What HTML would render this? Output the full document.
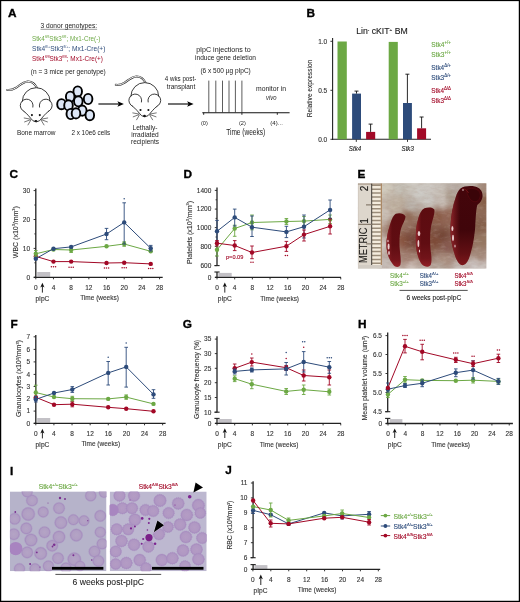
<!DOCTYPE html>
<html><head><meta charset="utf-8"><title>Figure</title>
<style>html,body{margin:0;padding:0;background:#fff;}body{width:520px;height:602px;overflow:hidden;}svg{display:block;will-change:transform;}text{font-family:"Liberation Sans", sans-serif;}</style>
</head><body>
<svg xmlns="http://www.w3.org/2000/svg" width="520" height="602" viewBox="0 0 520 602" font-family='"Liberation Sans", sans-serif'>
<rect x="0.00" y="0.00" width="520.00" height="602.00" fill="#fff" />
<text x="8.00" y="16.70" font-size="11.8" fill="#000" stroke="#000" stroke-width="0.35" font-weight="bold" >A</text>
<text x="40.50" y="28.20" font-size="7.1" fill="#222" stroke="none" textLength="56.6" lengthAdjust="spacingAndGlyphs" >3 donor genotypes:</text>
<line x1="40.50" y1="29.30" x2="97.10" y2="29.30" stroke="#333" stroke-width="0.5" />
<text x="32.1" y="41.2" font-size="7.2" fill="#6ca844" stroke="none" textLength="68.3" lengthAdjust="spacingAndGlyphs">Stk4<tspan font-size="4" dy="-3">fl/fl</tspan><tspan dy="3">Stk3</tspan><tspan font-size="4" dy="-3">fl/fl</tspan><tspan dy="3">; Mx1-Cre(-)</tspan></text>
<text x="32.1" y="51.4" font-size="7.2" fill="#2d4b7a" stroke="none" textLength="73.3" lengthAdjust="spacingAndGlyphs">Stk4<tspan font-size="4" dy="-3">fl/+</tspan><tspan dy="3">Stk3</tspan><tspan font-size="4" dy="-3">fl/+</tspan><tspan dy="3">; Mx1-Cre(+)</tspan></text>
<text x="32.1" y="61.4" font-size="7.2" fill="#a20826" stroke="none" textLength="70.8" lengthAdjust="spacingAndGlyphs">Stk4<tspan font-size="4" dy="-3">fl/fl</tspan><tspan dy="3">Stk3</tspan><tspan font-size="4" dy="-3">fl/fl</tspan><tspan dy="3">; Mx1-Cre(+)</tspan></text>
<text x="30.80" y="74.30" font-size="7.1" fill="#222" stroke="none" textLength="75.0" lengthAdjust="spacingAndGlyphs" >(n = 3 mice per genotype)</text>
<g transform="translate(36.20,101.50) scale(1.0)">
<path d="M0.8,-13.6 C-1.5,-18.2 -5,-20.2 -8.5,-20.0 C-13,-19.6 -16.5,-16.2 -20.5,-13.6 C-23.5,-11.8 -26.5,-11.2 -29.0,-11.6" fill="none" stroke="#2a2a2a" stroke-width="2.0" stroke-linecap="round"/>
<path d="M0.8,-13.6 C-1.5,-18.2 -5,-20.2 -8.5,-20.0 C-13,-19.6 -16.5,-16.2 -20.5,-13.6 C-23.5,-11.8 -26.5,-11.2 -29.0,-11.6" fill="none" stroke="#fff" stroke-width="0.95" stroke-linecap="round"/>
<path d="M-13.9,-0.3 A13.9,13.5 0 0 1 13.9,-0.3 L16,4 C16,8 13,10 11,10.5 C8,13 5,18 2.5,19.8 Q0,21.3 -2.5,19.8 C-5,18 -8,13 -11,10.5 C-13,10 -16,8 -16,4 Z" fill="#fff"/>
<path d="M-13.9,-0.3 A13.9,13.5 0 0 1 13.9,-0.3" fill="none" stroke="#1a1a1a" stroke-width="0.85" stroke-linecap="round"/>
<path d="M-3.3,5.6 A6.4,6.4 0 1 0 -12.2,9.9" fill="none" stroke="#1a1a1a" stroke-width="0.85" stroke-linecap="round"/>
<path d="M3.3,5.6 A6.4,6.4 0 1 1 12.2,9.9" fill="none" stroke="#1a1a1a" stroke-width="0.85" stroke-linecap="round"/>
<path d="M-12.2,9.9 C-9,12 -6,16.5 -3.2,19.3 Q0,21.6 3.2,19.3 C6,16.5 9,12 12.2,9.9" fill="none" stroke="#1a1a1a" stroke-width="0.85" stroke-linecap="round"/>
<circle cx="-4.3" cy="13.6" r="1.05" fill="#111"/><circle cx="3.6" cy="13.6" r="1.05" fill="#111"/>
<ellipse cx="-0.3" cy="19.5" rx="1.4" ry="1.1" fill="#111"/>
<path d="M-6,17.6 L-12,16.5 M-6,18.3 L-11.6,20.4 M-5.5,18.8 L-8.2,23.4 M5.5,17.6 L11.5,16.5 M5.5,18.3 L11.2,20.4 M5,18.8 L7.8,23.4" stroke="#1a1a1a" stroke-width="0.6" fill="none" stroke-linecap="round"/>
</g>
<ellipse cx="77.7" cy="91.5" rx="4.3" ry="5.1" fill="#dce6f6" stroke="#000" stroke-width="1.9"/>
<ellipse cx="70.2" cy="96.7" rx="4.3" ry="5.1" fill="#dce6f6" stroke="#000" stroke-width="1.9"/>
<ellipse cx="88.1" cy="99.0" rx="4.3" ry="5.1" fill="#dce6f6" stroke="#000" stroke-width="1.9"/>
<ellipse cx="78.3" cy="101.3" rx="4.3" ry="5.1" fill="#dce6f6" stroke="#000" stroke-width="1.9"/>
<ellipse cx="61.5" cy="104.2" rx="4.3" ry="5.1" fill="#dce6f6" stroke="#000" stroke-width="1.9"/>
<ellipse cx="68.5" cy="105.4" rx="4.3" ry="5.1" fill="#dce6f6" stroke="#000" stroke-width="1.9"/>
<ellipse cx="82.3" cy="110.6" rx="4.3" ry="5.1" fill="#dce6f6" stroke="#000" stroke-width="1.9"/>
<ellipse cx="70.8" cy="114.0" rx="4.3" ry="5.1" fill="#dce6f6" stroke="#000" stroke-width="1.9"/>
<ellipse cx="76.0" cy="113.4" rx="4.3" ry="5.1" fill="#dce6f6" stroke="#000" stroke-width="1.9"/>
<ellipse cx="89.8" cy="115.2" rx="4.3" ry="5.1" fill="#dce6f6" stroke="#000" stroke-width="1.9"/>
<g transform="translate(144.80,96.40) scale(1.0)">
<path d="M0.8,-13.6 C-1.5,-18.2 -5,-20.2 -8.5,-20.0 C-13,-19.6 -16.5,-16.2 -20.5,-13.6 C-23.5,-11.8 -26.5,-11.2 -29.0,-11.6" fill="none" stroke="#2a2a2a" stroke-width="2.0" stroke-linecap="round"/>
<path d="M0.8,-13.6 C-1.5,-18.2 -5,-20.2 -8.5,-20.0 C-13,-19.6 -16.5,-16.2 -20.5,-13.6 C-23.5,-11.8 -26.5,-11.2 -29.0,-11.6" fill="none" stroke="#fff" stroke-width="0.95" stroke-linecap="round"/>
<path d="M-13.9,-0.3 A13.9,13.5 0 0 1 13.9,-0.3 L16,4 C16,8 13,10 11,10.5 C8,13 5,18 2.5,19.8 Q0,21.3 -2.5,19.8 C-5,18 -8,13 -11,10.5 C-13,10 -16,8 -16,4 Z" fill="#fff"/>
<path d="M-13.9,-0.3 A13.9,13.5 0 0 1 13.9,-0.3" fill="none" stroke="#1a1a1a" stroke-width="0.85" stroke-linecap="round"/>
<path d="M-3.3,5.6 A6.4,6.4 0 1 0 -12.2,9.9" fill="none" stroke="#1a1a1a" stroke-width="0.85" stroke-linecap="round"/>
<path d="M3.3,5.6 A6.4,6.4 0 1 1 12.2,9.9" fill="none" stroke="#1a1a1a" stroke-width="0.85" stroke-linecap="round"/>
<path d="M-12.2,9.9 C-9,12 -6,16.5 -3.2,19.3 Q0,21.6 3.2,19.3 C6,16.5 9,12 12.2,9.9" fill="none" stroke="#1a1a1a" stroke-width="0.85" stroke-linecap="round"/>
<circle cx="-4.3" cy="13.6" r="1.05" fill="#111"/><circle cx="3.6" cy="13.6" r="1.05" fill="#111"/>
<ellipse cx="-0.3" cy="19.5" rx="1.4" ry="1.1" fill="#111"/>
<path d="M-6,17.6 L-12,16.5 M-6,18.3 L-11.6,20.4 M-5.5,18.8 L-8.2,23.4 M5.5,17.6 L11.5,16.5 M5.5,18.3 L11.2,20.4 M5,18.8 L7.8,23.4" stroke="#1a1a1a" stroke-width="0.6" fill="none" stroke-linecap="round"/>
</g>
<line x1="98.40" y1="104.00" x2="119.90" y2="104.00" stroke="#000" stroke-width="1.1" />
<path d="M117.40,101.20 L123.90,104.00 L117.40,106.80 L118.90,104.00 Z" fill="#000"/>
<line x1="168.00" y1="104.00" x2="189.60" y2="104.00" stroke="#000" stroke-width="1.1" />
<path d="M187.10,101.20 L193.60,104.00 L187.10,106.80 L188.60,104.00 Z" fill="#000"/>
<text x="36.20" y="134.80" font-size="7.0" fill="#222" stroke="none" text-anchor="middle" textLength="38.5" lengthAdjust="spacingAndGlyphs" >Bone marrow</text>
<text x="90.80" y="134.80" font-size="7.0" fill="#222" stroke="none" text-anchor="middle" textLength="38.8" lengthAdjust="spacingAndGlyphs" >2 x 10e6 cells</text>
<text x="145.00" y="129.60" font-size="6.8" fill="#222" stroke="none" text-anchor="middle" textLength="25" lengthAdjust="spacingAndGlyphs" >Lethally-</text>
<text x="145.00" y="137.00" font-size="6.8" fill="#222" stroke="none" text-anchor="middle" textLength="27.5" lengthAdjust="spacingAndGlyphs" >irradiated</text>
<text x="145.00" y="144.40" font-size="6.8" fill="#222" stroke="none" text-anchor="middle" textLength="28" lengthAdjust="spacingAndGlyphs" >recipients</text>
<text x="180.50" y="80.80" font-size="6.8" fill="#222" stroke="none" text-anchor="middle" textLength="31.5" lengthAdjust="spacingAndGlyphs" >4 wks post-</text>
<text x="181.00" y="88.60" font-size="6.8" fill="#222" stroke="none" text-anchor="middle" textLength="28.5" lengthAdjust="spacingAndGlyphs" >transplant</text>
<text x="223.40" y="51.80" font-size="6.8" fill="#222" stroke="none" text-anchor="middle" textLength="54.5" lengthAdjust="spacingAndGlyphs" >pIpC injections to</text>
<text x="225.50" y="60.20" font-size="6.8" fill="#222" stroke="none" text-anchor="middle" textLength="61" lengthAdjust="spacingAndGlyphs" >induce gene deletion</text>
<text x="225.60" y="73.00" font-size="6.8" fill="#222" stroke="none" text-anchor="middle" textLength="50.4" lengthAdjust="spacingAndGlyphs" >(6 x 500 µg pIpC)</text>
<line x1="202.30" y1="112.70" x2="289.60" y2="112.70" stroke="#111" stroke-width="1.1" />
<line x1="208.80" y1="80.60" x2="208.80" y2="112.70" stroke="#333" stroke-width="0.8" />
<line x1="215.80" y1="80.60" x2="215.80" y2="112.70" stroke="#333" stroke-width="0.8" />
<line x1="222.50" y1="80.60" x2="222.50" y2="112.70" stroke="#333" stroke-width="0.8" />
<line x1="229.00" y1="80.60" x2="229.00" y2="112.70" stroke="#333" stroke-width="0.8" />
<line x1="235.40" y1="80.60" x2="235.40" y2="112.70" stroke="#333" stroke-width="0.8" />
<line x1="241.90" y1="80.60" x2="241.90" y2="112.70" stroke="#333" stroke-width="0.8" />
<line x1="203.70" y1="112.70" x2="203.70" y2="114.80" stroke="#111" stroke-width="0.9" />
<line x1="241.90" y1="112.70" x2="241.90" y2="114.80" stroke="#111" stroke-width="0.9" />
<line x1="277.30" y1="112.70" x2="277.30" y2="114.80" stroke="#111" stroke-width="0.9" />
<text x="204.40" y="124.60" font-size="5.6" fill="#222" stroke="none" text-anchor="middle" >(0)</text>
<text x="242.40" y="124.60" font-size="5.6" fill="#222" stroke="none" text-anchor="middle" >(2)</text>
<text x="276.60" y="124.60" font-size="5.6" fill="#222" stroke="none" text-anchor="middle" textLength="12.5" lengthAdjust="spacingAndGlyphs" >(4)...</text>
<text x="245.70" y="135.40" font-size="8.2" fill="#222" stroke="none" text-anchor="middle" textLength="39" lengthAdjust="spacingAndGlyphs" >Time (weeks)</text>
<text x="271.00" y="91.00" font-size="6.6" fill="#222" stroke="none" text-anchor="middle" textLength="30" lengthAdjust="spacingAndGlyphs" >monitor in</text>
<text x="271.30" y="99.60" font-size="6.6" fill="#222" stroke="none" text-anchor="middle" font-style="italic" textLength="10.5" lengthAdjust="spacingAndGlyphs" >vivo</text>
<text x="306.40" y="16.60" font-size="11.8" fill="#000" stroke="#000" stroke-width="0.35" font-weight="bold" >B</text>
<text x="356.2" y="34.0" font-size="8.2" fill="#222" stroke="#222" stroke-width="0.12" textLength="51.5" lengthAdjust="spacingAndGlyphs">Lin<tspan font-size="4.4" dy="-3.2">-</tspan><tspan dy="3.2"> cKIT</tspan><tspan font-size="4.4" dy="-3.2">+</tspan><tspan dy="3.2"> BM</tspan></text>
<line x1="332.60" y1="38.00" x2="332.60" y2="139.90" stroke="#222" stroke-width="1.1" />
<line x1="332.00" y1="139.30" x2="431.00" y2="139.30" stroke="#222" stroke-width="1.1" />
<line x1="330.40" y1="41.30" x2="332.60" y2="41.30" stroke="#222" stroke-width="0.9" />
<text x="327.20" y="43.65" font-size="6.5" fill="#333" stroke="#333" stroke-width="0.12" text-anchor="end" >1.0</text>
<line x1="330.40" y1="90.30" x2="332.60" y2="90.30" stroke="#222" stroke-width="0.9" />
<text x="327.20" y="92.65" font-size="6.5" fill="#333" stroke="#333" stroke-width="0.12" text-anchor="end" >0.5</text>
<line x1="330.40" y1="139.30" x2="332.60" y2="139.30" stroke="#222" stroke-width="0.9" />
<text x="327.20" y="141.65" font-size="6.5" fill="#333" stroke="#333" stroke-width="0.12" text-anchor="end" >0.0</text>
<line x1="356.30" y1="139.30" x2="356.30" y2="141.90" stroke="#222" stroke-width="0.9" />
<line x1="407.50" y1="139.30" x2="407.50" y2="141.90" stroke="#222" stroke-width="0.9" />
<rect x="337.50" y="41.50" width="9.30" height="97.80" fill="#6ca844" />
<rect x="352.10" y="93.60" width="8.90" height="45.70" fill="#2d4b7a" />
<rect x="366.10" y="131.90" width="9.10" height="7.40" fill="#a20a28" />
<rect x="388.70" y="41.90" width="9.10" height="97.40" fill="#6ca844" />
<rect x="403.00" y="103.00" width="8.90" height="36.30" fill="#2d4b7a" />
<rect x="417.10" y="128.30" width="9.00" height="11.00" fill="#a20a28" />
<line x1="356.50" y1="91.10" x2="356.50" y2="93.60" stroke="#111" stroke-width="0.9" />
<line x1="354.50" y1="91.10" x2="358.50" y2="91.10" stroke="#111" stroke-width="0.9" />
<line x1="370.60" y1="124.10" x2="370.60" y2="131.90" stroke="#111" stroke-width="0.9" />
<line x1="368.60" y1="124.10" x2="372.60" y2="124.10" stroke="#111" stroke-width="0.9" />
<line x1="407.40" y1="74.20" x2="407.40" y2="103.00" stroke="#111" stroke-width="0.9" />
<line x1="405.40" y1="74.20" x2="409.40" y2="74.20" stroke="#111" stroke-width="0.9" />
<line x1="421.60" y1="117.00" x2="421.60" y2="128.30" stroke="#111" stroke-width="0.9" />
<line x1="419.60" y1="117.00" x2="423.60" y2="117.00" stroke="#111" stroke-width="0.9" />
<text x="355.00" y="151.20" font-size="6.6" fill="#222" stroke="#222" stroke-width="0.12" text-anchor="middle" font-style="italic" textLength="12.4" lengthAdjust="spacingAndGlyphs" >Stk4</text>
<text x="407.70" y="151.00" font-size="6.6" fill="#222" stroke="#222" stroke-width="0.12" text-anchor="middle" font-style="italic" textLength="12.4" lengthAdjust="spacingAndGlyphs" >Stk3</text>
<text x="312.20" y="88.50" font-size="7.0" fill="#333" stroke="#333" stroke-width="0.12" text-anchor="middle" textLength="57.5" lengthAdjust="spacingAndGlyphs" transform="rotate(-90 312.20 88.50)" >Relative expression</text>
<text x="431.3" y="47.0" font-size="6.8" fill="#6ca844" textLength="19.6" lengthAdjust="spacingAndGlyphs" stroke="#6ca844" stroke-width="0.12">Stk4<tspan font-size="4.6" dy="-3.0">+/+</tspan></text>
<text x="431.3" y="57.0" font-size="6.8" fill="#6ca844" textLength="19.6" lengthAdjust="spacingAndGlyphs" stroke="#6ca844" stroke-width="0.12">Stk3<tspan font-size="4.6" dy="-3.0">+/+</tspan></text>
<text x="431.3" y="70.1" font-size="6.8" fill="#2d4b7a" textLength="19.6" lengthAdjust="spacingAndGlyphs" stroke="#2d4b7a" stroke-width="0.12">Stk4<tspan font-size="4.6" dy="-3.0">Δ/+</tspan></text>
<text x="431.3" y="80.1" font-size="6.8" fill="#2d4b7a" textLength="19.6" lengthAdjust="spacingAndGlyphs" stroke="#2d4b7a" stroke-width="0.12">Stk3<tspan font-size="4.6" dy="-3.0">Δ/+</tspan></text>
<text x="431.3" y="93.4" font-size="6.8" fill="#a20826" textLength="19.6" lengthAdjust="spacingAndGlyphs" stroke="#a20826" stroke-width="0.12">Stk4<tspan font-size="4.6" dy="-3.0">Δ/Δ</tspan></text>
<text x="431.3" y="103.4" font-size="6.8" fill="#a20826" textLength="19.6" lengthAdjust="spacingAndGlyphs" stroke="#a20826" stroke-width="0.12">Stk3<tspan font-size="4.6" dy="-3.0">Δ/Δ</tspan></text>
<text x="9.40" y="178.00" font-size="11.8" fill="#000" stroke="#000" stroke-width="0.35" font-weight="bold" >C</text>
<rect x="37.20" y="272.00" width="13.00" height="4.70" fill="#c3c1c6" />
<line x1="35.80" y1="188.40" x2="35.80" y2="277.30" stroke="#222" stroke-width="1.3" />
<line x1="33.80" y1="277.30" x2="162.70" y2="277.30" stroke="#222" stroke-width="1.3" />
<line x1="33.60" y1="190.60" x2="35.80" y2="190.60" stroke="#222" stroke-width="0.9" />
<text x="30.10" y="192.95" font-size="6.5" fill="#333" stroke="#333" stroke-width="0.12" text-anchor="end" >30</text>
<line x1="34.30" y1="205.00" x2="35.80" y2="205.00" stroke="#222" stroke-width="0.8" />
<line x1="33.60" y1="219.50" x2="35.80" y2="219.50" stroke="#222" stroke-width="0.9" />
<text x="30.10" y="221.85" font-size="6.5" fill="#333" stroke="#333" stroke-width="0.12" text-anchor="end" >20</text>
<line x1="34.30" y1="233.90" x2="35.80" y2="233.90" stroke="#222" stroke-width="0.8" />
<line x1="33.60" y1="248.40" x2="35.80" y2="248.40" stroke="#222" stroke-width="0.9" />
<text x="30.10" y="250.75" font-size="6.5" fill="#333" stroke="#333" stroke-width="0.12" text-anchor="end" >10</text>
<line x1="34.30" y1="262.80" x2="35.80" y2="262.80" stroke="#222" stroke-width="0.8" />
<line x1="33.60" y1="277.30" x2="35.80" y2="277.30" stroke="#222" stroke-width="0.9" />
<text x="30.10" y="279.65" font-size="6.5" fill="#333" stroke="#333" stroke-width="0.12" text-anchor="end" >0</text>
<line x1="35.80" y1="277.30" x2="35.80" y2="279.30" stroke="#222" stroke-width="0.9" />
<text x="35.80" y="290.10" font-size="6.5" fill="#333" stroke="#333" stroke-width="0.12" text-anchor="middle" >0</text>
<line x1="53.48" y1="277.30" x2="53.48" y2="279.30" stroke="#222" stroke-width="0.9" />
<text x="53.48" y="290.10" font-size="6.5" fill="#333" stroke="#333" stroke-width="0.12" text-anchor="middle" >4</text>
<line x1="71.16" y1="277.30" x2="71.16" y2="279.30" stroke="#222" stroke-width="0.9" />
<text x="71.16" y="290.10" font-size="6.5" fill="#333" stroke="#333" stroke-width="0.12" text-anchor="middle" >8</text>
<line x1="88.84" y1="277.30" x2="88.84" y2="279.30" stroke="#222" stroke-width="0.9" />
<text x="88.84" y="290.10" font-size="6.5" fill="#333" stroke="#333" stroke-width="0.12" text-anchor="middle" >12</text>
<line x1="106.52" y1="277.30" x2="106.52" y2="279.30" stroke="#222" stroke-width="0.9" />
<text x="106.52" y="290.10" font-size="6.5" fill="#333" stroke="#333" stroke-width="0.12" text-anchor="middle" >16</text>
<line x1="124.20" y1="277.30" x2="124.20" y2="279.30" stroke="#222" stroke-width="0.9" />
<text x="124.20" y="290.10" font-size="6.5" fill="#333" stroke="#333" stroke-width="0.12" text-anchor="middle" >20</text>
<line x1="141.88" y1="277.30" x2="141.88" y2="279.30" stroke="#222" stroke-width="0.9" />
<text x="141.88" y="290.10" font-size="6.5" fill="#333" stroke="#333" stroke-width="0.12" text-anchor="middle" >24</text>
<line x1="159.56" y1="277.30" x2="159.56" y2="279.30" stroke="#222" stroke-width="0.9" />
<text x="159.56" y="290.10" font-size="6.5" fill="#333" stroke="#333" stroke-width="0.12" text-anchor="middle" >28</text>
<text x="17.70" y="232.20" font-size="8.0" fill="#333" stroke="#333" stroke-width="0.12" text-anchor="middle" textLength="52" lengthAdjust="spacingAndGlyphs" transform="rotate(-90 17.70 232.20)" >WBC (x10<tspan font-size="4.3" dy="-2.6">3</tspan><tspan dy="2.6">/mm</tspan><tspan font-size="4.3" dy="-2.6">3</tspan><tspan dy="2.6">)</tspan></text>
<line x1="42.40" y1="285.80" x2="42.40" y2="292.60" stroke="#111" stroke-width="0.9" />
<path d="M40.30,287.40 L42.40,282.80 L44.50,287.40 L42.40,286.20 Z" fill="#111"/>
<text x="42.40" y="301.40" font-size="6.6" fill="#333" stroke="#333" stroke-width="0.12" text-anchor="middle" textLength="14.0" lengthAdjust="spacingAndGlyphs" >pIpC</text>
<text x="99.55" y="300.30" font-size="8.0" fill="#333" stroke="#333" stroke-width="0.12" text-anchor="middle" textLength="38.7" lengthAdjust="spacingAndGlyphs" >Time (weeks)</text>
<path d="M35.80,256.40 L53.48,261.60 L71.16,261.60 L106.52,263.00 L124.20,262.70 L150.72,263.90" fill="none" stroke="#a20826" stroke-width="1.0" stroke-linejoin="round"/>
<line x1="35.80" y1="254.00" x2="35.80" y2="259.00" stroke="#a20826" stroke-width="0.9" />
<line x1="34.00" y1="254.00" x2="37.60" y2="254.00" stroke="#a20826" stroke-width="0.9" />
<line x1="34.00" y1="259.00" x2="37.60" y2="259.00" stroke="#a20826" stroke-width="0.9" />
<circle cx="35.80" cy="256.40" r="2.2" fill="#a20826" />
<circle cx="53.48" cy="261.60" r="2.2" fill="#a20826" />
<circle cx="71.16" cy="261.60" r="2.2" fill="#a20826" />
<circle cx="106.52" cy="263.00" r="2.2" fill="#a20826" />
<circle cx="124.20" cy="262.70" r="2.2" fill="#a20826" />
<circle cx="150.72" cy="263.90" r="2.2" fill="#a20826" />
<path d="M35.80,253.80 L53.48,249.50 L71.16,250.00 L106.52,246.30 L124.20,244.00 L150.72,251.30" fill="none" stroke="#6ca844" stroke-width="1.0" stroke-linejoin="round"/>
<line x1="35.80" y1="250.50" x2="35.80" y2="256.50" stroke="#6ca844" stroke-width="0.9" />
<line x1="34.00" y1="250.50" x2="37.60" y2="250.50" stroke="#6ca844" stroke-width="0.9" />
<line x1="34.00" y1="256.50" x2="37.60" y2="256.50" stroke="#6ca844" stroke-width="0.9" />
<line x1="71.16" y1="247.50" x2="71.16" y2="252.50" stroke="#6ca844" stroke-width="0.9" />
<line x1="69.36" y1="247.50" x2="72.96" y2="247.50" stroke="#6ca844" stroke-width="0.9" />
<line x1="69.36" y1="252.50" x2="72.96" y2="252.50" stroke="#6ca844" stroke-width="0.9" />
<line x1="124.20" y1="241.80" x2="124.20" y2="246.30" stroke="#6ca844" stroke-width="0.9" />
<line x1="122.40" y1="241.80" x2="126.00" y2="241.80" stroke="#6ca844" stroke-width="0.9" />
<line x1="122.40" y1="246.30" x2="126.00" y2="246.30" stroke="#6ca844" stroke-width="0.9" />
<circle cx="35.80" cy="253.80" r="2.2" fill="#6ca844" />
<circle cx="53.48" cy="249.50" r="2.2" fill="#6ca844" />
<circle cx="71.16" cy="250.00" r="2.2" fill="#6ca844" />
<circle cx="106.52" cy="246.30" r="2.2" fill="#6ca844" />
<circle cx="124.20" cy="244.00" r="2.2" fill="#6ca844" />
<circle cx="150.72" cy="251.30" r="2.2" fill="#6ca844" />
<path d="M35.80,258.70 L53.48,248.70 L71.16,246.90 L106.52,234.00 L124.20,222.40 L150.72,248.30" fill="none" stroke="#2d4b7a" stroke-width="1.0" stroke-linejoin="round"/>
<line x1="106.52" y1="228.40" x2="106.52" y2="239.70" stroke="#2d4b7a" stroke-width="0.9" />
<line x1="104.72" y1="228.40" x2="108.32" y2="228.40" stroke="#2d4b7a" stroke-width="0.9" />
<line x1="104.72" y1="239.70" x2="108.32" y2="239.70" stroke="#2d4b7a" stroke-width="0.9" />
<line x1="124.20" y1="202.80" x2="124.20" y2="244.00" stroke="#2d4b7a" stroke-width="0.9" />
<line x1="122.40" y1="202.80" x2="126.00" y2="202.80" stroke="#2d4b7a" stroke-width="0.9" />
<line x1="122.40" y1="244.00" x2="126.00" y2="244.00" stroke="#2d4b7a" stroke-width="0.9" />
<line x1="150.72" y1="245.40" x2="150.72" y2="251.00" stroke="#2d4b7a" stroke-width="0.9" />
<line x1="148.92" y1="245.40" x2="152.52" y2="245.40" stroke="#2d4b7a" stroke-width="0.9" />
<line x1="148.92" y1="251.00" x2="152.52" y2="251.00" stroke="#2d4b7a" stroke-width="0.9" />
<circle cx="35.80" cy="258.70" r="2.2" fill="#2d4b7a" />
<circle cx="53.48" cy="248.70" r="2.2" fill="#2d4b7a" />
<circle cx="71.16" cy="246.90" r="2.2" fill="#2d4b7a" />
<circle cx="106.52" cy="234.00" r="2.2" fill="#2d4b7a" />
<circle cx="124.20" cy="222.40" r="2.2" fill="#2d4b7a" />
<circle cx="150.72" cy="248.30" r="2.2" fill="#2d4b7a" />
<circle cx="124.20" cy="198.70" r="0.75" fill="#2d4b7a" />
<circle cx="51.38" cy="266.80" r="0.75" fill="#a20826" />
<circle cx="53.48" cy="266.80" r="0.75" fill="#a20826" />
<circle cx="55.58" cy="266.80" r="0.75" fill="#a20826" />
<circle cx="69.06" cy="267.20" r="0.75" fill="#a20826" />
<circle cx="71.16" cy="267.20" r="0.75" fill="#a20826" />
<circle cx="73.26" cy="267.20" r="0.75" fill="#a20826" />
<circle cx="104.42" cy="268.00" r="0.75" fill="#a20826" />
<circle cx="106.52" cy="268.00" r="0.75" fill="#a20826" />
<circle cx="108.62" cy="268.00" r="0.75" fill="#a20826" />
<circle cx="122.10" cy="267.80" r="0.75" fill="#a20826" />
<circle cx="124.20" cy="267.80" r="0.75" fill="#a20826" />
<circle cx="126.30" cy="267.80" r="0.75" fill="#a20826" />
<circle cx="148.62" cy="268.60" r="0.75" fill="#a20826" />
<circle cx="150.72" cy="268.60" r="0.75" fill="#a20826" />
<circle cx="152.82" cy="268.60" r="0.75" fill="#a20826" />
<text x="183.60" y="178.00" font-size="11.8" fill="#000" stroke="#000" stroke-width="0.35" font-weight="bold" >D</text>
<rect x="218.30" y="272.90" width="13.40" height="3.80" fill="#c3c1c6" />
<line x1="217.00" y1="187.50" x2="217.00" y2="265.60" stroke="#222" stroke-width="1.3" />
<line x1="214.40" y1="265.60" x2="219.60" y2="265.60" stroke="#222" stroke-width="1.1" />
<line x1="217.00" y1="272.00" x2="217.00" y2="277.40" stroke="#222" stroke-width="1.3" />
<line x1="214.40" y1="272.00" x2="219.60" y2="272.00" stroke="#222" stroke-width="1.1" />
<line x1="215.00" y1="277.40" x2="341.00" y2="277.40" stroke="#222" stroke-width="1.3" />
<line x1="214.80" y1="190.40" x2="217.00" y2="190.40" stroke="#222" stroke-width="0.9" />
<text x="211.30" y="192.75" font-size="6.5" fill="#333" stroke="#333" stroke-width="0.12" text-anchor="end" >1400</text>
<line x1="215.50" y1="199.80" x2="217.00" y2="199.80" stroke="#222" stroke-width="0.8" />
<line x1="214.80" y1="209.10" x2="217.00" y2="209.10" stroke="#222" stroke-width="0.9" />
<text x="211.30" y="211.45" font-size="6.5" fill="#333" stroke="#333" stroke-width="0.12" text-anchor="end" >1200</text>
<line x1="215.50" y1="218.40" x2="217.00" y2="218.40" stroke="#222" stroke-width="0.8" />
<line x1="214.80" y1="227.60" x2="217.00" y2="227.60" stroke="#222" stroke-width="0.9" />
<text x="211.30" y="229.95" font-size="6.5" fill="#333" stroke="#333" stroke-width="0.12" text-anchor="end" >1000</text>
<line x1="215.50" y1="237.00" x2="217.00" y2="237.00" stroke="#222" stroke-width="0.8" />
<line x1="214.80" y1="246.30" x2="217.00" y2="246.30" stroke="#222" stroke-width="0.9" />
<text x="211.30" y="248.65" font-size="6.5" fill="#333" stroke="#333" stroke-width="0.12" text-anchor="end" >800</text>
<line x1="215.50" y1="256.00" x2="217.00" y2="256.00" stroke="#222" stroke-width="0.8" />
<line x1="214.80" y1="265.60" x2="217.00" y2="265.60" stroke="#222" stroke-width="0.9" />
<text x="211.30" y="267.95" font-size="6.5" fill="#333" stroke="#333" stroke-width="0.12" text-anchor="end" >600</text>
<line x1="214.80" y1="277.40" x2="217.00" y2="277.40" stroke="#222" stroke-width="0.9" />
<text x="211.30" y="279.75" font-size="6.5" fill="#333" stroke="#333" stroke-width="0.12" text-anchor="end" >0</text>
<line x1="217.00" y1="277.40" x2="217.00" y2="279.40" stroke="#222" stroke-width="0.9" />
<text x="217.00" y="290.10" font-size="6.5" fill="#333" stroke="#333" stroke-width="0.12" text-anchor="middle" >0</text>
<line x1="234.68" y1="277.40" x2="234.68" y2="279.40" stroke="#222" stroke-width="0.9" />
<text x="234.68" y="290.10" font-size="6.5" fill="#333" stroke="#333" stroke-width="0.12" text-anchor="middle" >4</text>
<line x1="252.36" y1="277.40" x2="252.36" y2="279.40" stroke="#222" stroke-width="0.9" />
<text x="252.36" y="290.10" font-size="6.5" fill="#333" stroke="#333" stroke-width="0.12" text-anchor="middle" >8</text>
<line x1="270.04" y1="277.40" x2="270.04" y2="279.40" stroke="#222" stroke-width="0.9" />
<text x="270.04" y="290.10" font-size="6.5" fill="#333" stroke="#333" stroke-width="0.12" text-anchor="middle" >12</text>
<line x1="287.72" y1="277.40" x2="287.72" y2="279.40" stroke="#222" stroke-width="0.9" />
<text x="287.72" y="290.10" font-size="6.5" fill="#333" stroke="#333" stroke-width="0.12" text-anchor="middle" >16</text>
<line x1="305.40" y1="277.40" x2="305.40" y2="279.40" stroke="#222" stroke-width="0.9" />
<text x="305.40" y="290.10" font-size="6.5" fill="#333" stroke="#333" stroke-width="0.12" text-anchor="middle" >20</text>
<line x1="323.08" y1="277.40" x2="323.08" y2="279.40" stroke="#222" stroke-width="0.9" />
<text x="323.08" y="290.10" font-size="6.5" fill="#333" stroke="#333" stroke-width="0.12" text-anchor="middle" >24</text>
<line x1="340.76" y1="277.40" x2="340.76" y2="279.40" stroke="#222" stroke-width="0.9" />
<text x="340.76" y="290.10" font-size="6.5" fill="#333" stroke="#333" stroke-width="0.12" text-anchor="middle" >28</text>
<text x="192.10" y="232.50" font-size="8.0" fill="#333" stroke="#333" stroke-width="0.12" text-anchor="middle" textLength="63" lengthAdjust="spacingAndGlyphs" transform="rotate(-90 192.10 232.50)" >Platelets (x10<tspan font-size="4.3" dy="-2.6">3</tspan><tspan dy="2.6">/mm</tspan><tspan font-size="4.3" dy="-2.6">3</tspan><tspan dy="2.6">)</tspan></text>
<line x1="224.80" y1="285.50" x2="224.80" y2="292.60" stroke="#111" stroke-width="0.9" />
<path d="M222.70,287.10 L224.80,282.50 L226.90,287.10 L224.80,285.90 Z" fill="#111"/>
<text x="224.80" y="301.40" font-size="6.6" fill="#333" stroke="#333" stroke-width="0.12" text-anchor="middle" textLength="14.0" lengthAdjust="spacingAndGlyphs" >pIpC</text>
<text x="279.70" y="300.50" font-size="8.0" fill="#333" stroke="#333" stroke-width="0.12" text-anchor="middle" textLength="38.7" lengthAdjust="spacingAndGlyphs" >Time (weeks)</text>
<path d="M217.00,249.80 L234.70,228.50 L252.00,222.50 L286.40,221.50 L304.00,221.10 L330.10,219.40" fill="none" stroke="#6ca844" stroke-width="1.0" stroke-linejoin="round"/>
<line x1="217.00" y1="243.00" x2="217.00" y2="256.00" stroke="#6ca844" stroke-width="0.9" />
<line x1="215.20" y1="243.00" x2="218.80" y2="243.00" stroke="#6ca844" stroke-width="0.9" />
<line x1="215.20" y1="256.00" x2="218.80" y2="256.00" stroke="#6ca844" stroke-width="0.9" />
<line x1="234.70" y1="225.20" x2="234.70" y2="236.30" stroke="#6ca844" stroke-width="0.9" />
<line x1="232.90" y1="225.20" x2="236.50" y2="225.20" stroke="#6ca844" stroke-width="0.9" />
<line x1="232.90" y1="236.30" x2="236.50" y2="236.30" stroke="#6ca844" stroke-width="0.9" />
<line x1="252.00" y1="215.00" x2="252.00" y2="229.80" stroke="#6ca844" stroke-width="0.9" />
<line x1="250.20" y1="215.00" x2="253.80" y2="215.00" stroke="#6ca844" stroke-width="0.9" />
<line x1="250.20" y1="229.80" x2="253.80" y2="229.80" stroke="#6ca844" stroke-width="0.9" />
<line x1="286.40" y1="218.50" x2="286.40" y2="224.50" stroke="#6ca844" stroke-width="0.9" />
<line x1="284.60" y1="218.50" x2="288.20" y2="218.50" stroke="#6ca844" stroke-width="0.9" />
<line x1="284.60" y1="224.50" x2="288.20" y2="224.50" stroke="#6ca844" stroke-width="0.9" />
<line x1="304.00" y1="216.50" x2="304.00" y2="226.00" stroke="#6ca844" stroke-width="0.9" />
<line x1="302.20" y1="216.50" x2="305.80" y2="216.50" stroke="#6ca844" stroke-width="0.9" />
<line x1="302.20" y1="226.00" x2="305.80" y2="226.00" stroke="#6ca844" stroke-width="0.9" />
<line x1="330.10" y1="215.00" x2="330.10" y2="223.50" stroke="#6ca844" stroke-width="0.9" />
<line x1="328.30" y1="215.00" x2="331.90" y2="215.00" stroke="#6ca844" stroke-width="0.9" />
<line x1="328.30" y1="223.50" x2="331.90" y2="223.50" stroke="#6ca844" stroke-width="0.9" />
<circle cx="217.00" cy="249.80" r="2.2" fill="#6ca844" />
<circle cx="234.70" cy="228.50" r="2.2" fill="#6ca844" />
<circle cx="252.00" cy="222.50" r="2.2" fill="#6ca844" />
<circle cx="286.40" cy="221.50" r="2.2" fill="#6ca844" />
<circle cx="304.00" cy="221.10" r="2.2" fill="#6ca844" />
<circle cx="330.10" cy="219.40" r="2.2" fill="#6ca844" />
<path d="M217.00,231.30 L234.70,217.40 L252.00,227.20 L286.40,231.90 L304.00,226.70 L330.10,209.90" fill="none" stroke="#2d4b7a" stroke-width="1.0" stroke-linejoin="round"/>
<line x1="217.00" y1="220.40" x2="217.00" y2="242.00" stroke="#2d4b7a" stroke-width="0.9" />
<line x1="215.20" y1="220.40" x2="218.80" y2="220.40" stroke="#2d4b7a" stroke-width="0.9" />
<line x1="215.20" y1="242.00" x2="218.80" y2="242.00" stroke="#2d4b7a" stroke-width="0.9" />
<line x1="234.70" y1="209.10" x2="234.70" y2="226.00" stroke="#2d4b7a" stroke-width="0.9" />
<line x1="232.90" y1="209.10" x2="236.50" y2="209.10" stroke="#2d4b7a" stroke-width="0.9" />
<line x1="232.90" y1="226.00" x2="236.50" y2="226.00" stroke="#2d4b7a" stroke-width="0.9" />
<line x1="252.00" y1="216.00" x2="252.00" y2="236.50" stroke="#2d4b7a" stroke-width="0.9" />
<line x1="250.20" y1="216.00" x2="253.80" y2="216.00" stroke="#2d4b7a" stroke-width="0.9" />
<line x1="250.20" y1="236.50" x2="253.80" y2="236.50" stroke="#2d4b7a" stroke-width="0.9" />
<line x1="286.40" y1="226.30" x2="286.40" y2="237.60" stroke="#2d4b7a" stroke-width="0.9" />
<line x1="284.60" y1="226.30" x2="288.20" y2="226.30" stroke="#2d4b7a" stroke-width="0.9" />
<line x1="284.60" y1="237.60" x2="288.20" y2="237.60" stroke="#2d4b7a" stroke-width="0.9" />
<line x1="304.00" y1="215.00" x2="304.00" y2="238.00" stroke="#2d4b7a" stroke-width="0.9" />
<line x1="302.20" y1="215.00" x2="305.80" y2="215.00" stroke="#2d4b7a" stroke-width="0.9" />
<line x1="302.20" y1="238.00" x2="305.80" y2="238.00" stroke="#2d4b7a" stroke-width="0.9" />
<line x1="330.10" y1="200.00" x2="330.10" y2="218.50" stroke="#2d4b7a" stroke-width="0.9" />
<line x1="328.30" y1="200.00" x2="331.90" y2="200.00" stroke="#2d4b7a" stroke-width="0.9" />
<line x1="328.30" y1="218.50" x2="331.90" y2="218.50" stroke="#2d4b7a" stroke-width="0.9" />
<circle cx="217.00" cy="231.30" r="2.2" fill="#2d4b7a" />
<circle cx="234.70" cy="217.40" r="2.2" fill="#2d4b7a" />
<circle cx="252.00" cy="227.20" r="2.2" fill="#2d4b7a" />
<circle cx="286.40" cy="231.90" r="2.2" fill="#2d4b7a" />
<circle cx="304.00" cy="226.70" r="2.2" fill="#2d4b7a" />
<circle cx="330.10" cy="209.90" r="2.2" fill="#2d4b7a" />
<path d="M217.00,243.20 L234.70,245.50 L252.00,252.50 L286.40,246.20 L304.00,234.60 L330.10,226.30" fill="none" stroke="#a20826" stroke-width="1.0" stroke-linejoin="round"/>
<line x1="217.00" y1="240.50" x2="217.00" y2="246.00" stroke="#a20826" stroke-width="0.9" />
<line x1="215.20" y1="240.50" x2="218.80" y2="240.50" stroke="#a20826" stroke-width="0.9" />
<line x1="215.20" y1="246.00" x2="218.80" y2="246.00" stroke="#a20826" stroke-width="0.9" />
<line x1="234.70" y1="240.60" x2="234.70" y2="250.60" stroke="#a20826" stroke-width="0.9" />
<line x1="232.90" y1="240.60" x2="236.50" y2="240.60" stroke="#a20826" stroke-width="0.9" />
<line x1="232.90" y1="250.60" x2="236.50" y2="250.60" stroke="#a20826" stroke-width="0.9" />
<line x1="252.00" y1="246.00" x2="252.00" y2="258.70" stroke="#a20826" stroke-width="0.9" />
<line x1="250.20" y1="246.00" x2="253.80" y2="246.00" stroke="#a20826" stroke-width="0.9" />
<line x1="250.20" y1="258.70" x2="253.80" y2="258.70" stroke="#a20826" stroke-width="0.9" />
<line x1="286.40" y1="241.40" x2="286.40" y2="251.40" stroke="#a20826" stroke-width="0.9" />
<line x1="284.60" y1="241.40" x2="288.20" y2="241.40" stroke="#a20826" stroke-width="0.9" />
<line x1="284.60" y1="251.40" x2="288.20" y2="251.40" stroke="#a20826" stroke-width="0.9" />
<line x1="304.00" y1="230.00" x2="304.00" y2="241.00" stroke="#a20826" stroke-width="0.9" />
<line x1="302.20" y1="230.00" x2="305.80" y2="230.00" stroke="#a20826" stroke-width="0.9" />
<line x1="302.20" y1="241.00" x2="305.80" y2="241.00" stroke="#a20826" stroke-width="0.9" />
<line x1="330.10" y1="219.00" x2="330.10" y2="234.00" stroke="#a20826" stroke-width="0.9" />
<line x1="328.30" y1="219.00" x2="331.90" y2="219.00" stroke="#a20826" stroke-width="0.9" />
<line x1="328.30" y1="234.00" x2="331.90" y2="234.00" stroke="#a20826" stroke-width="0.9" />
<circle cx="217.00" cy="243.20" r="2.2" fill="#a20826" />
<circle cx="234.70" cy="245.50" r="2.2" fill="#a20826" />
<circle cx="252.00" cy="252.50" r="2.2" fill="#a20826" />
<circle cx="286.40" cy="246.20" r="2.2" fill="#a20826" />
<circle cx="304.00" cy="234.60" r="2.2" fill="#a20826" />
<circle cx="330.10" cy="226.30" r="2.2" fill="#a20826" />
<text x="226.00" y="258.60" font-size="5.6" fill="#a20826" stroke="#a20826" stroke-width="0.12" textLength="17.3" lengthAdjust="spacingAndGlyphs" >p=0.09</text>
<circle cx="250.95" cy="262.20" r="0.75" fill="#a20826" />
<circle cx="253.05" cy="262.20" r="0.75" fill="#a20826" />
<circle cx="285.35" cy="255.60" r="0.75" fill="#a20826" />
<circle cx="287.45" cy="255.60" r="0.75" fill="#a20826" />
<text x="357.60" y="177.60" font-size="11.8" fill="#000" stroke="#000" stroke-width="0.35" font-weight="bold" >E</text>
<defs>
<filter id="blur1" x="-20%" y="-20%" width="140%" height="140%"><feGaussianBlur stdDeviation="1.2"/></filter>
<filter id="blur2" x="-50%" y="-50%" width="200%" height="200%"><feGaussianBlur stdDeviation="3"/></filter>
<filter id="blur05"><feGaussianBlur stdDeviation="0.5"/></filter>
<filter id="blur08" x="-20%" y="-20%" width="140%" height="140%"><feGaussianBlur stdDeviation="0.8"/></filter>
<filter id="tex" x="0" y="0" width="100%" height="100%"><feTurbulence type="fractalNoise" baseFrequency="0.15 0.3" numOctaves="3" seed="11" result="n"/><feColorMatrix in="n" values="0 0 0 0 1  0 0 0 0 0.97  0 0 0 0 0.93  1.0 0 0 0 -0.5" result="w"/><feColorMatrix in="n" values="0 0 0 0 0.3  0 0 0 0 0.15  0 0 0 0 0.1  -1.0 0 0 0 0.5" result="b"/><feMerge><feMergeNode in="w"/><feMergeNode in="b"/></feMerge><feGaussianBlur stdDeviation="0.4"/></filter>
<filter id="tex2" x="0" y="0" width="100%" height="100%"><feTurbulence type="fractalNoise" baseFrequency="0.5" numOctaves="2" seed="3"/><feColorMatrix values="0 0 0 0 0.45  0 0 0 0 0.4  0 0 0 0 0.38  0 0 0 0.25 0"/></filter>
<linearGradient id="bgE" x1="0" y1="0" x2="0" y2="1"><stop offset="0" stop-color="#dbd5ce"/><stop offset="0.45" stop-color="#d6cec7"/><stop offset="1" stop-color="#d3cbc6"/></linearGradient>
<radialGradient id="sp" cx="0.58" cy="0.45" r="0.6"><stop offset="0" stop-color="#62070f"/><stop offset="0.5" stop-color="#740916"/><stop offset="0.8" stop-color="#8c0e1d"/><stop offset="1" stop-color="#a8172b"/></radialGradient>
<clipPath id="clipE"><rect x="357.8" y="183.2" width="128.6" height="85.4"/></clipPath>
</defs>
<defs>
<linearGradient id="spA" x1="0" y1="0" x2="0" y2="1"><stop offset="0" stop-color="#5c0c10"/><stop offset="0.6" stop-color="#600d12"/><stop offset="0.86" stop-color="#72141a"/><stop offset="1" stop-color="#921f25"/></linearGradient>
<linearGradient id="spB" x1="0" y1="0" x2="0" y2="1"><stop offset="0" stop-color="#44060b"/><stop offset="0.55" stop-color="#40050a"/><stop offset="0.85" stop-color="#621014"/><stop offset="1" stop-color="#7e181c"/></linearGradient>
<linearGradient id="spEdge" x1="0" y1="0" x2="1" y2="0"><stop offset="0" stop-color="#96282d" stop-opacity="0.9"/><stop offset="0.3" stop-color="#8a2025" stop-opacity="0"/></linearGradient>
<filter id="blur3" x="-60%" y="-30%" width="220%" height="160%"><feGaussianBlur stdDeviation="3.2"/></filter>
<filter id="blurBg" x="-5%" y="-5%" width="110%" height="110%"><feGaussianBlur stdDeviation="1.4"/></filter>
</defs>
<g clip-path="url(#clipE)">
<rect x="357.80" y="183.20" width="127.80" height="85.60" fill="#ccc5bc" />
<g filter="url(#blurBg)">
<rect x="379" y="181" width="3" height="3" fill="#cdc5b7"/>
<rect x="382" y="181" width="3" height="3" fill="#cdc6b8"/>
<rect x="385" y="181" width="3" height="3" fill="#ccc5b7"/>
<rect x="388" y="181" width="3" height="3" fill="#cac2b5"/>
<rect x="391" y="181" width="3" height="3" fill="#c6beb1"/>
<rect x="394" y="181" width="3" height="3" fill="#c3bcb0"/>
<rect x="397" y="181" width="3" height="3" fill="#c3bbb1"/>
<rect x="400" y="181" width="3" height="3" fill="#c3bcb2"/>
<rect x="403" y="181" width="3" height="3" fill="#c4bdb3"/>
<rect x="406" y="181" width="3" height="3" fill="#c6bfb6"/>
<rect x="409" y="181" width="3" height="3" fill="#c9c3bb"/>
<rect x="412" y="181" width="3" height="3" fill="#cac5bd"/>
<rect x="415" y="181" width="3" height="3" fill="#cbc5bd"/>
<rect x="418" y="181" width="3" height="3" fill="#cac4bd"/>
<rect x="421" y="181" width="3" height="3" fill="#c9c4bc"/>
<rect x="424" y="181" width="3" height="3" fill="#cbc5bf"/>
<rect x="427" y="181" width="3" height="3" fill="#ccc7c1"/>
<rect x="430" y="181" width="3" height="3" fill="#ccc7c1"/>
<rect x="433" y="181" width="3" height="3" fill="#cac4bd"/>
<rect x="436" y="181" width="3" height="3" fill="#c7bfb8"/>
<rect x="439" y="181" width="3" height="3" fill="#c5bcb4"/>
<rect x="442" y="181" width="3" height="3" fill="#c1b8af"/>
<rect x="445" y="181" width="3" height="3" fill="#bcb1a8"/>
<rect x="448" y="181" width="3" height="3" fill="#b8aca4"/>
<rect x="451" y="181" width="3" height="3" fill="#b7aba3"/>
<rect x="454" y="181" width="3" height="3" fill="#b7aba3"/>
<rect x="457" y="181" width="3" height="3" fill="#b7aaa2"/>
<rect x="460" y="181" width="3" height="3" fill="#b8aba3"/>
<rect x="463" y="181" width="3" height="3" fill="#bbb0a7"/>
<rect x="466" y="181" width="3" height="3" fill="#bdb3ab"/>
<rect x="469" y="181" width="3" height="3" fill="#beb3ab"/>
<rect x="472" y="181" width="3" height="3" fill="#bcb1a8"/>
<rect x="475" y="181" width="3" height="3" fill="#b4a59a"/>
<rect x="478" y="181" width="3" height="3" fill="#aa9588"/>
<rect x="481" y="181" width="3" height="3" fill="#a68e7f"/>
<rect x="484" y="181" width="3" height="3" fill="#a48c7c"/>
<rect x="487" y="181" width="3" height="3" fill="#a38a7b"/>
<rect x="379" y="184" width="3" height="3" fill="#cec7b9"/>
<rect x="382" y="184" width="3" height="3" fill="#cfc8ba"/>
<rect x="385" y="184" width="3" height="3" fill="#cec7b9"/>
<rect x="388" y="184" width="3" height="3" fill="#cbc4b6"/>
<rect x="391" y="184" width="3" height="3" fill="#c6beb2"/>
<rect x="394" y="184" width="3" height="3" fill="#c3bcb1"/>
<rect x="397" y="184" width="3" height="3" fill="#c3bdb2"/>
<rect x="400" y="184" width="3" height="3" fill="#c3bdb3"/>
<rect x="403" y="184" width="3" height="3" fill="#c3bdb3"/>
<rect x="406" y="184" width="3" height="3" fill="#c5bfb6"/>
<rect x="409" y="184" width="3" height="3" fill="#c9c4bb"/>
<rect x="412" y="184" width="3" height="3" fill="#cbc6be"/>
<rect x="415" y="184" width="3" height="3" fill="#cbc6be"/>
<rect x="418" y="184" width="3" height="3" fill="#cac5be"/>
<rect x="421" y="184" width="3" height="3" fill="#cac5be"/>
<rect x="424" y="184" width="3" height="3" fill="#cbc6bf"/>
<rect x="427" y="184" width="3" height="3" fill="#cdc8c1"/>
<rect x="430" y="184" width="3" height="3" fill="#cdc7c1"/>
<rect x="433" y="184" width="3" height="3" fill="#cac4bd"/>
<rect x="436" y="184" width="3" height="3" fill="#c7c0b8"/>
<rect x="439" y="184" width="3" height="3" fill="#c7bfb7"/>
<rect x="442" y="184" width="3" height="3" fill="#c3bab2"/>
<rect x="445" y="184" width="3" height="3" fill="#bcb1a8"/>
<rect x="448" y="184" width="3" height="3" fill="#b7aca3"/>
<rect x="451" y="184" width="3" height="3" fill="#b7aba4"/>
<rect x="454" y="184" width="3" height="3" fill="#b7aca4"/>
<rect x="457" y="184" width="3" height="3" fill="#b6aba3"/>
<rect x="460" y="184" width="3" height="3" fill="#b7aba2"/>
<rect x="463" y="184" width="3" height="3" fill="#baafa6"/>
<rect x="466" y="184" width="3" height="3" fill="#bdb3aa"/>
<rect x="469" y="184" width="3" height="3" fill="#beb3ab"/>
<rect x="472" y="184" width="3" height="3" fill="#bbb0a7"/>
<rect x="475" y="184" width="3" height="3" fill="#b19f93"/>
<rect x="478" y="184" width="3" height="3" fill="#a68f80"/>
<rect x="481" y="184" width="3" height="3" fill="#a38b7b"/>
<rect x="484" y="184" width="3" height="3" fill="#a38a7a"/>
<rect x="487" y="184" width="3" height="3" fill="#a28979"/>
<rect x="379" y="187" width="3" height="3" fill="#cec7b9"/>
<rect x="382" y="187" width="3" height="3" fill="#cfc8ba"/>
<rect x="385" y="187" width="3" height="3" fill="#cec7b9"/>
<rect x="388" y="187" width="3" height="3" fill="#cbc4b6"/>
<rect x="391" y="187" width="3" height="3" fill="#c6bdb1"/>
<rect x="394" y="187" width="3" height="3" fill="#c3bcb1"/>
<rect x="397" y="187" width="3" height="3" fill="#c3bdb3"/>
<rect x="400" y="187" width="3" height="3" fill="#c3beb4"/>
<rect x="403" y="187" width="3" height="3" fill="#c3bdb3"/>
<rect x="406" y="187" width="3" height="3" fill="#c4beb4"/>
<rect x="409" y="187" width="3" height="3" fill="#c8c2b9"/>
<rect x="412" y="187" width="3" height="3" fill="#cac5bd"/>
<rect x="415" y="187" width="3" height="3" fill="#cac6be"/>
<rect x="418" y="187" width="3" height="3" fill="#cbc7c1"/>
<rect x="421" y="187" width="3" height="3" fill="#cbc6c0"/>
<rect x="424" y="187" width="3" height="3" fill="#cac5bf"/>
<rect x="427" y="187" width="3" height="3" fill="#cbc6c0"/>
<rect x="430" y="187" width="3" height="3" fill="#cbc5bf"/>
<rect x="433" y="187" width="3" height="3" fill="#c8c1ba"/>
<rect x="436" y="187" width="3" height="3" fill="#c8c1b9"/>
<rect x="439" y="187" width="3" height="3" fill="#c8c0b8"/>
<rect x="442" y="187" width="3" height="3" fill="#c4bbb3"/>
<rect x="445" y="187" width="3" height="3" fill="#bbb0a6"/>
<rect x="448" y="187" width="3" height="3" fill="#b6aaa0"/>
<rect x="451" y="187" width="3" height="3" fill="#b6aba3"/>
<rect x="454" y="187" width="3" height="3" fill="#b7aca5"/>
<rect x="457" y="187" width="3" height="3" fill="#b6aba3"/>
<rect x="460" y="187" width="3" height="3" fill="#b6a9a1"/>
<rect x="463" y="187" width="3" height="3" fill="#b8aba2"/>
<rect x="466" y="187" width="3" height="3" fill="#baafa6"/>
<rect x="469" y="187" width="3" height="3" fill="#bbafa6"/>
<rect x="472" y="187" width="3" height="3" fill="#b6a89e"/>
<rect x="475" y="187" width="3" height="3" fill="#ab9689"/>
<rect x="478" y="187" width="3" height="3" fill="#a48b7c"/>
<rect x="481" y="187" width="3" height="3" fill="#a38a7a"/>
<rect x="484" y="187" width="3" height="3" fill="#a38a7a"/>
<rect x="487" y="187" width="3" height="3" fill="#a28877"/>
<rect x="379" y="190" width="3" height="3" fill="#cdc6b8"/>
<rect x="382" y="190" width="3" height="3" fill="#cec7b9"/>
<rect x="385" y="190" width="3" height="3" fill="#cdc5b8"/>
<rect x="388" y="190" width="3" height="3" fill="#c9c1b3"/>
<rect x="391" y="190" width="3" height="3" fill="#c4bbae"/>
<rect x="394" y="190" width="3" height="3" fill="#c2baaf"/>
<rect x="397" y="190" width="3" height="3" fill="#c3bdb2"/>
<rect x="400" y="190" width="3" height="3" fill="#c3beb3"/>
<rect x="403" y="190" width="3" height="3" fill="#c2bcb2"/>
<rect x="406" y="190" width="3" height="3" fill="#c3bbb1"/>
<rect x="409" y="190" width="3" height="3" fill="#c5beb6"/>
<rect x="412" y="190" width="3" height="3" fill="#c8c3bb"/>
<rect x="415" y="190" width="3" height="3" fill="#cbc8c2"/>
<rect x="418" y="190" width="3" height="3" fill="#cdcac5"/>
<rect x="421" y="190" width="3" height="3" fill="#ccc9c4"/>
<rect x="424" y="190" width="3" height="3" fill="#cac5bf"/>
<rect x="427" y="190" width="3" height="3" fill="#c9c3bc"/>
<rect x="430" y="190" width="3" height="3" fill="#c8c1ba"/>
<rect x="433" y="190" width="3" height="3" fill="#c7bfb7"/>
<rect x="436" y="190" width="3" height="3" fill="#c7c0b8"/>
<rect x="439" y="190" width="3" height="3" fill="#c6bfb7"/>
<rect x="442" y="190" width="3" height="3" fill="#c1b7ae"/>
<rect x="445" y="190" width="3" height="3" fill="#b7aa9f"/>
<rect x="448" y="190" width="3" height="3" fill="#b1a397"/>
<rect x="451" y="190" width="3" height="3" fill="#b2a59a"/>
<rect x="454" y="190" width="3" height="3" fill="#b5a9a0"/>
<rect x="457" y="190" width="3" height="3" fill="#b4a89f"/>
<rect x="460" y="190" width="3" height="3" fill="#b4a69c"/>
<rect x="463" y="190" width="3" height="3" fill="#b4a59b"/>
<rect x="466" y="190" width="3" height="3" fill="#b5a69c"/>
<rect x="469" y="190" width="3" height="3" fill="#b4a499"/>
<rect x="472" y="190" width="3" height="3" fill="#ae9c8f"/>
<rect x="475" y="190" width="3" height="3" fill="#a68f80"/>
<rect x="478" y="190" width="3" height="3" fill="#a38979"/>
<rect x="481" y="190" width="3" height="3" fill="#a28979"/>
<rect x="484" y="190" width="3" height="3" fill="#a18877"/>
<rect x="487" y="190" width="3" height="3" fill="#9f8372"/>
<rect x="379" y="193" width="3" height="3" fill="#cac1b4"/>
<rect x="382" y="193" width="3" height="3" fill="#cac2b4"/>
<rect x="385" y="193" width="3" height="3" fill="#c9c0b2"/>
<rect x="388" y="193" width="3" height="3" fill="#c5baad"/>
<rect x="391" y="193" width="3" height="3" fill="#c1b6a9"/>
<rect x="394" y="193" width="3" height="3" fill="#c0b5a9"/>
<rect x="397" y="193" width="3" height="3" fill="#c0b7ab"/>
<rect x="400" y="193" width="3" height="3" fill="#c1b9ad"/>
<rect x="403" y="193" width="3" height="3" fill="#c0b8ad"/>
<rect x="406" y="193" width="3" height="3" fill="#c0b8ad"/>
<rect x="409" y="193" width="3" height="3" fill="#c2bab1"/>
<rect x="412" y="193" width="3" height="3" fill="#c6c0b9"/>
<rect x="415" y="193" width="3" height="3" fill="#cbc7c1"/>
<rect x="418" y="193" width="3" height="3" fill="#cccac5"/>
<rect x="421" y="193" width="3" height="3" fill="#ccc9c4"/>
<rect x="424" y="193" width="3" height="3" fill="#c9c5be"/>
<rect x="427" y="193" width="3" height="3" fill="#c8c2bb"/>
<rect x="430" y="193" width="3" height="3" fill="#c6c0b9"/>
<rect x="433" y="193" width="3" height="3" fill="#c5bdb5"/>
<rect x="436" y="193" width="3" height="3" fill="#c4bbb3"/>
<rect x="439" y="193" width="3" height="3" fill="#c3b9b0"/>
<rect x="442" y="193" width="3" height="3" fill="#bdb2a8"/>
<rect x="445" y="193" width="3" height="3" fill="#b2a598"/>
<rect x="448" y="193" width="3" height="3" fill="#ab9d8e"/>
<rect x="451" y="193" width="3" height="3" fill="#ab9c8e"/>
<rect x="454" y="193" width="3" height="3" fill="#aea094"/>
<rect x="457" y="193" width="3" height="3" fill="#b0a297"/>
<rect x="460" y="193" width="3" height="3" fill="#b0a196"/>
<rect x="463" y="193" width="3" height="3" fill="#af9e93"/>
<rect x="466" y="193" width="3" height="3" fill="#ae9c90"/>
<rect x="469" y="193" width="3" height="3" fill="#ac988b"/>
<rect x="472" y="193" width="3" height="3" fill="#a79082"/>
<rect x="475" y="193" width="3" height="3" fill="#a18676"/>
<rect x="478" y="193" width="3" height="3" fill="#9d816f"/>
<rect x="481" y="193" width="3" height="3" fill="#9b7d6b"/>
<rect x="484" y="193" width="3" height="3" fill="#987866"/>
<rect x="487" y="193" width="3" height="3" fill="#967562"/>
<rect x="379" y="196" width="3" height="3" fill="#c5bbad"/>
<rect x="382" y="196" width="3" height="3" fill="#c5baad"/>
<rect x="385" y="196" width="3" height="3" fill="#c3b8aa"/>
<rect x="388" y="196" width="3" height="3" fill="#c0b4a6"/>
<rect x="391" y="196" width="3" height="3" fill="#beb1a3"/>
<rect x="394" y="196" width="3" height="3" fill="#bdb0a1"/>
<rect x="397" y="196" width="3" height="3" fill="#bdafa0"/>
<rect x="400" y="196" width="3" height="3" fill="#bdb0a2"/>
<rect x="403" y="196" width="3" height="3" fill="#bdb2a5"/>
<rect x="406" y="196" width="3" height="3" fill="#bdb2a7"/>
<rect x="409" y="196" width="3" height="3" fill="#beb5ab"/>
<rect x="412" y="196" width="3" height="3" fill="#c1bab1"/>
<rect x="415" y="196" width="3" height="3" fill="#c6c1ba"/>
<rect x="418" y="196" width="3" height="3" fill="#c9c5bf"/>
<rect x="421" y="196" width="3" height="3" fill="#c9c4be"/>
<rect x="424" y="196" width="3" height="3" fill="#c8c4be"/>
<rect x="427" y="196" width="3" height="3" fill="#c9c5bf"/>
<rect x="430" y="196" width="3" height="3" fill="#c8c3bd"/>
<rect x="433" y="196" width="3" height="3" fill="#c4bcb5"/>
<rect x="436" y="196" width="3" height="3" fill="#c3b9b0"/>
<rect x="439" y="196" width="3" height="3" fill="#c3b9b0"/>
<rect x="442" y="196" width="3" height="3" fill="#c1b6ad"/>
<rect x="445" y="196" width="3" height="3" fill="#b5a79b"/>
<rect x="448" y="196" width="3" height="3" fill="#ab9d8e"/>
<rect x="451" y="196" width="3" height="3" fill="#ab9c8d"/>
<rect x="454" y="196" width="3" height="3" fill="#ac9d8f"/>
<rect x="457" y="196" width="3" height="3" fill="#ad9d90"/>
<rect x="460" y="196" width="3" height="3" fill="#ac9a8e"/>
<rect x="463" y="196" width="3" height="3" fill="#aa968a"/>
<rect x="466" y="196" width="3" height="3" fill="#a89285"/>
<rect x="469" y="196" width="3" height="3" fill="#a58d7e"/>
<rect x="472" y="196" width="3" height="3" fill="#a08575"/>
<rect x="475" y="196" width="3" height="3" fill="#997b69"/>
<rect x="478" y="196" width="3" height="3" fill="#92705c"/>
<rect x="481" y="196" width="3" height="3" fill="#8c6751"/>
<rect x="484" y="196" width="3" height="3" fill="#8a644d"/>
<rect x="487" y="196" width="3" height="3" fill="#8c6650"/>
<rect x="379" y="199" width="3" height="3" fill="#c2b5a8"/>
<rect x="382" y="199" width="3" height="3" fill="#c1b4a7"/>
<rect x="385" y="199" width="3" height="3" fill="#c0b3a5"/>
<rect x="388" y="199" width="3" height="3" fill="#beb0a2"/>
<rect x="391" y="199" width="3" height="3" fill="#bdafa0"/>
<rect x="394" y="199" width="3" height="3" fill="#bcae9f"/>
<rect x="397" y="199" width="3" height="3" fill="#bcae9e"/>
<rect x="400" y="199" width="3" height="3" fill="#bcae9e"/>
<rect x="403" y="199" width="3" height="3" fill="#bbaea0"/>
<rect x="406" y="199" width="3" height="3" fill="#baafa4"/>
<rect x="409" y="199" width="3" height="3" fill="#bab1a7"/>
<rect x="412" y="199" width="3" height="3" fill="#bbb2aa"/>
<rect x="415" y="199" width="3" height="3" fill="#bfb7ae"/>
<rect x="418" y="199" width="3" height="3" fill="#c3bbb4"/>
<rect x="421" y="199" width="3" height="3" fill="#c5bfb8"/>
<rect x="424" y="199" width="3" height="3" fill="#c9c5bf"/>
<rect x="427" y="199" width="3" height="3" fill="#cbc7c2"/>
<rect x="430" y="199" width="3" height="3" fill="#cac5c0"/>
<rect x="433" y="199" width="3" height="3" fill="#c4bcb5"/>
<rect x="436" y="199" width="3" height="3" fill="#c3b8b0"/>
<rect x="439" y="199" width="3" height="3" fill="#c5bbb3"/>
<rect x="442" y="199" width="3" height="3" fill="#c5bab2"/>
<rect x="445" y="199" width="3" height="3" fill="#bcafa5"/>
<rect x="448" y="199" width="3" height="3" fill="#b0a093"/>
<rect x="451" y="199" width="3" height="3" fill="#ac9c8e"/>
<rect x="454" y="199" width="3" height="3" fill="#ab9a8d"/>
<rect x="457" y="199" width="3" height="3" fill="#aa9789"/>
<rect x="460" y="199" width="3" height="3" fill="#a79184"/>
<rect x="463" y="199" width="3" height="3" fill="#a48c7e"/>
<rect x="466" y="199" width="3" height="3" fill="#a28879"/>
<rect x="469" y="199" width="3" height="3" fill="#9f8373"/>
<rect x="472" y="199" width="3" height="3" fill="#9a7c6b"/>
<rect x="475" y="199" width="3" height="3" fill="#94725f"/>
<rect x="478" y="199" width="3" height="3" fill="#8c6752"/>
<rect x="481" y="199" width="3" height="3" fill="#88614a"/>
<rect x="484" y="199" width="3" height="3" fill="#875f48"/>
<rect x="487" y="199" width="3" height="3" fill="#88614b"/>
<rect x="379" y="202" width="3" height="3" fill="#c1b3a7"/>
<rect x="382" y="202" width="3" height="3" fill="#c0b2a5"/>
<rect x="385" y="202" width="3" height="3" fill="#bfb1a3"/>
<rect x="388" y="202" width="3" height="3" fill="#bdafa1"/>
<rect x="391" y="202" width="3" height="3" fill="#bdaf9f"/>
<rect x="394" y="202" width="3" height="3" fill="#bcae9f"/>
<rect x="397" y="202" width="3" height="3" fill="#bcae9e"/>
<rect x="400" y="202" width="3" height="3" fill="#bbad9e"/>
<rect x="403" y="202" width="3" height="3" fill="#b9ac9f"/>
<rect x="406" y="202" width="3" height="3" fill="#b8aea5"/>
<rect x="409" y="202" width="3" height="3" fill="#b9b1a8"/>
<rect x="412" y="202" width="3" height="3" fill="#b9b0a8"/>
<rect x="415" y="202" width="3" height="3" fill="#bab0a7"/>
<rect x="418" y="202" width="3" height="3" fill="#bdb3aa"/>
<rect x="421" y="202" width="3" height="3" fill="#c1b9b2"/>
<rect x="424" y="202" width="3" height="3" fill="#c7c1bb"/>
<rect x="427" y="202" width="3" height="3" fill="#c9c5c0"/>
<rect x="430" y="202" width="3" height="3" fill="#c7c2bc"/>
<rect x="433" y="202" width="3" height="3" fill="#c1b7af"/>
<rect x="436" y="202" width="3" height="3" fill="#c0b3aa"/>
<rect x="439" y="202" width="3" height="3" fill="#c3b8b0"/>
<rect x="442" y="202" width="3" height="3" fill="#c3b7af"/>
<rect x="445" y="202" width="3" height="3" fill="#bbada3"/>
<rect x="448" y="202" width="3" height="3" fill="#b19f93"/>
<rect x="451" y="202" width="3" height="3" fill="#ab988a"/>
<rect x="454" y="202" width="3" height="3" fill="#a89385"/>
<rect x="457" y="202" width="3" height="3" fill="#a48c7e"/>
<rect x="460" y="202" width="3" height="3" fill="#a08576"/>
<rect x="463" y="202" width="3" height="3" fill="#9d7f70"/>
<rect x="466" y="202" width="3" height="3" fill="#9a7c6c"/>
<rect x="469" y="202" width="3" height="3" fill="#997a69"/>
<rect x="472" y="202" width="3" height="3" fill="#967664"/>
<rect x="475" y="202" width="3" height="3" fill="#916f5b"/>
<rect x="478" y="202" width="3" height="3" fill="#8c6651"/>
<rect x="481" y="202" width="3" height="3" fill="#88614a"/>
<rect x="484" y="202" width="3" height="3" fill="#886049"/>
<rect x="487" y="202" width="3" height="3" fill="#89614b"/>
<rect x="379" y="205" width="3" height="3" fill="#c2b5a9"/>
<rect x="382" y="205" width="3" height="3" fill="#c2b5a9"/>
<rect x="385" y="205" width="3" height="3" fill="#c0b2a5"/>
<rect x="388" y="205" width="3" height="3" fill="#beafa1"/>
<rect x="391" y="205" width="3" height="3" fill="#bdaf9f"/>
<rect x="394" y="205" width="3" height="3" fill="#beb0a0"/>
<rect x="397" y="205" width="3" height="3" fill="#bdae9f"/>
<rect x="400" y="205" width="3" height="3" fill="#baab9c"/>
<rect x="403" y="205" width="3" height="3" fill="#b6a79a"/>
<rect x="406" y="205" width="3" height="3" fill="#b7ada3"/>
<rect x="409" y="205" width="3" height="3" fill="#b9b1a9"/>
<rect x="412" y="205" width="3" height="3" fill="#b8b0a7"/>
<rect x="415" y="205" width="3" height="3" fill="#b7aca2"/>
<rect x="418" y="205" width="3" height="3" fill="#b7aaa1"/>
<rect x="421" y="205" width="3" height="3" fill="#bbaea6"/>
<rect x="424" y="205" width="3" height="3" fill="#bfb5ad"/>
<rect x="427" y="205" width="3" height="3" fill="#c1b7b0"/>
<rect x="430" y="205" width="3" height="3" fill="#bdb1a9"/>
<rect x="433" y="205" width="3" height="3" fill="#b6a49a"/>
<rect x="436" y="205" width="3" height="3" fill="#b4a196"/>
<rect x="439" y="205" width="3" height="3" fill="#b8a69b"/>
<rect x="442" y="205" width="3" height="3" fill="#b7a59a"/>
<rect x="445" y="205" width="3" height="3" fill="#b09b8f"/>
<rect x="448" y="205" width="3" height="3" fill="#a99083"/>
<rect x="451" y="205" width="3" height="3" fill="#a58a7b"/>
<rect x="454" y="205" width="3" height="3" fill="#a18576"/>
<rect x="457" y="205" width="3" height="3" fill="#9d7e6e"/>
<rect x="460" y="205" width="3" height="3" fill="#977665"/>
<rect x="463" y="205" width="3" height="3" fill="#94705f"/>
<rect x="466" y="205" width="3" height="3" fill="#936f5d"/>
<rect x="469" y="205" width="3" height="3" fill="#93705e"/>
<rect x="472" y="205" width="3" height="3" fill="#93705e"/>
<rect x="475" y="205" width="3" height="3" fill="#916d5a"/>
<rect x="478" y="205" width="3" height="3" fill="#8d6853"/>
<rect x="481" y="205" width="3" height="3" fill="#8a644e"/>
<rect x="484" y="205" width="3" height="3" fill="#89634d"/>
<rect x="487" y="205" width="3" height="3" fill="#8a644e"/>
<rect x="379" y="208" width="3" height="3" fill="#c5baaf"/>
<rect x="382" y="208" width="3" height="3" fill="#c6baaf"/>
<rect x="385" y="208" width="3" height="3" fill="#c4b7ab"/>
<rect x="388" y="208" width="3" height="3" fill="#bfb1a3"/>
<rect x="391" y="208" width="3" height="3" fill="#bdaf9f"/>
<rect x="394" y="208" width="3" height="3" fill="#beaf9f"/>
<rect x="397" y="208" width="3" height="3" fill="#bcae9e"/>
<rect x="400" y="208" width="3" height="3" fill="#b6a495"/>
<rect x="403" y="208" width="3" height="3" fill="#ae998b"/>
<rect x="406" y="208" width="3" height="3" fill="#ae9c90"/>
<rect x="409" y="208" width="3" height="3" fill="#b3a79d"/>
<rect x="412" y="208" width="3" height="3" fill="#b3a79d"/>
<rect x="415" y="208" width="3" height="3" fill="#b1a298"/>
<rect x="418" y="208" width="3" height="3" fill="#b1a095"/>
<rect x="421" y="208" width="3" height="3" fill="#b2a096"/>
<rect x="424" y="208" width="3" height="3" fill="#b3a197"/>
<rect x="427" y="208" width="3" height="3" fill="#b19d92"/>
<rect x="430" y="208" width="3" height="3" fill="#aa9184"/>
<rect x="433" y="208" width="3" height="3" fill="#a28273"/>
<rect x="436" y="208" width="3" height="3" fill="#9f7d6e"/>
<rect x="439" y="208" width="3" height="3" fill="#a38374"/>
<rect x="442" y="208" width="3" height="3" fill="#a48577"/>
<rect x="445" y="208" width="3" height="3" fill="#a07e6f"/>
<rect x="448" y="208" width="3" height="3" fill="#9c7868"/>
<rect x="451" y="208" width="3" height="3" fill="#9b7767"/>
<rect x="454" y="208" width="3" height="3" fill="#997766"/>
<rect x="457" y="208" width="3" height="3" fill="#95715f"/>
<rect x="460" y="208" width="3" height="3" fill="#8f6855"/>
<rect x="463" y="208" width="3" height="3" fill="#8c6350"/>
<rect x="466" y="208" width="3" height="3" fill="#8c6451"/>
<rect x="469" y="208" width="3" height="3" fill="#8e6755"/>
<rect x="472" y="208" width="3" height="3" fill="#906b58"/>
<rect x="475" y="208" width="3" height="3" fill="#906c59"/>
<rect x="478" y="208" width="3" height="3" fill="#8f6a57"/>
<rect x="481" y="208" width="3" height="3" fill="#8d6853"/>
<rect x="484" y="208" width="3" height="3" fill="#8c6752"/>
<rect x="487" y="208" width="3" height="3" fill="#8d6853"/>
<rect x="379" y="211" width="3" height="3" fill="#c8bdb3"/>
<rect x="382" y="211" width="3" height="3" fill="#c9bfb5"/>
<rect x="385" y="211" width="3" height="3" fill="#c8bdb2"/>
<rect x="388" y="211" width="3" height="3" fill="#c1b4a8"/>
<rect x="391" y="211" width="3" height="3" fill="#bcad9e"/>
<rect x="394" y="211" width="3" height="3" fill="#bbab9c"/>
<rect x="397" y="211" width="3" height="3" fill="#b7a696"/>
<rect x="400" y="211" width="3" height="3" fill="#ac9585"/>
<rect x="403" y="211" width="3" height="3" fill="#9f806e"/>
<rect x="406" y="211" width="3" height="3" fill="#997765"/>
<rect x="409" y="211" width="3" height="3" fill="#9d7f6e"/>
<rect x="412" y="211" width="3" height="3" fill="#a58c7e"/>
<rect x="415" y="211" width="3" height="3" fill="#a89285"/>
<rect x="418" y="211" width="3" height="3" fill="#a99285"/>
<rect x="421" y="211" width="3" height="3" fill="#a89084"/>
<rect x="424" y="211" width="3" height="3" fill="#a68d80"/>
<rect x="427" y="211" width="3" height="3" fill="#a28476"/>
<rect x="430" y="211" width="3" height="3" fill="#997363"/>
<rect x="433" y="211" width="3" height="3" fill="#916452"/>
<rect x="436" y="211" width="3" height="3" fill="#8e604d"/>
<rect x="439" y="211" width="3" height="3" fill="#926755"/>
<rect x="442" y="211" width="3" height="3" fill="#976e5e"/>
<rect x="445" y="211" width="3" height="3" fill="#946a59"/>
<rect x="448" y="211" width="3" height="3" fill="#936856"/>
<rect x="451" y="211" width="3" height="3" fill="#946a59"/>
<rect x="454" y="211" width="3" height="3" fill="#946d5c"/>
<rect x="457" y="211" width="3" height="3" fill="#8f6856"/>
<rect x="460" y="211" width="3" height="3" fill="#8a604d"/>
<rect x="463" y="211" width="3" height="3" fill="#885d49"/>
<rect x="466" y="211" width="3" height="3" fill="#885e4a"/>
<rect x="469" y="211" width="3" height="3" fill="#8a624f"/>
<rect x="472" y="211" width="3" height="3" fill="#8d6754"/>
<rect x="475" y="211" width="3" height="3" fill="#8e6a57"/>
<rect x="478" y="211" width="3" height="3" fill="#8e6a57"/>
<rect x="481" y="211" width="3" height="3" fill="#8e6a56"/>
<rect x="484" y="211" width="3" height="3" fill="#8e6a56"/>
<rect x="487" y="211" width="3" height="3" fill="#8e6b57"/>
<rect x="379" y="214" width="3" height="3" fill="#c9beb4"/>
<rect x="382" y="214" width="3" height="3" fill="#cac0b6"/>
<rect x="385" y="214" width="3" height="3" fill="#c9beb4"/>
<rect x="388" y="214" width="3" height="3" fill="#c2b4a9"/>
<rect x="391" y="214" width="3" height="3" fill="#b9a799"/>
<rect x="394" y="214" width="3" height="3" fill="#b4a091"/>
<rect x="397" y="214" width="3" height="3" fill="#ae9787"/>
<rect x="400" y="214" width="3" height="3" fill="#a28573"/>
<rect x="403" y="214" width="3" height="3" fill="#96715e"/>
<rect x="406" y="214" width="3" height="3" fill="#926a56"/>
<rect x="409" y="214" width="3" height="3" fill="#936d5a"/>
<rect x="412" y="214" width="3" height="3" fill="#9a7968"/>
<rect x="415" y="214" width="3" height="3" fill="#9f8273"/>
<rect x="418" y="214" width="3" height="3" fill="#a08375"/>
<rect x="421" y="214" width="3" height="3" fill="#9e8072"/>
<rect x="424" y="214" width="3" height="3" fill="#9b7b6d"/>
<rect x="427" y="214" width="3" height="3" fill="#977363"/>
<rect x="430" y="214" width="3" height="3" fill="#916554"/>
<rect x="433" y="214" width="3" height="3" fill="#8c5b47"/>
<rect x="436" y="214" width="3" height="3" fill="#8a5945"/>
<rect x="439" y="214" width="3" height="3" fill="#8d5e4a"/>
<rect x="442" y="214" width="3" height="3" fill="#926655"/>
<rect x="445" y="214" width="3" height="3" fill="#926553"/>
<rect x="448" y="214" width="3" height="3" fill="#916452"/>
<rect x="451" y="214" width="3" height="3" fill="#926654"/>
<rect x="454" y="214" width="3" height="3" fill="#926957"/>
<rect x="457" y="214" width="3" height="3" fill="#8e6552"/>
<rect x="460" y="214" width="3" height="3" fill="#895e4b"/>
<rect x="463" y="214" width="3" height="3" fill="#875c48"/>
<rect x="466" y="214" width="3" height="3" fill="#885d49"/>
<rect x="469" y="214" width="3" height="3" fill="#89604d"/>
<rect x="472" y="214" width="3" height="3" fill="#8c6552"/>
<rect x="475" y="214" width="3" height="3" fill="#8c6754"/>
<rect x="478" y="214" width="3" height="3" fill="#8c6855"/>
<rect x="481" y="214" width="3" height="3" fill="#8c6855"/>
<rect x="484" y="214" width="3" height="3" fill="#8d6956"/>
<rect x="487" y="214" width="3" height="3" fill="#8e6b58"/>
<rect x="379" y="217" width="3" height="3" fill="#c7bbb0"/>
<rect x="382" y="217" width="3" height="3" fill="#c8bdb2"/>
<rect x="385" y="217" width="3" height="3" fill="#c5b9ae"/>
<rect x="388" y="217" width="3" height="3" fill="#bcab9f"/>
<rect x="391" y="217" width="3" height="3" fill="#b19b8d"/>
<rect x="394" y="217" width="3" height="3" fill="#aa9181"/>
<rect x="397" y="217" width="3" height="3" fill="#a58979"/>
<rect x="400" y="217" width="3" height="3" fill="#9e7e6c"/>
<rect x="403" y="217" width="3" height="3" fill="#96715e"/>
<rect x="406" y="217" width="3" height="3" fill="#936c58"/>
<rect x="409" y="217" width="3" height="3" fill="#936d5a"/>
<rect x="412" y="217" width="3" height="3" fill="#977462"/>
<rect x="415" y="217" width="3" height="3" fill="#997868"/>
<rect x="418" y="217" width="3" height="3" fill="#967566"/>
<rect x="421" y="217" width="3" height="3" fill="#926f60"/>
<rect x="424" y="217" width="3" height="3" fill="#906b5c"/>
<rect x="427" y="217" width="3" height="3" fill="#906858"/>
<rect x="430" y="217" width="3" height="3" fill="#8e6250"/>
<rect x="433" y="217" width="3" height="3" fill="#8c5c48"/>
<rect x="436" y="217" width="3" height="3" fill="#8b5a46"/>
<rect x="439" y="217" width="3" height="3" fill="#8d5e4b"/>
<rect x="442" y="217" width="3" height="3" fill="#916553"/>
<rect x="445" y="217" width="3" height="3" fill="#916554"/>
<rect x="448" y="217" width="3" height="3" fill="#916553"/>
<rect x="451" y="217" width="3" height="3" fill="#926654"/>
<rect x="454" y="217" width="3" height="3" fill="#916856"/>
<rect x="457" y="217" width="3" height="3" fill="#8e6553"/>
<rect x="460" y="217" width="3" height="3" fill="#8a604d"/>
<rect x="463" y="217" width="3" height="3" fill="#885e4a"/>
<rect x="466" y="217" width="3" height="3" fill="#885e4b"/>
<rect x="469" y="217" width="3" height="3" fill="#8a614e"/>
<rect x="472" y="217" width="3" height="3" fill="#8b6451"/>
<rect x="475" y="217" width="3" height="3" fill="#8a6551"/>
<rect x="478" y="217" width="3" height="3" fill="#896451"/>
<rect x="481" y="217" width="3" height="3" fill="#896551"/>
<rect x="484" y="217" width="3" height="3" fill="#8a6753"/>
<rect x="487" y="217" width="3" height="3" fill="#8c6956"/>
<rect x="379" y="220" width="3" height="3" fill="#c1b2a7"/>
<rect x="382" y="220" width="3" height="3" fill="#c0b1a6"/>
<rect x="385" y="220" width="3" height="3" fill="#bba99d"/>
<rect x="388" y="220" width="3" height="3" fill="#af9789"/>
<rect x="391" y="220" width="3" height="3" fill="#a48677"/>
<rect x="394" y="220" width="3" height="3" fill="#9f7f6f"/>
<rect x="397" y="220" width="3" height="3" fill="#9e7d6d"/>
<rect x="400" y="220" width="3" height="3" fill="#9c7a69"/>
<rect x="403" y="220" width="3" height="3" fill="#987462"/>
<rect x="406" y="220" width="3" height="3" fill="#95705e"/>
<rect x="409" y="220" width="3" height="3" fill="#95705e"/>
<rect x="412" y="220" width="3" height="3" fill="#957160"/>
<rect x="415" y="220" width="3" height="3" fill="#926e5e"/>
<rect x="418" y="220" width="3" height="3" fill="#8c6656"/>
<rect x="421" y="220" width="3" height="3" fill="#865e4d"/>
<rect x="424" y="220" width="3" height="3" fill="#845b4a"/>
<rect x="427" y="220" width="3" height="3" fill="#875d4c"/>
<rect x="430" y="220" width="3" height="3" fill="#8b604e"/>
<rect x="433" y="220" width="3" height="3" fill="#8c5f4d"/>
<rect x="436" y="220" width="3" height="3" fill="#8c5e4c"/>
<rect x="439" y="220" width="3" height="3" fill="#8e614f"/>
<rect x="442" y="220" width="3" height="3" fill="#906553"/>
<rect x="445" y="220" width="3" height="3" fill="#916655"/>
<rect x="448" y="220" width="3" height="3" fill="#916655"/>
<rect x="451" y="220" width="3" height="3" fill="#926756"/>
<rect x="454" y="220" width="3" height="3" fill="#916857"/>
<rect x="457" y="220" width="3" height="3" fill="#8f6755"/>
<rect x="460" y="220" width="3" height="3" fill="#8c6451"/>
<rect x="463" y="220" width="3" height="3" fill="#8b624f"/>
<rect x="466" y="220" width="3" height="3" fill="#8b624f"/>
<rect x="469" y="220" width="3" height="3" fill="#8b6451"/>
<rect x="472" y="220" width="3" height="3" fill="#896451"/>
<rect x="475" y="220" width="3" height="3" fill="#87624e"/>
<rect x="478" y="220" width="3" height="3" fill="#86614d"/>
<rect x="481" y="220" width="3" height="3" fill="#86614e"/>
<rect x="484" y="220" width="3" height="3" fill="#886450"/>
<rect x="487" y="220" width="3" height="3" fill="#8b6754"/>
<rect x="379" y="223" width="3" height="3" fill="#b8a599"/>
<rect x="382" y="223" width="3" height="3" fill="#b5a093"/>
<rect x="385" y="223" width="3" height="3" fill="#ad9385"/>
<rect x="388" y="223" width="3" height="3" fill="#a18272"/>
<rect x="391" y="223" width="3" height="3" fill="#9a7666"/>
<rect x="394" y="223" width="3" height="3" fill="#987362"/>
<rect x="397" y="223" width="3" height="3" fill="#997464"/>
<rect x="400" y="223" width="3" height="3" fill="#997565"/>
<rect x="403" y="223" width="3" height="3" fill="#977363"/>
<rect x="406" y="223" width="3" height="3" fill="#957160"/>
<rect x="409" y="223" width="3" height="3" fill="#936f5e"/>
<rect x="412" y="223" width="3" height="3" fill="#916c5c"/>
<rect x="415" y="223" width="3" height="3" fill="#8b6555"/>
<rect x="418" y="223" width="3" height="3" fill="#835949"/>
<rect x="421" y="223" width="3" height="3" fill="#7d5040"/>
<rect x="424" y="223" width="3" height="3" fill="#7b4e3d"/>
<rect x="427" y="223" width="3" height="3" fill="#7e5241"/>
<rect x="430" y="223" width="3" height="3" fill="#855949"/>
<rect x="433" y="223" width="3" height="3" fill="#895e4d"/>
<rect x="436" y="223" width="3" height="3" fill="#8a5f4e"/>
<rect x="439" y="223" width="3" height="3" fill="#8b604f"/>
<rect x="442" y="223" width="3" height="3" fill="#8c6251"/>
<rect x="445" y="223" width="3" height="3" fill="#8e6453"/>
<rect x="448" y="223" width="3" height="3" fill="#8f6655"/>
<rect x="451" y="223" width="3" height="3" fill="#906757"/>
<rect x="454" y="223" width="3" height="3" fill="#906958"/>
<rect x="457" y="223" width="3" height="3" fill="#906957"/>
<rect x="460" y="223" width="3" height="3" fill="#8e6756"/>
<rect x="463" y="223" width="3" height="3" fill="#8d6654"/>
<rect x="466" y="223" width="3" height="3" fill="#8c6654"/>
<rect x="469" y="223" width="3" height="3" fill="#8b6653"/>
<rect x="472" y="223" width="3" height="3" fill="#886350"/>
<rect x="475" y="223" width="3" height="3" fill="#85604c"/>
<rect x="478" y="223" width="3" height="3" fill="#845f4b"/>
<rect x="481" y="223" width="3" height="3" fill="#85604c"/>
<rect x="484" y="223" width="3" height="3" fill="#87624e"/>
<rect x="487" y="223" width="3" height="3" fill="#8a6753"/>
<rect x="379" y="226" width="3" height="3" fill="#b29c8f"/>
<rect x="382" y="226" width="3" height="3" fill="#ad9486"/>
<rect x="385" y="226" width="3" height="3" fill="#a58778"/>
<rect x="388" y="226" width="3" height="3" fill="#9c7969"/>
<rect x="391" y="226" width="3" height="3" fill="#977161"/>
<rect x="394" y="226" width="3" height="3" fill="#96705f"/>
<rect x="397" y="226" width="3" height="3" fill="#977160"/>
<rect x="400" y="226" width="3" height="3" fill="#967161"/>
<rect x="403" y="226" width="3" height="3" fill="#946e5e"/>
<rect x="406" y="226" width="3" height="3" fill="#916b5b"/>
<rect x="409" y="226" width="3" height="3" fill="#8f6858"/>
<rect x="412" y="226" width="3" height="3" fill="#8b6454"/>
<rect x="415" y="226" width="3" height="3" fill="#865e4e"/>
<rect x="418" y="226" width="3" height="3" fill="#7f5343"/>
<rect x="421" y="226" width="3" height="3" fill="#794c3b"/>
<rect x="424" y="226" width="3" height="3" fill="#784b3a"/>
<rect x="427" y="226" width="3" height="3" fill="#7b4d3d"/>
<rect x="430" y="226" width="3" height="3" fill="#805544"/>
<rect x="433" y="226" width="3" height="3" fill="#855a49"/>
<rect x="436" y="226" width="3" height="3" fill="#855a4a"/>
<rect x="439" y="226" width="3" height="3" fill="#845949"/>
<rect x="442" y="226" width="3" height="3" fill="#855a4a"/>
<rect x="445" y="226" width="3" height="3" fill="#875e4e"/>
<rect x="448" y="226" width="3" height="3" fill="#8b6252"/>
<rect x="451" y="226" width="3" height="3" fill="#8d6555"/>
<rect x="454" y="226" width="3" height="3" fill="#8f6857"/>
<rect x="457" y="226" width="3" height="3" fill="#8f6958"/>
<rect x="460" y="226" width="3" height="3" fill="#8f6958"/>
<rect x="463" y="226" width="3" height="3" fill="#8f6957"/>
<rect x="466" y="226" width="3" height="3" fill="#8e6956"/>
<rect x="469" y="226" width="3" height="3" fill="#8c6754"/>
<rect x="472" y="226" width="3" height="3" fill="#886450"/>
<rect x="475" y="226" width="3" height="3" fill="#85614d"/>
<rect x="478" y="226" width="3" height="3" fill="#845f4b"/>
<rect x="481" y="226" width="3" height="3" fill="#85604c"/>
<rect x="484" y="226" width="3" height="3" fill="#87634f"/>
<rect x="487" y="226" width="3" height="3" fill="#8b6854"/>
<rect x="379" y="229" width="3" height="3" fill="#b0998d"/>
<rect x="382" y="229" width="3" height="3" fill="#ab9183"/>
<rect x="385" y="229" width="3" height="3" fill="#a38576"/>
<rect x="388" y="229" width="3" height="3" fill="#9c7969"/>
<rect x="391" y="229" width="3" height="3" fill="#977261"/>
<rect x="394" y="229" width="3" height="3" fill="#967160"/>
<rect x="397" y="229" width="3" height="3" fill="#96705f"/>
<rect x="400" y="229" width="3" height="3" fill="#936c5b"/>
<rect x="403" y="229" width="3" height="3" fill="#8e6655"/>
<rect x="406" y="229" width="3" height="3" fill="#8b6151"/>
<rect x="409" y="229" width="3" height="3" fill="#885e4f"/>
<rect x="412" y="229" width="3" height="3" fill="#865c4d"/>
<rect x="415" y="229" width="3" height="3" fill="#83594a"/>
<rect x="418" y="229" width="3" height="3" fill="#7f5343"/>
<rect x="421" y="229" width="3" height="3" fill="#7a4d3c"/>
<rect x="424" y="229" width="3" height="3" fill="#794c3b"/>
<rect x="427" y="229" width="3" height="3" fill="#7b4e3e"/>
<rect x="430" y="229" width="3" height="3" fill="#805443"/>
<rect x="433" y="229" width="3" height="3" fill="#815545"/>
<rect x="436" y="229" width="3" height="3" fill="#7e5343"/>
<rect x="439" y="229" width="3" height="3" fill="#7b4f40"/>
<rect x="442" y="229" width="3" height="3" fill="#7b5040"/>
<rect x="445" y="229" width="3" height="3" fill="#7f5445"/>
<rect x="448" y="229" width="3" height="3" fill="#855b4c"/>
<rect x="451" y="229" width="3" height="3" fill="#8a6152"/>
<rect x="454" y="229" width="3" height="3" fill="#8d6656"/>
<rect x="457" y="229" width="3" height="3" fill="#8f6858"/>
<rect x="460" y="229" width="3" height="3" fill="#8f6958"/>
<rect x="463" y="229" width="3" height="3" fill="#8f6a59"/>
<rect x="466" y="229" width="3" height="3" fill="#8f6a58"/>
<rect x="469" y="229" width="3" height="3" fill="#8d6957"/>
<rect x="472" y="229" width="3" height="3" fill="#8b6754"/>
<rect x="475" y="229" width="3" height="3" fill="#886450"/>
<rect x="478" y="229" width="3" height="3" fill="#87624e"/>
<rect x="481" y="229" width="3" height="3" fill="#886450"/>
<rect x="484" y="229" width="3" height="3" fill="#8b6854"/>
<rect x="487" y="229" width="3" height="3" fill="#8e6c58"/>
<rect x="379" y="232" width="3" height="3" fill="#b49f93"/>
<rect x="382" y="232" width="3" height="3" fill="#af978b"/>
<rect x="385" y="232" width="3" height="3" fill="#a88b7e"/>
<rect x="388" y="232" width="3" height="3" fill="#9f7e6f"/>
<rect x="391" y="232" width="3" height="3" fill="#9a7565"/>
<rect x="394" y="232" width="3" height="3" fill="#977160"/>
<rect x="397" y="232" width="3" height="3" fill="#936b5a"/>
<rect x="400" y="232" width="3" height="3" fill="#8e6351"/>
<rect x="403" y="232" width="3" height="3" fill="#885b4b"/>
<rect x="406" y="232" width="3" height="3" fill="#845746"/>
<rect x="409" y="232" width="3" height="3" fill="#815545"/>
<rect x="412" y="232" width="3" height="3" fill="#805445"/>
<rect x="415" y="232" width="3" height="3" fill="#805446"/>
<rect x="418" y="232" width="3" height="3" fill="#805445"/>
<rect x="421" y="232" width="3" height="3" fill="#7e5242"/>
<rect x="424" y="232" width="3" height="3" fill="#7d5140"/>
<rect x="427" y="232" width="3" height="3" fill="#7f5241"/>
<rect x="430" y="232" width="3" height="3" fill="#805342"/>
<rect x="433" y="232" width="3" height="3" fill="#7e5140"/>
<rect x="436" y="232" width="3" height="3" fill="#7a4d3d"/>
<rect x="439" y="232" width="3" height="3" fill="#754839"/>
<rect x="442" y="232" width="3" height="3" fill="#754839"/>
<rect x="445" y="232" width="3" height="3" fill="#7a4e3f"/>
<rect x="448" y="232" width="3" height="3" fill="#815748"/>
<rect x="451" y="232" width="3" height="3" fill="#875e4f"/>
<rect x="454" y="232" width="3" height="3" fill="#8b6454"/>
<rect x="457" y="232" width="3" height="3" fill="#8d6757"/>
<rect x="460" y="232" width="3" height="3" fill="#8e6857"/>
<rect x="463" y="232" width="3" height="3" fill="#8f6957"/>
<rect x="466" y="232" width="3" height="3" fill="#8f6a58"/>
<rect x="469" y="232" width="3" height="3" fill="#8f6b59"/>
<rect x="472" y="232" width="3" height="3" fill="#8e6b58"/>
<rect x="475" y="232" width="3" height="3" fill="#8e6b58"/>
<rect x="478" y="232" width="3" height="3" fill="#8e6c58"/>
<rect x="481" y="232" width="3" height="3" fill="#8f6e5a"/>
<rect x="484" y="232" width="3" height="3" fill="#91705c"/>
<rect x="487" y="232" width="3" height="3" fill="#92725e"/>
<rect x="379" y="235" width="3" height="3" fill="#bcaba1"/>
<rect x="382" y="235" width="3" height="3" fill="#b9a69c"/>
<rect x="385" y="235" width="3" height="3" fill="#b19a8e"/>
<rect x="388" y="235" width="3" height="3" fill="#a6897b"/>
<rect x="391" y="235" width="3" height="3" fill="#9d7a6b"/>
<rect x="394" y="235" width="3" height="3" fill="#966e5e"/>
<rect x="397" y="235" width="3" height="3" fill="#8f6251"/>
<rect x="400" y="235" width="3" height="3" fill="#8a5a47"/>
<rect x="403" y="235" width="3" height="3" fill="#855443"/>
<rect x="406" y="235" width="3" height="3" fill="#7e4f3f"/>
<rect x="409" y="235" width="3" height="3" fill="#7c4e3f"/>
<rect x="412" y="235" width="3" height="3" fill="#794b3f"/>
<rect x="415" y="235" width="3" height="3" fill="#7a4d40"/>
<rect x="418" y="235" width="3" height="3" fill="#7e5144"/>
<rect x="421" y="235" width="3" height="3" fill="#805546"/>
<rect x="424" y="235" width="3" height="3" fill="#815545"/>
<rect x="427" y="235" width="3" height="3" fill="#815443"/>
<rect x="430" y="235" width="3" height="3" fill="#7f513e"/>
<rect x="433" y="235" width="3" height="3" fill="#7e4e3c"/>
<rect x="436" y="235" width="3" height="3" fill="#7a4b3b"/>
<rect x="439" y="235" width="3" height="3" fill="#744738"/>
<rect x="442" y="235" width="3" height="3" fill="#744738"/>
<rect x="445" y="235" width="3" height="3" fill="#794d3e"/>
<rect x="448" y="235" width="3" height="3" fill="#815648"/>
<rect x="451" y="235" width="3" height="3" fill="#875d4f"/>
<rect x="454" y="235" width="3" height="3" fill="#8b6353"/>
<rect x="457" y="235" width="3" height="3" fill="#8c6555"/>
<rect x="460" y="235" width="3" height="3" fill="#8d6654"/>
<rect x="463" y="235" width="3" height="3" fill="#8d6654"/>
<rect x="466" y="235" width="3" height="3" fill="#8e6755"/>
<rect x="469" y="235" width="3" height="3" fill="#8f6b58"/>
<rect x="472" y="235" width="3" height="3" fill="#916f5c"/>
<rect x="475" y="235" width="3" height="3" fill="#93725e"/>
<rect x="478" y="235" width="3" height="3" fill="#947560"/>
<rect x="481" y="235" width="3" height="3" fill="#957661"/>
<rect x="484" y="235" width="3" height="3" fill="#957761"/>
<rect x="487" y="235" width="3" height="3" fill="#957762"/>
<rect x="379" y="238" width="3" height="3" fill="#c5b9b1"/>
<rect x="382" y="238" width="3" height="3" fill="#c5b8af"/>
<rect x="385" y="238" width="3" height="3" fill="#bdaca3"/>
<rect x="388" y="238" width="3" height="3" fill="#af968a"/>
<rect x="391" y="238" width="3" height="3" fill="#a18071"/>
<rect x="394" y="238" width="3" height="3" fill="#966d5d"/>
<rect x="397" y="238" width="3" height="3" fill="#8d5d4b"/>
<rect x="400" y="238" width="3" height="3" fill="#8a5643"/>
<rect x="403" y="238" width="3" height="3" fill="#865340"/>
<rect x="406" y="238" width="3" height="3" fill="#7b4c3b"/>
<rect x="409" y="238" width="3" height="3" fill="#7a4b3c"/>
<rect x="412" y="238" width="3" height="3" fill="#75463b"/>
<rect x="415" y="238" width="3" height="3" fill="#76473c"/>
<rect x="418" y="238" width="3" height="3" fill="#7b4e42"/>
<rect x="421" y="238" width="3" height="3" fill="#815547"/>
<rect x="424" y="238" width="3" height="3" fill="#825747"/>
<rect x="427" y="238" width="3" height="3" fill="#815342"/>
<rect x="430" y="238" width="3" height="3" fill="#7e4e3b"/>
<rect x="433" y="238" width="3" height="3" fill="#7d4c38"/>
<rect x="436" y="238" width="3" height="3" fill="#7d4c39"/>
<rect x="439" y="238" width="3" height="3" fill="#784b3b"/>
<rect x="442" y="238" width="3" height="3" fill="#784c3d"/>
<rect x="445" y="238" width="3" height="3" fill="#7e5245"/>
<rect x="448" y="238" width="3" height="3" fill="#84594c"/>
<rect x="451" y="238" width="3" height="3" fill="#885e50"/>
<rect x="454" y="238" width="3" height="3" fill="#8b6253"/>
<rect x="457" y="238" width="3" height="3" fill="#8c6353"/>
<rect x="460" y="238" width="3" height="3" fill="#8b6250"/>
<rect x="463" y="238" width="3" height="3" fill="#8a614e"/>
<rect x="466" y="238" width="3" height="3" fill="#8b6350"/>
<rect x="469" y="238" width="3" height="3" fill="#8e6856"/>
<rect x="472" y="238" width="3" height="3" fill="#92705d"/>
<rect x="475" y="238" width="3" height="3" fill="#957561"/>
<rect x="478" y="238" width="3" height="3" fill="#967862"/>
<rect x="481" y="238" width="3" height="3" fill="#967862"/>
<rect x="484" y="238" width="3" height="3" fill="#967862"/>
<rect x="487" y="238" width="3" height="3" fill="#967863"/>
<rect x="379" y="241" width="3" height="3" fill="#cbc1ba"/>
<rect x="382" y="241" width="3" height="3" fill="#cbc2bb"/>
<rect x="385" y="241" width="3" height="3" fill="#c6bab2"/>
<rect x="388" y="241" width="3" height="3" fill="#b59f94"/>
<rect x="391" y="241" width="3" height="3" fill="#a48476"/>
<rect x="394" y="241" width="3" height="3" fill="#997262"/>
<rect x="397" y="241" width="3" height="3" fill="#8f604e"/>
<rect x="400" y="241" width="3" height="3" fill="#8a5743"/>
<rect x="403" y="241" width="3" height="3" fill="#885441"/>
<rect x="406" y="241" width="3" height="3" fill="#7e4e3d"/>
<rect x="409" y="241" width="3" height="3" fill="#7a4b3d"/>
<rect x="412" y="241" width="3" height="3" fill="#75463b"/>
<rect x="415" y="241" width="3" height="3" fill="#76473d"/>
<rect x="418" y="241" width="3" height="3" fill="#7c4f43"/>
<rect x="421" y="241" width="3" height="3" fill="#825648"/>
<rect x="424" y="241" width="3" height="3" fill="#835848"/>
<rect x="427" y="241" width="3" height="3" fill="#825543"/>
<rect x="430" y="241" width="3" height="3" fill="#7f4e3b"/>
<rect x="433" y="241" width="3" height="3" fill="#7d4c38"/>
<rect x="436" y="241" width="3" height="3" fill="#7e4d3a"/>
<rect x="439" y="241" width="3" height="3" fill="#7f5141"/>
<rect x="442" y="241" width="3" height="3" fill="#825648"/>
<rect x="445" y="241" width="3" height="3" fill="#86594e"/>
<rect x="448" y="241" width="3" height="3" fill="#875b50"/>
<rect x="451" y="241" width="3" height="3" fill="#885e52"/>
<rect x="454" y="241" width="3" height="3" fill="#8b6254"/>
<rect x="457" y="241" width="3" height="3" fill="#8b6251"/>
<rect x="460" y="241" width="3" height="3" fill="#895f4c"/>
<rect x="463" y="241" width="3" height="3" fill="#885d49"/>
<rect x="466" y="241" width="3" height="3" fill="#895e4b"/>
<rect x="469" y="241" width="3" height="3" fill="#8d6552"/>
<rect x="472" y="241" width="3" height="3" fill="#93705d"/>
<rect x="475" y="241" width="3" height="3" fill="#967763"/>
<rect x="478" y="241" width="3" height="3" fill="#967863"/>
<rect x="481" y="241" width="3" height="3" fill="#967862"/>
<rect x="484" y="241" width="3" height="3" fill="#967863"/>
<rect x="487" y="241" width="3" height="3" fill="#977964"/>
<rect x="379" y="244" width="3" height="3" fill="#ccc3bc"/>
<rect x="382" y="244" width="3" height="3" fill="#ccc4bd"/>
<rect x="385" y="244" width="3" height="3" fill="#c8bdb5"/>
<rect x="388" y="244" width="3" height="3" fill="#b49d92"/>
<rect x="391" y="244" width="3" height="3" fill="#a48375"/>
<rect x="394" y="244" width="3" height="3" fill="#9e7b6b"/>
<rect x="397" y="244" width="3" height="3" fill="#976e5e"/>
<rect x="400" y="244" width="3" height="3" fill="#8e5f4d"/>
<rect x="403" y="244" width="3" height="3" fill="#895948"/>
<rect x="406" y="244" width="3" height="3" fill="#835545"/>
<rect x="409" y="244" width="3" height="3" fill="#7f5143"/>
<rect x="412" y="244" width="3" height="3" fill="#7b4d41"/>
<rect x="415" y="244" width="3" height="3" fill="#7c4f43"/>
<rect x="418" y="244" width="3" height="3" fill="#805547"/>
<rect x="421" y="244" width="3" height="3" fill="#835949"/>
<rect x="424" y="244" width="3" height="3" fill="#845948"/>
<rect x="427" y="244" width="3" height="3" fill="#845847"/>
<rect x="430" y="244" width="3" height="3" fill="#825442"/>
<rect x="433" y="244" width="3" height="3" fill="#80513e"/>
<rect x="436" y="244" width="3" height="3" fill="#815341"/>
<rect x="439" y="244" width="3" height="3" fill="#845849"/>
<rect x="442" y="244" width="3" height="3" fill="#875b4f"/>
<rect x="445" y="244" width="3" height="3" fill="#875a50"/>
<rect x="448" y="244" width="3" height="3" fill="#875a50"/>
<rect x="451" y="244" width="3" height="3" fill="#895d52"/>
<rect x="454" y="244" width="3" height="3" fill="#8c6355"/>
<rect x="457" y="244" width="3" height="3" fill="#8b6352"/>
<rect x="460" y="244" width="3" height="3" fill="#885e4b"/>
<rect x="463" y="244" width="3" height="3" fill="#875c48"/>
<rect x="466" y="244" width="3" height="3" fill="#885e4a"/>
<rect x="469" y="244" width="3" height="3" fill="#8d6553"/>
<rect x="472" y="244" width="3" height="3" fill="#957361"/>
<rect x="475" y="244" width="3" height="3" fill="#997a68"/>
<rect x="478" y="244" width="3" height="3" fill="#997b67"/>
<rect x="481" y="244" width="3" height="3" fill="#987a65"/>
<rect x="484" y="244" width="3" height="3" fill="#987a66"/>
<rect x="487" y="244" width="3" height="3" fill="#997c68"/>
<rect x="379" y="247" width="3" height="3" fill="#c9bfb8"/>
<rect x="382" y="247" width="3" height="3" fill="#c9bfb8"/>
<rect x="385" y="247" width="3" height="3" fill="#c1b3aa"/>
<rect x="388" y="247" width="3" height="3" fill="#ad9286"/>
<rect x="391" y="247" width="3" height="3" fill="#a18071"/>
<rect x="394" y="247" width="3" height="3" fill="#a07d6e"/>
<rect x="397" y="247" width="3" height="3" fill="#9e7a6b"/>
<rect x="400" y="247" width="3" height="3" fill="#976f5f"/>
<rect x="403" y="247" width="3" height="3" fill="#906656"/>
<rect x="406" y="247" width="3" height="3" fill="#8c6253"/>
<rect x="409" y="247" width="3" height="3" fill="#895e50"/>
<rect x="412" y="247" width="3" height="3" fill="#865c4e"/>
<rect x="415" y="247" width="3" height="3" fill="#855b4d"/>
<rect x="418" y="247" width="3" height="3" fill="#855b4b"/>
<rect x="421" y="247" width="3" height="3" fill="#835847"/>
<rect x="424" y="247" width="3" height="3" fill="#825745"/>
<rect x="427" y="247" width="3" height="3" fill="#835947"/>
<rect x="430" y="247" width="3" height="3" fill="#865b4a"/>
<rect x="433" y="247" width="3" height="3" fill="#875c4b"/>
<rect x="436" y="247" width="3" height="3" fill="#895e4e"/>
<rect x="439" y="247" width="3" height="3" fill="#8b6153"/>
<rect x="442" y="247" width="3" height="3" fill="#8a6054"/>
<rect x="445" y="247" width="3" height="3" fill="#885c52"/>
<rect x="448" y="247" width="3" height="3" fill="#885c52"/>
<rect x="451" y="247" width="3" height="3" fill="#8b6055"/>
<rect x="454" y="247" width="3" height="3" fill="#8e6659"/>
<rect x="457" y="247" width="3" height="3" fill="#8e6757"/>
<rect x="460" y="247" width="3" height="3" fill="#8b624f"/>
<rect x="463" y="247" width="3" height="3" fill="#895f4c"/>
<rect x="466" y="247" width="3" height="3" fill="#8b624f"/>
<rect x="469" y="247" width="3" height="3" fill="#926d5b"/>
<rect x="472" y="247" width="3" height="3" fill="#9a7a6a"/>
<rect x="475" y="247" width="3" height="3" fill="#9e8171"/>
<rect x="478" y="247" width="3" height="3" fill="#9f8271"/>
<rect x="481" y="247" width="3" height="3" fill="#9e8170"/>
<rect x="484" y="247" width="3" height="3" fill="#9d816f"/>
<rect x="487" y="247" width="3" height="3" fill="#9e8270"/>
<rect x="379" y="250" width="3" height="3" fill="#c3b6ae"/>
<rect x="382" y="250" width="3" height="3" fill="#c1b3aa"/>
<rect x="385" y="250" width="3" height="3" fill="#b9a59b"/>
<rect x="388" y="250" width="3" height="3" fill="#aa8e81"/>
<rect x="391" y="250" width="3" height="3" fill="#a28071"/>
<rect x="394" y="250" width="3" height="3" fill="#a07e6f"/>
<rect x="397" y="250" width="3" height="3" fill="#a07d6e"/>
<rect x="400" y="250" width="3" height="3" fill="#9d796a"/>
<rect x="403" y="250" width="3" height="3" fill="#9a7566"/>
<rect x="406" y="250" width="3" height="3" fill="#987364"/>
<rect x="409" y="250" width="3" height="3" fill="#967062"/>
<rect x="412" y="250" width="3" height="3" fill="#926c5e"/>
<rect x="415" y="250" width="3" height="3" fill="#8e6758"/>
<rect x="418" y="250" width="3" height="3" fill="#875e4d"/>
<rect x="421" y="250" width="3" height="3" fill="#815644"/>
<rect x="424" y="250" width="3" height="3" fill="#805543"/>
<rect x="427" y="250" width="3" height="3" fill="#835846"/>
<rect x="430" y="250" width="3" height="3" fill="#88604f"/>
<rect x="433" y="250" width="3" height="3" fill="#8e6758"/>
<rect x="436" y="250" width="3" height="3" fill="#926d5e"/>
<rect x="439" y="250" width="3" height="3" fill="#947062"/>
<rect x="442" y="250" width="3" height="3" fill="#936e61"/>
<rect x="445" y="250" width="3" height="3" fill="#90695d"/>
<rect x="448" y="250" width="3" height="3" fill="#8f675b"/>
<rect x="451" y="250" width="3" height="3" fill="#916a5e"/>
<rect x="454" y="250" width="3" height="3" fill="#946f62"/>
<rect x="457" y="250" width="3" height="3" fill="#947061"/>
<rect x="460" y="250" width="3" height="3" fill="#926d5d"/>
<rect x="463" y="250" width="3" height="3" fill="#916c5a"/>
<rect x="466" y="250" width="3" height="3" fill="#94705f"/>
<rect x="469" y="250" width="3" height="3" fill="#9b7c6c"/>
<rect x="472" y="250" width="3" height="3" fill="#a18576"/>
<rect x="475" y="250" width="3" height="3" fill="#a38879"/>
<rect x="478" y="250" width="3" height="3" fill="#a38879"/>
<rect x="481" y="250" width="3" height="3" fill="#a38879"/>
<rect x="484" y="250" width="3" height="3" fill="#a3897a"/>
<rect x="487" y="250" width="3" height="3" fill="#a48a7b"/>
<rect x="379" y="253" width="3" height="3" fill="#beafa7"/>
<rect x="382" y="253" width="3" height="3" fill="#bcaca4"/>
<rect x="385" y="253" width="3" height="3" fill="#b8a59c"/>
<rect x="388" y="253" width="3" height="3" fill="#af978c"/>
<rect x="391" y="253" width="3" height="3" fill="#a7897c"/>
<rect x="394" y="253" width="3" height="3" fill="#a38375"/>
<rect x="397" y="253" width="3" height="3" fill="#a38274"/>
<rect x="400" y="253" width="3" height="3" fill="#a18072"/>
<rect x="403" y="253" width="3" height="3" fill="#a07e70"/>
<rect x="406" y="253" width="3" height="3" fill="#a07d6f"/>
<rect x="409" y="253" width="3" height="3" fill="#9f7d6f"/>
<rect x="412" y="253" width="3" height="3" fill="#9d7b6d"/>
<rect x="415" y="253" width="3" height="3" fill="#977365"/>
<rect x="418" y="253" width="3" height="3" fill="#8c6555"/>
<rect x="421" y="253" width="3" height="3" fill="#845a48"/>
<rect x="424" y="253" width="3" height="3" fill="#825745"/>
<rect x="427" y="253" width="3" height="3" fill="#855c4b"/>
<rect x="430" y="253" width="3" height="3" fill="#8e6858"/>
<rect x="433" y="253" width="3" height="3" fill="#967365"/>
<rect x="436" y="253" width="3" height="3" fill="#9c7c6e"/>
<rect x="439" y="253" width="3" height="3" fill="#a08173"/>
<rect x="442" y="253" width="3" height="3" fill="#a18375"/>
<rect x="445" y="253" width="3" height="3" fill="#9f8072"/>
<rect x="448" y="253" width="3" height="3" fill="#9c7b6e"/>
<rect x="451" y="253" width="3" height="3" fill="#9b7a6d"/>
<rect x="454" y="253" width="3" height="3" fill="#9c7c70"/>
<rect x="457" y="253" width="3" height="3" fill="#9e7f71"/>
<rect x="460" y="253" width="3" height="3" fill="#9e7f71"/>
<rect x="463" y="253" width="3" height="3" fill="#9e8072"/>
<rect x="466" y="253" width="3" height="3" fill="#a28577"/>
<rect x="469" y="253" width="3" height="3" fill="#a68c7f"/>
<rect x="472" y="253" width="3" height="3" fill="#a78d7f"/>
<rect x="475" y="253" width="3" height="3" fill="#a4897a"/>
<rect x="478" y="253" width="3" height="3" fill="#a38879"/>
<rect x="481" y="253" width="3" height="3" fill="#a58a7b"/>
<rect x="484" y="253" width="3" height="3" fill="#a78e80"/>
<rect x="487" y="253" width="3" height="3" fill="#a99184"/>
<rect x="379" y="256" width="3" height="3" fill="#beb0a8"/>
<rect x="382" y="256" width="3" height="3" fill="#bfb1aa"/>
<rect x="385" y="256" width="3" height="3" fill="#beb0a9"/>
<rect x="388" y="256" width="3" height="3" fill="#baaaa2"/>
<rect x="391" y="256" width="3" height="3" fill="#b39d93"/>
<rect x="394" y="256" width="3" height="3" fill="#ad9387"/>
<rect x="397" y="256" width="3" height="3" fill="#a98c7f"/>
<rect x="400" y="256" width="3" height="3" fill="#a58679"/>
<rect x="403" y="256" width="3" height="3" fill="#a28172"/>
<rect x="406" y="256" width="3" height="3" fill="#a17e6f"/>
<rect x="409" y="256" width="3" height="3" fill="#a28072"/>
<rect x="412" y="256" width="3" height="3" fill="#a58678"/>
<rect x="415" y="256" width="3" height="3" fill="#a28376"/>
<rect x="418" y="256" width="3" height="3" fill="#997769"/>
<rect x="421" y="256" width="3" height="3" fill="#906c5c"/>
<rect x="424" y="256" width="3" height="3" fill="#8d6858"/>
<rect x="427" y="256" width="3" height="3" fill="#916d5e"/>
<rect x="430" y="256" width="3" height="3" fill="#987769"/>
<rect x="433" y="256" width="3" height="3" fill="#9f8174"/>
<rect x="436" y="256" width="3" height="3" fill="#a4897b"/>
<rect x="439" y="256" width="3" height="3" fill="#a78b7d"/>
<rect x="442" y="256" width="3" height="3" fill="#a88c7d"/>
<rect x="445" y="256" width="3" height="3" fill="#a78b7c"/>
<rect x="448" y="256" width="3" height="3" fill="#a5887b"/>
<rect x="451" y="256" width="3" height="3" fill="#a4887b"/>
<rect x="454" y="256" width="3" height="3" fill="#a68c80"/>
<rect x="457" y="256" width="3" height="3" fill="#a99085"/>
<rect x="460" y="256" width="3" height="3" fill="#ab9388"/>
<rect x="463" y="256" width="3" height="3" fill="#ac948a"/>
<rect x="466" y="256" width="3" height="3" fill="#ae988e"/>
<rect x="469" y="256" width="3" height="3" fill="#b19c92"/>
<rect x="472" y="256" width="3" height="3" fill="#ae988d"/>
<rect x="475" y="256" width="3" height="3" fill="#a78d7f"/>
<rect x="478" y="256" width="3" height="3" fill="#a4897a"/>
<rect x="481" y="256" width="3" height="3" fill="#a78d7f"/>
<rect x="484" y="256" width="3" height="3" fill="#ac9589"/>
<rect x="487" y="256" width="3" height="3" fill="#b09a8f"/>
<rect x="379" y="259" width="3" height="3" fill="#c0b3ac"/>
<rect x="382" y="259" width="3" height="3" fill="#c2b6b1"/>
<rect x="385" y="259" width="3" height="3" fill="#c2b8b2"/>
<rect x="388" y="259" width="3" height="3" fill="#c1b6b0"/>
<rect x="391" y="259" width="3" height="3" fill="#beafa8"/>
<rect x="394" y="259" width="3" height="3" fill="#b8a49b"/>
<rect x="397" y="259" width="3" height="3" fill="#b1988e"/>
<rect x="400" y="259" width="3" height="3" fill="#aa8d81"/>
<rect x="403" y="259" width="3" height="3" fill="#a58577"/>
<rect x="406" y="259" width="3" height="3" fill="#a28072"/>
<rect x="409" y="259" width="3" height="3" fill="#a8887b"/>
<rect x="412" y="259" width="3" height="3" fill="#b1978b"/>
<rect x="415" y="259" width="3" height="3" fill="#af968a"/>
<rect x="418" y="259" width="3" height="3" fill="#a98f83"/>
<rect x="421" y="259" width="3" height="3" fill="#a68b7f"/>
<rect x="424" y="259" width="3" height="3" fill="#a58a7e"/>
<rect x="427" y="259" width="3" height="3" fill="#a4897d"/>
<rect x="430" y="259" width="3" height="3" fill="#a48a7e"/>
<rect x="433" y="259" width="3" height="3" fill="#a78f82"/>
<rect x="436" y="259" width="3" height="3" fill="#aa9386"/>
<rect x="439" y="259" width="3" height="3" fill="#aa9183"/>
<rect x="442" y="259" width="3" height="3" fill="#a88d7e"/>
<rect x="445" y="259" width="3" height="3" fill="#a88d7e"/>
<rect x="448" y="259" width="3" height="3" fill="#a88e81"/>
<rect x="451" y="259" width="3" height="3" fill="#ab9286"/>
<rect x="454" y="259" width="3" height="3" fill="#b09b92"/>
<rect x="457" y="259" width="3" height="3" fill="#b5a39b"/>
<rect x="460" y="259" width="3" height="3" fill="#b7a69e"/>
<rect x="463" y="259" width="3" height="3" fill="#b7a59d"/>
<rect x="466" y="259" width="3" height="3" fill="#b9a8a1"/>
<rect x="469" y="259" width="3" height="3" fill="#beb0a9"/>
<rect x="472" y="259" width="3" height="3" fill="#c0b3ad"/>
<rect x="475" y="259" width="3" height="3" fill="#baa9a1"/>
<rect x="478" y="259" width="3" height="3" fill="#b19c91"/>
<rect x="481" y="259" width="3" height="3" fill="#b29e94"/>
<rect x="484" y="259" width="3" height="3" fill="#b7a59c"/>
<rect x="487" y="259" width="3" height="3" fill="#b9a89f"/>
<rect x="379" y="262" width="3" height="3" fill="#c1b5af"/>
<rect x="382" y="262" width="3" height="3" fill="#c2b8b2"/>
<rect x="385" y="262" width="3" height="3" fill="#c3b9b4"/>
<rect x="388" y="262" width="3" height="3" fill="#c3b9b3"/>
<rect x="391" y="262" width="3" height="3" fill="#c3b8b2"/>
<rect x="394" y="262" width="3" height="3" fill="#c0b2ab"/>
<rect x="397" y="262" width="3" height="3" fill="#b9a59c"/>
<rect x="400" y="262" width="3" height="3" fill="#b1998e"/>
<rect x="403" y="262" width="3" height="3" fill="#b09589"/>
<rect x="406" y="262" width="3" height="3" fill="#b79f94"/>
<rect x="409" y="262" width="3" height="3" fill="#c4b3ab"/>
<rect x="412" y="262" width="3" height="3" fill="#c4b3aa"/>
<rect x="415" y="262" width="3" height="3" fill="#bba89e"/>
<rect x="418" y="262" width="3" height="3" fill="#b5a197"/>
<rect x="421" y="262" width="3" height="3" fill="#b6a59c"/>
<rect x="424" y="262" width="3" height="3" fill="#b7a89e"/>
<rect x="427" y="262" width="3" height="3" fill="#b4a298"/>
<rect x="430" y="262" width="3" height="3" fill="#ae9a8f"/>
<rect x="433" y="262" width="3" height="3" fill="#ad998d"/>
<rect x="436" y="262" width="3" height="3" fill="#b09d92"/>
<rect x="439" y="262" width="3" height="3" fill="#b1a095"/>
<rect x="442" y="262" width="3" height="3" fill="#ae988b"/>
<rect x="445" y="262" width="3" height="3" fill="#ab9385"/>
<rect x="448" y="262" width="3" height="3" fill="#ac9487"/>
<rect x="451" y="262" width="3" height="3" fill="#b19c92"/>
<rect x="454" y="262" width="3" height="3" fill="#b9aaa2"/>
<rect x="457" y="262" width="3" height="3" fill="#bfb2ac"/>
<rect x="460" y="262" width="3" height="3" fill="#bfb3ad"/>
<rect x="463" y="262" width="3" height="3" fill="#beb1aa"/>
<rect x="466" y="262" width="3" height="3" fill="#c0b2ac"/>
<rect x="469" y="262" width="3" height="3" fill="#c6bcb7"/>
<rect x="472" y="262" width="3" height="3" fill="#cbc3c0"/>
<rect x="475" y="262" width="3" height="3" fill="#cbc2bf"/>
<rect x="478" y="262" width="3" height="3" fill="#c3b8b2"/>
<rect x="481" y="262" width="3" height="3" fill="#c2b6b0"/>
<rect x="484" y="262" width="3" height="3" fill="#c3b7b1"/>
<rect x="487" y="262" width="3" height="3" fill="#c1b4ae"/>
<rect x="379" y="265" width="3" height="3" fill="#c1b4ae"/>
<rect x="382" y="265" width="3" height="3" fill="#c2b7b2"/>
<rect x="385" y="265" width="3" height="3" fill="#c3b9b3"/>
<rect x="388" y="265" width="3" height="3" fill="#c6bbb6"/>
<rect x="391" y="265" width="3" height="3" fill="#c7bdb7"/>
<rect x="394" y="265" width="3" height="3" fill="#c5bab3"/>
<rect x="397" y="265" width="3" height="3" fill="#bfafa7"/>
<rect x="400" y="265" width="3" height="3" fill="#b8a49a"/>
<rect x="403" y="265" width="3" height="3" fill="#bba69c"/>
<rect x="406" y="265" width="3" height="3" fill="#c6b5ad"/>
<rect x="409" y="265" width="3" height="3" fill="#ccbeb7"/>
<rect x="412" y="265" width="3" height="3" fill="#cabcb4"/>
<rect x="415" y="265" width="3" height="3" fill="#c1b0a7"/>
<rect x="418" y="265" width="3" height="3" fill="#bbaba2"/>
<rect x="421" y="265" width="3" height="3" fill="#bcafa7"/>
<rect x="424" y="265" width="3" height="3" fill="#bdb1a9"/>
<rect x="427" y="265" width="3" height="3" fill="#bbada4"/>
<rect x="430" y="265" width="3" height="3" fill="#b4a399"/>
<rect x="433" y="265" width="3" height="3" fill="#b19e93"/>
<rect x="436" y="265" width="3" height="3" fill="#b2a297"/>
<rect x="439" y="265" width="3" height="3" fill="#b4a49a"/>
<rect x="442" y="265" width="3" height="3" fill="#b2a297"/>
<rect x="445" y="265" width="3" height="3" fill="#af9b90"/>
<rect x="448" y="265" width="3" height="3" fill="#af9a8f"/>
<rect x="451" y="265" width="3" height="3" fill="#b6a49b"/>
<rect x="454" y="265" width="3" height="3" fill="#bfb2ac"/>
<rect x="457" y="265" width="3" height="3" fill="#c2b8b3"/>
<rect x="460" y="265" width="3" height="3" fill="#c2b8b3"/>
<rect x="463" y="265" width="3" height="3" fill="#c1b5b0"/>
<rect x="466" y="265" width="3" height="3" fill="#c2b6b0"/>
<rect x="469" y="265" width="3" height="3" fill="#c8beba"/>
<rect x="472" y="265" width="3" height="3" fill="#ccc4c1"/>
<rect x="475" y="265" width="3" height="3" fill="#ccc4c1"/>
<rect x="478" y="265" width="3" height="3" fill="#c7beb9"/>
<rect x="481" y="265" width="3" height="3" fill="#c7bdb9"/>
<rect x="484" y="265" width="3" height="3" fill="#c7bdb9"/>
<rect x="487" y="265" width="3" height="3" fill="#c5bab6"/>
<rect x="379" y="268" width="3" height="3" fill="#c0b3ad"/>
<rect x="382" y="268" width="3" height="3" fill="#c2b6b0"/>
<rect x="385" y="268" width="3" height="3" fill="#c4b9b3"/>
<rect x="388" y="268" width="3" height="3" fill="#c7bcb6"/>
<rect x="391" y="268" width="3" height="3" fill="#c8bdb7"/>
<rect x="394" y="268" width="3" height="3" fill="#c6bbb4"/>
<rect x="397" y="268" width="3" height="3" fill="#c1b2ab"/>
<rect x="400" y="268" width="3" height="3" fill="#bcaaa1"/>
<rect x="403" y="268" width="3" height="3" fill="#beaba2"/>
<rect x="406" y="268" width="3" height="3" fill="#c5b5ac"/>
<rect x="409" y="268" width="3" height="3" fill="#c9bab3"/>
<rect x="412" y="268" width="3" height="3" fill="#c7b8b0"/>
<rect x="415" y="268" width="3" height="3" fill="#c0b0a7"/>
<rect x="418" y="268" width="3" height="3" fill="#bcada4"/>
<rect x="421" y="268" width="3" height="3" fill="#bdb0a8"/>
<rect x="424" y="268" width="3" height="3" fill="#beb1a9"/>
<rect x="427" y="268" width="3" height="3" fill="#bcaea6"/>
<rect x="430" y="268" width="3" height="3" fill="#b6a69c"/>
<rect x="433" y="268" width="3" height="3" fill="#b2a095"/>
<rect x="436" y="268" width="3" height="3" fill="#b2a196"/>
<rect x="439" y="268" width="3" height="3" fill="#b3a398"/>
<rect x="442" y="268" width="3" height="3" fill="#b2a197"/>
<rect x="445" y="268" width="3" height="3" fill="#b09e93"/>
<rect x="448" y="268" width="3" height="3" fill="#b29e94"/>
<rect x="451" y="268" width="3" height="3" fill="#b8a8a0"/>
<rect x="454" y="268" width="3" height="3" fill="#c0b4ae"/>
<rect x="457" y="268" width="3" height="3" fill="#c2b8b3"/>
<rect x="460" y="268" width="3" height="3" fill="#c3b8b3"/>
<rect x="463" y="268" width="3" height="3" fill="#c1b6b1"/>
<rect x="466" y="268" width="3" height="3" fill="#c1b6b0"/>
<rect x="469" y="268" width="3" height="3" fill="#c6bbb7"/>
<rect x="472" y="268" width="3" height="3" fill="#c9c0bc"/>
<rect x="475" y="268" width="3" height="3" fill="#c9c0bc"/>
<rect x="478" y="268" width="3" height="3" fill="#c7bdb9"/>
<rect x="481" y="268" width="3" height="3" fill="#c8bdb9"/>
<rect x="484" y="268" width="3" height="3" fill="#c8bdb9"/>
<rect x="487" y="268" width="3" height="3" fill="#c6bbb7"/>
</g>
<rect x="357.8" y="183.2" width="128.6" height="85.6" filter="url(#tex)" opacity="0.35"/>
<path d="M395.9,213.8 C399,212.6 404,213.2 405.4,216.2 C405.8,219.5 402.5,224 401.1,228.6 C399.5,234 399.3,240 399.6,247 C400,254 401.5,260 400.4,265 C399,267.6 395.5,267.4 393.6,265.2 C390,261 387.2,255 386.6,248 C386,241 387.5,232 389.5,226.5 C391,221 392.8,215.5 395.9,213.8 Z" fill="url(#spA)"/>
<path d="M424.4,208.3 C428,207 432.8,207 434.3,209.5 C435.2,213 432.6,219 431,226.5 C429.8,234 430,243 430.6,250 C431.3,256 432.2,261 430.7,265 C428.8,267.6 424.5,267.4 421.6,264 C418.6,260 416.3,252 415.9,243.4 C415.6,234 416,226.5 418,219.5 C419.5,214 421.5,209.6 424.4,208.3 Z" fill="url(#spA)"/>
<path d="M460.5,188.5 C464,186 470,185.6 475,186.5 C480,187.5 483,191.5 482.5,196.5 C482.2,200.5 479.5,203.5 477.3,205 C476,210 475.8,217 475.2,227 C474.4,238 472.2,249 469.5,257 C467.5,262.5 465.5,265 462.5,265.2 C459.5,265.2 456.5,261 454.5,254 C451.5,245 450.2,236 450.5,227 C450.8,216 452.8,206 455.5,198 C457,193 458.5,190 460.5,188.5 Z" fill="url(#spB)"/>
<path d="M395.9,213.8 C399,212.6 404,213.2 405.4,216.2 C405.8,219.5 402.5,224 401.1,228.6 C399.5,234 399.3,240 399.6,247 C400,254 401.5,260 400.4,265 C399,267.6 395.5,267.4 393.6,265.2 C390,261 387.2,255 386.6,248 C386,241 387.5,232 389.5,226.5 C391,221 392.8,215.5 395.9,213.8 Z" fill="url(#spEdge)"/>
<path d="M424.4,208.3 C428,207 432.8,207 434.3,209.5 C435.2,213 432.6,219 431,226.5 C429.8,234 430,243 430.6,250 C431.3,256 432.2,261 430.7,265 C428.8,267.6 424.5,267.4 421.6,264 C418.6,260 416.3,252 415.9,243.4 C415.6,234 416,226.5 418,219.5 C419.5,214 421.5,209.6 424.4,208.3 Z" fill="url(#spEdge)"/>
<path d="M460.5,188.5 C464,186 470,185.6 475,186.5 C480,187.5 483,191.5 482.5,196.5 C482.2,200.5 479.5,203.5 477.3,205 C476,210 475.8,217 475.2,227 C474.4,238 472.2,249 469.5,257 C467.5,262.5 465.5,265 462.5,265.2 C459.5,265.2 456.5,261 454.5,254 C451.5,245 450.2,236 450.5,227 C450.8,216 452.8,206 455.5,198 C457,193 458.5,190 460.5,188.5 Z" fill="url(#spEdge)"/>
<path d="M467,189.5 C470.5,187.6 476,188 479.3,191.5 C481.3,194.5 480.3,199.5 477,201.3 C474,202.6 470.5,200.5 469,197.3 C467.6,194.5 465.8,191.5 467,189.5 Z" fill="#3a0408" stroke="#5a0a10" stroke-width="0.7"/>
<path d="M462,189 C465,188.5 467,190 468.5,193" fill="none" stroke="#7a1418" stroke-width="0.8"/>
<g filter="url(#blur05)" fill="#f0d8d8" opacity="0.95">
<ellipse cx="388.6" cy="246.5" rx="1.0" ry="3.0"/><ellipse cx="389.0" cy="253" rx="0.8" ry="2"/><ellipse cx="388" cy="241" rx="0.6" ry="1.2"/>
<ellipse cx="419.0" cy="233.5" rx="1.3" ry="2.6"/><ellipse cx="418.4" cy="243.5" rx="0.9" ry="3.5"/><ellipse cx="419.5" cy="251" rx="0.6" ry="1.5"/>
<ellipse cx="452.4" cy="228.5" rx="1.0" ry="2.6"/><ellipse cx="453.0" cy="238" rx="1.0" ry="3.2"/><ellipse cx="455" cy="246" rx="0.6" ry="1.6"/><ellipse cx="463" cy="190" rx="0.8" ry="0.8"/>
</g>
<rect x="357.80" y="183.60" width="23.80" height="81.40" fill="#ddd6cc" />
<rect x="372.00" y="183.60" width="9.00" height="81.40" fill="#f3ebdd" />
<line x1="372.00" y1="185.30" x2="380.80" y2="185.30" stroke="#9a8c7a" stroke-width="1.5" />
<line x1="372.00" y1="189.20" x2="380.80" y2="189.20" stroke="#9a8c7a" stroke-width="1.5" />
<line x1="372.00" y1="193.10" x2="380.80" y2="193.10" stroke="#9a8c7a" stroke-width="1.5" />
<line x1="372.00" y1="197.00" x2="380.80" y2="197.00" stroke="#9a8c7a" stroke-width="1.5" />
<line x1="372.00" y1="200.90" x2="380.80" y2="200.90" stroke="#9a8c7a" stroke-width="1.5" />
<line x1="372.00" y1="204.80" x2="380.80" y2="204.80" stroke="#9a8c7a" stroke-width="1.5" />
<line x1="372.00" y1="208.70" x2="380.80" y2="208.70" stroke="#9a8c7a" stroke-width="1.5" />
<line x1="372.00" y1="212.60" x2="380.80" y2="212.60" stroke="#9a8c7a" stroke-width="1.5" />
<line x1="372.00" y1="216.50" x2="380.80" y2="216.50" stroke="#9a8c7a" stroke-width="1.5" />
<line x1="372.00" y1="220.40" x2="380.80" y2="220.40" stroke="#9a8c7a" stroke-width="1.5" />
<line x1="372.00" y1="224.30" x2="380.80" y2="224.30" stroke="#9a8c7a" stroke-width="1.5" />
<line x1="372.00" y1="228.20" x2="380.80" y2="228.20" stroke="#9a8c7a" stroke-width="1.5" />
<line x1="372.00" y1="232.10" x2="380.80" y2="232.10" stroke="#9a8c7a" stroke-width="1.5" />
<line x1="372.00" y1="236.00" x2="380.80" y2="236.00" stroke="#9a8c7a" stroke-width="1.5" />
<line x1="372.00" y1="239.90" x2="380.80" y2="239.90" stroke="#9a8c7a" stroke-width="1.5" />
<line x1="372.00" y1="243.80" x2="380.80" y2="243.80" stroke="#9a8c7a" stroke-width="1.5" />
<line x1="372.00" y1="247.70" x2="380.80" y2="247.70" stroke="#9a8c7a" stroke-width="1.5" />
<line x1="372.00" y1="251.60" x2="380.80" y2="251.60" stroke="#9a8c7a" stroke-width="1.5" />
<line x1="372.00" y1="255.50" x2="380.80" y2="255.50" stroke="#9a8c7a" stroke-width="1.5" />
<line x1="372.00" y1="259.40" x2="380.80" y2="259.40" stroke="#9a8c7a" stroke-width="1.5" />
<line x1="372.00" y1="263.30" x2="380.80" y2="263.30" stroke="#9a8c7a" stroke-width="1.5" />
<line x1="358.10" y1="183.60" x2="358.10" y2="265.00" stroke="#c4bcb0" stroke-width="0.6" />
<line x1="357.80" y1="184.00" x2="381.60" y2="184.00" stroke="#8a7460" stroke-width="0.8" />
<line x1="381.30" y1="183.60" x2="381.30" y2="265.00" stroke="#a47c56" stroke-width="1.1" />
<line x1="371.70" y1="183.60" x2="371.70" y2="265.00" stroke="#2e2a26" stroke-width="0.9" />
<line x1="366.00" y1="204.80" x2="371.80" y2="204.80" stroke="#8a7e70" stroke-width="1.3" />
<line x1="358.30" y1="224.30" x2="371.80" y2="224.30" stroke="#8a7e70" stroke-width="1.3" />
<line x1="366.00" y1="243.80" x2="371.80" y2="243.80" stroke="#8a7e70" stroke-width="1.3" />
<text x="367.40" y="245.30" font-size="10" fill="#1a1816" stroke="#1a1816" stroke-width="0.12" text-anchor="middle" textLength="35.5" lengthAdjust="spacingAndGlyphs" transform="rotate(-90 367.40 245.30)" >METRIC</text>
<text x="367.60" y="220.90" font-size="10" fill="#1a1816" stroke="#1a1816" stroke-width="0.12" text-anchor="middle" transform="rotate(-90 367.60 220.90)" >1</text>
<text x="367.60" y="188.40" font-size="10" fill="#1a1816" stroke="#1a1816" stroke-width="0.12" text-anchor="middle" transform="rotate(-90 367.60 188.40)" >2</text>
<rect x="357.80" y="265.00" width="24.00" height="4.00" fill="#d2ccc4" />
</g>
<text x="390.1" y="278.2" font-size="6.6" fill="#6ca844" textLength="18.6" lengthAdjust="spacingAndGlyphs" stroke="#6ca844" stroke-width="0.12">Stk4<tspan font-size="4.4" dy="-2.9">+/+</tspan></text>
<text x="390.1" y="285.8" font-size="6.6" fill="#6ca844" textLength="18.6" lengthAdjust="spacingAndGlyphs" stroke="#6ca844" stroke-width="0.12">Stk3<tspan font-size="4.4" dy="-2.9">+/+</tspan></text>
<text x="419.7" y="278.2" font-size="6.6" fill="#2d4b7a" textLength="18.6" lengthAdjust="spacingAndGlyphs" stroke="#2d4b7a" stroke-width="0.12">Stk4<tspan font-size="4.4" dy="-2.9">Δ/+</tspan></text>
<text x="419.7" y="285.8" font-size="6.6" fill="#2d4b7a" textLength="18.6" lengthAdjust="spacingAndGlyphs" stroke="#2d4b7a" stroke-width="0.12">Stk3<tspan font-size="4.4" dy="-2.9">Δ/+</tspan></text>
<text x="454.4" y="278.2" font-size="6.6" fill="#a20826" textLength="18.6" lengthAdjust="spacingAndGlyphs" stroke="#a20826" stroke-width="0.12">Stk4<tspan font-size="4.4" dy="-2.9">Δ/Δ</tspan></text>
<text x="454.4" y="285.8" font-size="6.6" fill="#a20826" textLength="18.6" lengthAdjust="spacingAndGlyphs" stroke="#a20826" stroke-width="0.12">Stk3<tspan font-size="4.4" dy="-2.9">Δ/Δ</tspan></text>
<line x1="399.50" y1="290.40" x2="467.70" y2="290.40" stroke="#222" stroke-width="0.8" />
<text x="433.80" y="300.40" font-size="7.6" fill="#222" stroke="#222" stroke-width="0.12" text-anchor="middle" textLength="54.8" lengthAdjust="spacingAndGlyphs" >6 weeks post-pIpC</text>
<text x="10.40" y="328.20" font-size="11.8" fill="#000" stroke="#000" stroke-width="0.35" font-weight="bold" >F</text>
<rect x="37.20" y="418.00" width="13.00" height="4.60" fill="#c3c1c6" />
<line x1="35.80" y1="335.10" x2="35.80" y2="423.30" stroke="#222" stroke-width="1.3" />
<line x1="33.80" y1="423.30" x2="165.60" y2="423.30" stroke="#222" stroke-width="1.3" />
<line x1="33.60" y1="336.80" x2="35.80" y2="336.80" stroke="#222" stroke-width="0.9" />
<text x="30.10" y="339.15" font-size="6.5" fill="#333" stroke="#333" stroke-width="0.12" text-anchor="end" >7</text>
<line x1="33.60" y1="349.40" x2="35.80" y2="349.40" stroke="#222" stroke-width="0.9" />
<text x="30.10" y="351.75" font-size="6.5" fill="#333" stroke="#333" stroke-width="0.12" text-anchor="end" >6</text>
<line x1="33.60" y1="361.90" x2="35.80" y2="361.90" stroke="#222" stroke-width="0.9" />
<text x="30.10" y="364.25" font-size="6.5" fill="#333" stroke="#333" stroke-width="0.12" text-anchor="end" >5</text>
<line x1="33.60" y1="374.40" x2="35.80" y2="374.40" stroke="#222" stroke-width="0.9" />
<text x="30.10" y="376.75" font-size="6.5" fill="#333" stroke="#333" stroke-width="0.12" text-anchor="end" >4</text>
<line x1="33.60" y1="386.50" x2="35.80" y2="386.50" stroke="#222" stroke-width="0.9" />
<text x="30.10" y="388.85" font-size="6.5" fill="#333" stroke="#333" stroke-width="0.12" text-anchor="end" >3</text>
<line x1="33.60" y1="398.70" x2="35.80" y2="398.70" stroke="#222" stroke-width="0.9" />
<text x="30.10" y="401.05" font-size="6.5" fill="#333" stroke="#333" stroke-width="0.12" text-anchor="end" >2</text>
<line x1="33.60" y1="411.10" x2="35.80" y2="411.10" stroke="#222" stroke-width="0.9" />
<text x="30.10" y="413.45" font-size="6.5" fill="#333" stroke="#333" stroke-width="0.12" text-anchor="end" >1</text>
<line x1="33.60" y1="423.30" x2="35.80" y2="423.30" stroke="#222" stroke-width="0.9" />
<text x="30.10" y="425.65" font-size="6.5" fill="#333" stroke="#333" stroke-width="0.12" text-anchor="end" >0</text>
<line x1="35.80" y1="423.30" x2="35.80" y2="425.30" stroke="#222" stroke-width="0.9" />
<text x="35.80" y="435.90" font-size="6.5" fill="#333" stroke="#333" stroke-width="0.12" text-anchor="middle" >0</text>
<line x1="53.92" y1="423.30" x2="53.92" y2="425.30" stroke="#222" stroke-width="0.9" />
<text x="53.92" y="435.90" font-size="6.5" fill="#333" stroke="#333" stroke-width="0.12" text-anchor="middle" >4</text>
<line x1="72.04" y1="423.30" x2="72.04" y2="425.30" stroke="#222" stroke-width="0.9" />
<text x="72.04" y="435.90" font-size="6.5" fill="#333" stroke="#333" stroke-width="0.12" text-anchor="middle" >8</text>
<line x1="90.16" y1="423.30" x2="90.16" y2="425.30" stroke="#222" stroke-width="0.9" />
<text x="90.16" y="435.90" font-size="6.5" fill="#333" stroke="#333" stroke-width="0.12" text-anchor="middle" >12</text>
<line x1="108.28" y1="423.30" x2="108.28" y2="425.30" stroke="#222" stroke-width="0.9" />
<text x="108.28" y="435.90" font-size="6.5" fill="#333" stroke="#333" stroke-width="0.12" text-anchor="middle" >16</text>
<line x1="126.40" y1="423.30" x2="126.40" y2="425.30" stroke="#222" stroke-width="0.9" />
<text x="126.40" y="435.90" font-size="6.5" fill="#333" stroke="#333" stroke-width="0.12" text-anchor="middle" >20</text>
<line x1="144.52" y1="423.30" x2="144.52" y2="425.30" stroke="#222" stroke-width="0.9" />
<text x="144.52" y="435.90" font-size="6.5" fill="#333" stroke="#333" stroke-width="0.12" text-anchor="middle" >24</text>
<line x1="162.64" y1="423.30" x2="162.64" y2="425.30" stroke="#222" stroke-width="0.9" />
<text x="162.64" y="435.90" font-size="6.5" fill="#333" stroke="#333" stroke-width="0.12" text-anchor="middle" >28</text>
<text x="21.10" y="378.60" font-size="8.0" fill="#333" stroke="#333" stroke-width="0.12" text-anchor="middle" textLength="77" lengthAdjust="spacingAndGlyphs" transform="rotate(-90 21.10 378.60)" >Granulocytes (x10<tspan font-size="4.3" dy="-2.6">3</tspan><tspan dy="2.6">/mm</tspan><tspan font-size="4.3" dy="-2.6">3</tspan><tspan dy="2.6">)</tspan></text>
<line x1="42.40" y1="431.80" x2="42.40" y2="438.40" stroke="#111" stroke-width="0.9" />
<path d="M40.30,433.40 L42.40,428.80 L44.50,433.40 L42.40,432.20 Z" fill="#111"/>
<text x="42.40" y="447.40" font-size="6.6" fill="#333" stroke="#333" stroke-width="0.12" text-anchor="middle" textLength="14.0" lengthAdjust="spacingAndGlyphs" >pIpC</text>
<text x="100.75" y="446.30" font-size="8.0" fill="#333" stroke="#333" stroke-width="0.12" text-anchor="middle" textLength="38.7" lengthAdjust="spacingAndGlyphs" >Time (weeks)</text>
<path d="M35.80,397.30 L54.00,404.70 L72.30,404.20 L108.20,407.30 L126.20,408.70 L153.50,411.30" fill="none" stroke="#a20826" stroke-width="1.0" stroke-linejoin="round"/>
<line x1="72.30" y1="401.60" x2="72.30" y2="406.80" stroke="#a20826" stroke-width="0.9" />
<line x1="70.50" y1="401.60" x2="74.10" y2="401.60" stroke="#a20826" stroke-width="0.9" />
<line x1="70.50" y1="406.80" x2="74.10" y2="406.80" stroke="#a20826" stroke-width="0.9" />
<circle cx="35.80" cy="397.30" r="2.2" fill="#a20826" />
<circle cx="54.00" cy="404.70" r="2.2" fill="#a20826" />
<circle cx="72.30" cy="404.20" r="2.2" fill="#a20826" />
<circle cx="108.20" cy="407.30" r="2.2" fill="#a20826" />
<circle cx="126.20" cy="408.70" r="2.2" fill="#a20826" />
<circle cx="153.50" cy="411.30" r="2.2" fill="#a20826" />
<path d="M35.80,392.50 L54.00,397.00 L72.30,398.70 L108.20,398.90 L126.20,397.10 L153.50,403.90" fill="none" stroke="#6ca844" stroke-width="1.0" stroke-linejoin="round"/>
<line x1="35.80" y1="385.20" x2="35.80" y2="399.00" stroke="#6ca844" stroke-width="0.9" />
<line x1="34.00" y1="385.20" x2="37.60" y2="385.20" stroke="#6ca844" stroke-width="0.9" />
<line x1="34.00" y1="399.00" x2="37.60" y2="399.00" stroke="#6ca844" stroke-width="0.9" />
<line x1="72.30" y1="396.30" x2="72.30" y2="401.00" stroke="#6ca844" stroke-width="0.9" />
<line x1="70.50" y1="396.30" x2="74.10" y2="396.30" stroke="#6ca844" stroke-width="0.9" />
<line x1="70.50" y1="401.00" x2="74.10" y2="401.00" stroke="#6ca844" stroke-width="0.9" />
<line x1="126.20" y1="394.90" x2="126.20" y2="399.30" stroke="#6ca844" stroke-width="0.9" />
<line x1="124.40" y1="394.90" x2="128.00" y2="394.90" stroke="#6ca844" stroke-width="0.9" />
<line x1="124.40" y1="399.30" x2="128.00" y2="399.30" stroke="#6ca844" stroke-width="0.9" />
<circle cx="35.80" cy="392.50" r="2.2" fill="#6ca844" />
<circle cx="54.00" cy="397.00" r="2.2" fill="#6ca844" />
<circle cx="72.30" cy="398.70" r="2.2" fill="#6ca844" />
<circle cx="108.20" cy="398.90" r="2.2" fill="#6ca844" />
<circle cx="126.20" cy="397.10" r="2.2" fill="#6ca844" />
<circle cx="153.50" cy="403.90" r="2.2" fill="#6ca844" />
<path d="M35.80,399.40 L54.00,393.00 L72.30,389.50 L108.20,372.90 L126.20,366.90 L153.50,394.40" fill="none" stroke="#2d4b7a" stroke-width="1.0" stroke-linejoin="round"/>
<line x1="35.80" y1="396.50" x2="35.80" y2="402.00" stroke="#2d4b7a" stroke-width="0.9" />
<line x1="34.00" y1="396.50" x2="37.60" y2="396.50" stroke="#2d4b7a" stroke-width="0.9" />
<line x1="34.00" y1="402.00" x2="37.60" y2="402.00" stroke="#2d4b7a" stroke-width="0.9" />
<line x1="72.30" y1="386.60" x2="72.30" y2="392.40" stroke="#2d4b7a" stroke-width="0.9" />
<line x1="70.50" y1="386.60" x2="74.10" y2="386.60" stroke="#2d4b7a" stroke-width="0.9" />
<line x1="70.50" y1="392.40" x2="74.10" y2="392.40" stroke="#2d4b7a" stroke-width="0.9" />
<line x1="108.20" y1="361.50" x2="108.20" y2="385.00" stroke="#2d4b7a" stroke-width="0.9" />
<line x1="106.40" y1="361.50" x2="110.00" y2="361.50" stroke="#2d4b7a" stroke-width="0.9" />
<line x1="106.40" y1="385.00" x2="110.00" y2="385.00" stroke="#2d4b7a" stroke-width="0.9" />
<line x1="126.20" y1="347.30" x2="126.20" y2="387.10" stroke="#2d4b7a" stroke-width="0.9" />
<line x1="124.40" y1="347.30" x2="128.00" y2="347.30" stroke="#2d4b7a" stroke-width="0.9" />
<line x1="124.40" y1="387.10" x2="128.00" y2="387.10" stroke="#2d4b7a" stroke-width="0.9" />
<line x1="153.50" y1="389.70" x2="153.50" y2="398.30" stroke="#2d4b7a" stroke-width="0.9" />
<line x1="151.70" y1="389.70" x2="155.30" y2="389.70" stroke="#2d4b7a" stroke-width="0.9" />
<line x1="151.70" y1="398.30" x2="155.30" y2="398.30" stroke="#2d4b7a" stroke-width="0.9" />
<circle cx="35.80" cy="399.40" r="2.2" fill="#2d4b7a" />
<circle cx="54.00" cy="393.00" r="2.2" fill="#2d4b7a" />
<circle cx="72.30" cy="389.50" r="2.2" fill="#2d4b7a" />
<circle cx="108.20" cy="372.90" r="2.2" fill="#2d4b7a" />
<circle cx="126.20" cy="366.90" r="2.2" fill="#2d4b7a" />
<circle cx="153.50" cy="394.40" r="2.2" fill="#2d4b7a" />
<circle cx="108.20" cy="357.30" r="0.75" fill="#2d4b7a" />
<circle cx="126.20" cy="343.00" r="0.75" fill="#2d4b7a" />
<text x="182.80" y="328.20" font-size="11.8" fill="#000" stroke="#000" stroke-width="0.35" font-weight="bold" >G</text>
<rect x="218.30" y="419.00" width="13.40" height="4.00" fill="#c3c1c6" />
<line x1="217.00" y1="336.30" x2="217.00" y2="412.20" stroke="#222" stroke-width="1.3" />
<line x1="214.40" y1="412.20" x2="219.60" y2="412.20" stroke="#222" stroke-width="1.1" />
<line x1="217.00" y1="418.40" x2="217.00" y2="423.40" stroke="#222" stroke-width="1.3" />
<line x1="214.40" y1="418.40" x2="219.60" y2="418.40" stroke="#222" stroke-width="1.1" />
<line x1="215.00" y1="423.40" x2="341.00" y2="423.40" stroke="#222" stroke-width="1.3" />
<line x1="214.80" y1="339.10" x2="217.00" y2="339.10" stroke="#222" stroke-width="0.9" />
<text x="211.30" y="341.45" font-size="6.5" fill="#333" stroke="#333" stroke-width="0.12" text-anchor="end" >35</text>
<line x1="214.80" y1="353.60" x2="217.00" y2="353.60" stroke="#222" stroke-width="0.9" />
<text x="211.30" y="355.95" font-size="6.5" fill="#333" stroke="#333" stroke-width="0.12" text-anchor="end" >30</text>
<line x1="214.80" y1="368.30" x2="217.00" y2="368.30" stroke="#222" stroke-width="0.9" />
<text x="211.30" y="370.65" font-size="6.5" fill="#333" stroke="#333" stroke-width="0.12" text-anchor="end" >25</text>
<line x1="214.80" y1="382.70" x2="217.00" y2="382.70" stroke="#222" stroke-width="0.9" />
<text x="211.30" y="385.05" font-size="6.5" fill="#333" stroke="#333" stroke-width="0.12" text-anchor="end" >20</text>
<line x1="214.80" y1="397.50" x2="217.00" y2="397.50" stroke="#222" stroke-width="0.9" />
<text x="211.30" y="399.85" font-size="6.5" fill="#333" stroke="#333" stroke-width="0.12" text-anchor="end" >15</text>
<line x1="214.80" y1="412.20" x2="217.00" y2="412.20" stroke="#222" stroke-width="0.9" />
<text x="211.30" y="414.55" font-size="6.5" fill="#333" stroke="#333" stroke-width="0.12" text-anchor="end" >10</text>
<line x1="214.80" y1="423.40" x2="217.00" y2="423.40" stroke="#222" stroke-width="0.9" />
<text x="211.30" y="425.75" font-size="6.5" fill="#333" stroke="#333" stroke-width="0.12" text-anchor="end" >0</text>
<line x1="217.00" y1="423.40" x2="217.00" y2="425.40" stroke="#222" stroke-width="0.9" />
<text x="217.00" y="435.90" font-size="6.5" fill="#333" stroke="#333" stroke-width="0.12" text-anchor="middle" >0</text>
<line x1="234.68" y1="423.40" x2="234.68" y2="425.40" stroke="#222" stroke-width="0.9" />
<text x="234.68" y="435.90" font-size="6.5" fill="#333" stroke="#333" stroke-width="0.12" text-anchor="middle" >4</text>
<line x1="252.36" y1="423.40" x2="252.36" y2="425.40" stroke="#222" stroke-width="0.9" />
<text x="252.36" y="435.90" font-size="6.5" fill="#333" stroke="#333" stroke-width="0.12" text-anchor="middle" >8</text>
<line x1="270.04" y1="423.40" x2="270.04" y2="425.40" stroke="#222" stroke-width="0.9" />
<text x="270.04" y="435.90" font-size="6.5" fill="#333" stroke="#333" stroke-width="0.12" text-anchor="middle" >12</text>
<line x1="287.72" y1="423.40" x2="287.72" y2="425.40" stroke="#222" stroke-width="0.9" />
<text x="287.72" y="435.90" font-size="6.5" fill="#333" stroke="#333" stroke-width="0.12" text-anchor="middle" >16</text>
<line x1="305.40" y1="423.40" x2="305.40" y2="425.40" stroke="#222" stroke-width="0.9" />
<text x="305.40" y="435.90" font-size="6.5" fill="#333" stroke="#333" stroke-width="0.12" text-anchor="middle" >20</text>
<line x1="323.08" y1="423.40" x2="323.08" y2="425.40" stroke="#222" stroke-width="0.9" />
<text x="323.08" y="435.90" font-size="6.5" fill="#333" stroke="#333" stroke-width="0.12" text-anchor="middle" >24</text>
<line x1="340.76" y1="423.40" x2="340.76" y2="425.40" stroke="#222" stroke-width="0.9" />
<text x="340.76" y="435.90" font-size="6.5" fill="#333" stroke="#333" stroke-width="0.12" text-anchor="middle" >28</text>
<text x="198.80" y="379.50" font-size="8.0" fill="#333" stroke="#333" stroke-width="0.12" text-anchor="middle" textLength="79" lengthAdjust="spacingAndGlyphs" transform="rotate(-90 198.80 379.50)" >Granulocyte frequency (%)</text>
<line x1="224.80" y1="431.30" x2="224.80" y2="438.00" stroke="#111" stroke-width="0.9" />
<path d="M222.70,432.90 L224.80,428.30 L226.90,432.90 L224.80,431.70 Z" fill="#111"/>
<text x="224.80" y="447.40" font-size="6.6" fill="#333" stroke="#333" stroke-width="0.12" text-anchor="middle" textLength="14.0" lengthAdjust="spacingAndGlyphs" >pIpC</text>
<text x="279.00" y="446.50" font-size="8.0" fill="#333" stroke="#333" stroke-width="0.12" text-anchor="middle" textLength="38.7" lengthAdjust="spacingAndGlyphs" >Time (weeks)</text>
<path d="M234.70,378.70 L251.80,384.20 L286.20,391.40 L303.70,389.70 L329.30,391.80" fill="none" stroke="#6ca844" stroke-width="1.0" stroke-linejoin="round"/>
<line x1="234.70" y1="375.80" x2="234.70" y2="381.60" stroke="#6ca844" stroke-width="0.9" />
<line x1="232.90" y1="375.80" x2="236.50" y2="375.80" stroke="#6ca844" stroke-width="0.9" />
<line x1="232.90" y1="381.60" x2="236.50" y2="381.60" stroke="#6ca844" stroke-width="0.9" />
<line x1="251.80" y1="380.00" x2="251.80" y2="388.70" stroke="#6ca844" stroke-width="0.9" />
<line x1="250.00" y1="380.00" x2="253.60" y2="380.00" stroke="#6ca844" stroke-width="0.9" />
<line x1="250.00" y1="388.70" x2="253.60" y2="388.70" stroke="#6ca844" stroke-width="0.9" />
<line x1="286.20" y1="388.50" x2="286.20" y2="394.50" stroke="#6ca844" stroke-width="0.9" />
<line x1="284.40" y1="388.50" x2="288.00" y2="388.50" stroke="#6ca844" stroke-width="0.9" />
<line x1="284.40" y1="394.50" x2="288.00" y2="394.50" stroke="#6ca844" stroke-width="0.9" />
<line x1="303.70" y1="385.00" x2="303.70" y2="394.50" stroke="#6ca844" stroke-width="0.9" />
<line x1="301.90" y1="385.00" x2="305.50" y2="385.00" stroke="#6ca844" stroke-width="0.9" />
<line x1="301.90" y1="394.50" x2="305.50" y2="394.50" stroke="#6ca844" stroke-width="0.9" />
<line x1="329.30" y1="389.00" x2="329.30" y2="395.00" stroke="#6ca844" stroke-width="0.9" />
<line x1="327.50" y1="389.00" x2="331.10" y2="389.00" stroke="#6ca844" stroke-width="0.9" />
<line x1="327.50" y1="395.00" x2="331.10" y2="395.00" stroke="#6ca844" stroke-width="0.9" />
<circle cx="234.70" cy="378.70" r="2.2" fill="#6ca844" />
<circle cx="251.80" cy="384.20" r="2.2" fill="#6ca844" />
<circle cx="286.20" cy="391.40" r="2.2" fill="#6ca844" />
<circle cx="303.70" cy="389.70" r="2.2" fill="#6ca844" />
<circle cx="329.30" cy="391.80" r="2.2" fill="#6ca844" />
<path d="M234.70,368.30 L251.80,362.10 L286.20,367.70 L303.70,375.50 L329.30,377.20" fill="none" stroke="#a20826" stroke-width="1.0" stroke-linejoin="round"/>
<line x1="234.70" y1="364.00" x2="234.70" y2="372.50" stroke="#a20826" stroke-width="0.9" />
<line x1="232.90" y1="364.00" x2="236.50" y2="364.00" stroke="#a20826" stroke-width="0.9" />
<line x1="232.90" y1="372.50" x2="236.50" y2="372.50" stroke="#a20826" stroke-width="0.9" />
<line x1="251.80" y1="358.00" x2="251.80" y2="366.00" stroke="#a20826" stroke-width="0.9" />
<line x1="250.00" y1="358.00" x2="253.60" y2="358.00" stroke="#a20826" stroke-width="0.9" />
<line x1="250.00" y1="366.00" x2="253.60" y2="366.00" stroke="#a20826" stroke-width="0.9" />
<line x1="286.20" y1="365.50" x2="286.20" y2="370.50" stroke="#a20826" stroke-width="0.9" />
<line x1="284.40" y1="365.50" x2="288.00" y2="365.50" stroke="#a20826" stroke-width="0.9" />
<line x1="284.40" y1="370.50" x2="288.00" y2="370.50" stroke="#a20826" stroke-width="0.9" />
<line x1="303.70" y1="370.00" x2="303.70" y2="381.00" stroke="#a20826" stroke-width="0.9" />
<line x1="301.90" y1="370.00" x2="305.50" y2="370.00" stroke="#a20826" stroke-width="0.9" />
<line x1="301.90" y1="381.00" x2="305.50" y2="381.00" stroke="#a20826" stroke-width="0.9" />
<line x1="329.30" y1="370.00" x2="329.30" y2="385.00" stroke="#a20826" stroke-width="0.9" />
<line x1="327.50" y1="370.00" x2="331.10" y2="370.00" stroke="#a20826" stroke-width="0.9" />
<line x1="327.50" y1="385.00" x2="331.10" y2="385.00" stroke="#a20826" stroke-width="0.9" />
<circle cx="234.70" cy="368.30" r="2.2" fill="#a20826" />
<circle cx="251.80" cy="362.10" r="2.2" fill="#a20826" />
<circle cx="286.20" cy="367.70" r="2.2" fill="#a20826" />
<circle cx="303.70" cy="375.50" r="2.2" fill="#a20826" />
<circle cx="329.30" cy="377.20" r="2.2" fill="#a20826" />
<path d="M234.70,371.40 L251.80,369.90 L286.20,368.90 L303.70,362.00 L329.30,367.20" fill="none" stroke="#2d4b7a" stroke-width="1.0" stroke-linejoin="round"/>
<line x1="234.70" y1="369.00" x2="234.70" y2="374.00" stroke="#2d4b7a" stroke-width="0.9" />
<line x1="232.90" y1="369.00" x2="236.50" y2="369.00" stroke="#2d4b7a" stroke-width="0.9" />
<line x1="232.90" y1="374.00" x2="236.50" y2="374.00" stroke="#2d4b7a" stroke-width="0.9" />
<line x1="251.80" y1="368.00" x2="251.80" y2="372.00" stroke="#2d4b7a" stroke-width="0.9" />
<line x1="250.00" y1="368.00" x2="253.60" y2="368.00" stroke="#2d4b7a" stroke-width="0.9" />
<line x1="250.00" y1="372.00" x2="253.60" y2="372.00" stroke="#2d4b7a" stroke-width="0.9" />
<line x1="286.20" y1="362.50" x2="286.20" y2="375.00" stroke="#2d4b7a" stroke-width="0.9" />
<line x1="284.40" y1="362.50" x2="288.00" y2="362.50" stroke="#2d4b7a" stroke-width="0.9" />
<line x1="284.40" y1="375.00" x2="288.00" y2="375.00" stroke="#2d4b7a" stroke-width="0.9" />
<line x1="303.70" y1="351.60" x2="303.70" y2="372.00" stroke="#2d4b7a" stroke-width="0.9" />
<line x1="301.90" y1="351.60" x2="305.50" y2="351.60" stroke="#2d4b7a" stroke-width="0.9" />
<line x1="301.90" y1="372.00" x2="305.50" y2="372.00" stroke="#2d4b7a" stroke-width="0.9" />
<line x1="329.30" y1="361.50" x2="329.30" y2="373.30" stroke="#2d4b7a" stroke-width="0.9" />
<line x1="327.50" y1="361.50" x2="331.10" y2="361.50" stroke="#2d4b7a" stroke-width="0.9" />
<line x1="327.50" y1="373.30" x2="331.10" y2="373.30" stroke="#2d4b7a" stroke-width="0.9" />
<circle cx="234.70" cy="371.40" r="2.2" fill="#2d4b7a" />
<circle cx="251.80" cy="369.90" r="2.2" fill="#2d4b7a" />
<circle cx="286.20" cy="368.90" r="2.2" fill="#2d4b7a" />
<circle cx="303.70" cy="362.00" r="2.2" fill="#2d4b7a" />
<circle cx="329.30" cy="367.20" r="2.2" fill="#2d4b7a" />
<circle cx="251.80" cy="353.90" r="0.75" fill="#a20826" />
<circle cx="286.20" cy="352.50" r="0.75" fill="#2d4b7a" />
<circle cx="286.20" cy="358.50" r="0.75" fill="#a20826" />
<circle cx="302.65" cy="341.80" r="0.75" fill="#2d4b7a" />
<circle cx="304.75" cy="341.80" r="0.75" fill="#2d4b7a" />
<circle cx="303.70" cy="347.30" r="0.75" fill="#a20826" />
<circle cx="327.20" cy="357.70" r="0.75" fill="#2d4b7a" />
<circle cx="329.30" cy="357.70" r="0.75" fill="#2d4b7a" />
<circle cx="331.40" cy="357.70" r="0.75" fill="#2d4b7a" />
<text x="358.00" y="328.20" font-size="11.8" fill="#000" stroke="#000" stroke-width="0.35" font-weight="bold" >H</text>
<rect x="389.60" y="419.10" width="12.80" height="3.80" fill="#c3c1c6" />
<line x1="387.70" y1="332.50" x2="387.70" y2="411.70" stroke="#222" stroke-width="1.3" />
<line x1="385.10" y1="411.70" x2="390.30" y2="411.70" stroke="#222" stroke-width="1.1" />
<line x1="387.70" y1="418.40" x2="387.70" y2="423.50" stroke="#222" stroke-width="1.3" />
<line x1="385.10" y1="418.40" x2="390.30" y2="418.40" stroke="#222" stroke-width="1.1" />
<line x1="385.70" y1="423.50" x2="512.90" y2="423.50" stroke="#222" stroke-width="1.3" />
<line x1="385.50" y1="335.60" x2="387.70" y2="335.60" stroke="#222" stroke-width="0.9" />
<text x="382.00" y="337.95" font-size="6.5" fill="#333" stroke="#333" stroke-width="0.12" text-anchor="end" >6.5</text>
<line x1="385.50" y1="354.50" x2="387.70" y2="354.50" stroke="#222" stroke-width="0.9" />
<text x="382.00" y="356.85" font-size="6.5" fill="#333" stroke="#333" stroke-width="0.12" text-anchor="end" >6.0</text>
<line x1="385.50" y1="373.50" x2="387.70" y2="373.50" stroke="#222" stroke-width="0.9" />
<text x="382.00" y="375.85" font-size="6.5" fill="#333" stroke="#333" stroke-width="0.12" text-anchor="end" >5.5</text>
<line x1="385.50" y1="392.50" x2="387.70" y2="392.50" stroke="#222" stroke-width="0.9" />
<text x="382.00" y="394.85" font-size="6.5" fill="#333" stroke="#333" stroke-width="0.12" text-anchor="end" >5.0</text>
<line x1="385.50" y1="411.70" x2="387.70" y2="411.70" stroke="#222" stroke-width="0.9" />
<text x="382.00" y="414.05" font-size="6.5" fill="#333" stroke="#333" stroke-width="0.12" text-anchor="end" >4.5</text>
<line x1="385.50" y1="423.50" x2="387.70" y2="423.50" stroke="#222" stroke-width="0.9" />
<text x="382.00" y="425.85" font-size="6.5" fill="#333" stroke="#333" stroke-width="0.12" text-anchor="end" >0</text>
<line x1="388.00" y1="423.50" x2="388.00" y2="425.50" stroke="#222" stroke-width="0.9" />
<text x="388.00" y="436.10" font-size="6.5" fill="#333" stroke="#333" stroke-width="0.12" text-anchor="middle" >0</text>
<line x1="405.32" y1="423.50" x2="405.32" y2="425.50" stroke="#222" stroke-width="0.9" />
<text x="405.32" y="436.10" font-size="6.5" fill="#333" stroke="#333" stroke-width="0.12" text-anchor="middle" >4</text>
<line x1="422.64" y1="423.50" x2="422.64" y2="425.50" stroke="#222" stroke-width="0.9" />
<text x="422.64" y="436.10" font-size="6.5" fill="#333" stroke="#333" stroke-width="0.12" text-anchor="middle" >8</text>
<line x1="439.96" y1="423.50" x2="439.96" y2="425.50" stroke="#222" stroke-width="0.9" />
<text x="439.96" y="436.10" font-size="6.5" fill="#333" stroke="#333" stroke-width="0.12" text-anchor="middle" >12</text>
<line x1="457.28" y1="423.50" x2="457.28" y2="425.50" stroke="#222" stroke-width="0.9" />
<text x="457.28" y="436.10" font-size="6.5" fill="#333" stroke="#333" stroke-width="0.12" text-anchor="middle" >16</text>
<line x1="474.60" y1="423.50" x2="474.60" y2="425.50" stroke="#222" stroke-width="0.9" />
<text x="474.60" y="436.10" font-size="6.5" fill="#333" stroke="#333" stroke-width="0.12" text-anchor="middle" >20</text>
<line x1="491.92" y1="423.50" x2="491.92" y2="425.50" stroke="#222" stroke-width="0.9" />
<text x="491.92" y="436.10" font-size="6.5" fill="#333" stroke="#333" stroke-width="0.12" text-anchor="middle" >24</text>
<line x1="509.24" y1="423.50" x2="509.24" y2="425.50" stroke="#222" stroke-width="0.9" />
<text x="509.24" y="436.10" font-size="6.5" fill="#333" stroke="#333" stroke-width="0.12" text-anchor="middle" >28</text>
<text x="367.40" y="378.20" font-size="8.0" fill="#333" stroke="#333" stroke-width="0.12" text-anchor="middle" textLength="84.5" lengthAdjust="spacingAndGlyphs" transform="rotate(-90 367.40 378.20)" >Mean platelet volume (um<tspan font-size="4.3" dy="-2.6">3</tspan><tspan dy="2.6">)</tspan></text>
<line x1="394.70" y1="431.40" x2="394.70" y2="438.00" stroke="#111" stroke-width="0.9" />
<path d="M392.60,433.00 L394.70,428.40 L396.80,433.00 L394.70,431.80 Z" fill="#111"/>
<text x="394.80" y="447.00" font-size="6.6" fill="#333" stroke="#333" stroke-width="0.12" text-anchor="middle" textLength="14.0" lengthAdjust="spacingAndGlyphs" >pIpC</text>
<text x="450.70" y="446.50" font-size="8.0" fill="#333" stroke="#333" stroke-width="0.12" text-anchor="middle" textLength="38.7" lengthAdjust="spacingAndGlyphs" >Time (weeks)</text>
<path d="M387.90,394.40 L405.00,379.70 L422.20,380.40 L455.80,380.70 L473.10,380.20 L498.40,381.40" fill="none" stroke="#6ca844" stroke-width="1.0" stroke-linejoin="round"/>
<line x1="387.90" y1="391.00" x2="387.90" y2="397.50" stroke="#6ca844" stroke-width="0.9" />
<line x1="386.10" y1="391.00" x2="389.70" y2="391.00" stroke="#6ca844" stroke-width="0.9" />
<line x1="386.10" y1="397.50" x2="389.70" y2="397.50" stroke="#6ca844" stroke-width="0.9" />
<line x1="405.00" y1="376.50" x2="405.00" y2="383.00" stroke="#6ca844" stroke-width="0.9" />
<line x1="403.20" y1="376.50" x2="406.80" y2="376.50" stroke="#6ca844" stroke-width="0.9" />
<line x1="403.20" y1="383.00" x2="406.80" y2="383.00" stroke="#6ca844" stroke-width="0.9" />
<line x1="473.10" y1="377.50" x2="473.10" y2="383.00" stroke="#6ca844" stroke-width="0.9" />
<line x1="471.30" y1="377.50" x2="474.90" y2="377.50" stroke="#6ca844" stroke-width="0.9" />
<line x1="471.30" y1="383.00" x2="474.90" y2="383.00" stroke="#6ca844" stroke-width="0.9" />
<line x1="498.40" y1="379.00" x2="498.40" y2="384.00" stroke="#6ca844" stroke-width="0.9" />
<line x1="496.60" y1="379.00" x2="500.20" y2="379.00" stroke="#6ca844" stroke-width="0.9" />
<line x1="496.60" y1="384.00" x2="500.20" y2="384.00" stroke="#6ca844" stroke-width="0.9" />
<circle cx="387.90" cy="394.40" r="2.2" fill="#6ca844" />
<circle cx="405.00" cy="379.70" r="2.2" fill="#6ca844" />
<circle cx="422.20" cy="380.40" r="2.2" fill="#6ca844" />
<circle cx="455.80" cy="380.70" r="2.2" fill="#6ca844" />
<circle cx="473.10" cy="380.20" r="2.2" fill="#6ca844" />
<circle cx="498.40" cy="381.40" r="2.2" fill="#6ca844" />
<path d="M387.90,389.20 L405.00,385.60 L422.20,383.30 L455.80,372.70 L473.10,370.10 L498.40,381.40" fill="none" stroke="#2d4b7a" stroke-width="1.0" stroke-linejoin="round"/>
<line x1="387.90" y1="383.00" x2="387.90" y2="392.00" stroke="#2d4b7a" stroke-width="0.9" />
<line x1="386.10" y1="383.00" x2="389.70" y2="383.00" stroke="#2d4b7a" stroke-width="0.9" />
<line x1="386.10" y1="392.00" x2="389.70" y2="392.00" stroke="#2d4b7a" stroke-width="0.9" />
<line x1="405.00" y1="383.50" x2="405.00" y2="387.50" stroke="#2d4b7a" stroke-width="0.9" />
<line x1="403.20" y1="383.50" x2="406.80" y2="383.50" stroke="#2d4b7a" stroke-width="0.9" />
<line x1="403.20" y1="387.50" x2="406.80" y2="387.50" stroke="#2d4b7a" stroke-width="0.9" />
<line x1="422.20" y1="380.00" x2="422.20" y2="386.70" stroke="#2d4b7a" stroke-width="0.9" />
<line x1="420.40" y1="380.00" x2="424.00" y2="380.00" stroke="#2d4b7a" stroke-width="0.9" />
<line x1="420.40" y1="386.70" x2="424.00" y2="386.70" stroke="#2d4b7a" stroke-width="0.9" />
<line x1="455.80" y1="368.90" x2="455.80" y2="376.70" stroke="#2d4b7a" stroke-width="0.9" />
<line x1="454.00" y1="368.90" x2="457.60" y2="368.90" stroke="#2d4b7a" stroke-width="0.9" />
<line x1="454.00" y1="376.70" x2="457.60" y2="376.70" stroke="#2d4b7a" stroke-width="0.9" />
<line x1="473.10" y1="360.80" x2="473.10" y2="379.00" stroke="#2d4b7a" stroke-width="0.9" />
<line x1="471.30" y1="360.80" x2="474.90" y2="360.80" stroke="#2d4b7a" stroke-width="0.9" />
<line x1="471.30" y1="379.00" x2="474.90" y2="379.00" stroke="#2d4b7a" stroke-width="0.9" />
<line x1="498.40" y1="378.40" x2="498.40" y2="384.40" stroke="#2d4b7a" stroke-width="0.9" />
<line x1="496.60" y1="378.40" x2="500.20" y2="378.40" stroke="#2d4b7a" stroke-width="0.9" />
<line x1="496.60" y1="384.40" x2="500.20" y2="384.40" stroke="#2d4b7a" stroke-width="0.9" />
<circle cx="387.90" cy="389.20" r="2.2" fill="#2d4b7a" />
<circle cx="405.00" cy="385.60" r="2.2" fill="#2d4b7a" />
<circle cx="422.20" cy="383.30" r="2.2" fill="#2d4b7a" />
<circle cx="455.80" cy="372.70" r="2.2" fill="#2d4b7a" />
<circle cx="473.10" cy="370.10" r="2.2" fill="#2d4b7a" />
<circle cx="498.40" cy="381.40" r="2.2" fill="#2d4b7a" />
<path d="M387.90,387.90 L405.00,346.30 L422.20,351.80 L455.80,359.80 L473.10,363.70 L498.40,358.20" fill="none" stroke="#a20826" stroke-width="1.0" stroke-linejoin="round"/>
<line x1="405.00" y1="339.40" x2="405.00" y2="352.90" stroke="#a20826" stroke-width="0.9" />
<line x1="403.20" y1="339.40" x2="406.80" y2="339.40" stroke="#a20826" stroke-width="0.9" />
<line x1="403.20" y1="352.90" x2="406.80" y2="352.90" stroke="#a20826" stroke-width="0.9" />
<line x1="422.20" y1="344.30" x2="422.20" y2="359.80" stroke="#a20826" stroke-width="0.9" />
<line x1="420.40" y1="344.30" x2="424.00" y2="344.30" stroke="#a20826" stroke-width="0.9" />
<line x1="420.40" y1="359.80" x2="424.00" y2="359.80" stroke="#a20826" stroke-width="0.9" />
<line x1="455.80" y1="357.30" x2="455.80" y2="362.50" stroke="#a20826" stroke-width="0.9" />
<line x1="454.00" y1="357.30" x2="457.60" y2="357.30" stroke="#a20826" stroke-width="0.9" />
<line x1="454.00" y1="362.50" x2="457.60" y2="362.50" stroke="#a20826" stroke-width="0.9" />
<line x1="473.10" y1="361.00" x2="473.10" y2="366.50" stroke="#a20826" stroke-width="0.9" />
<line x1="471.30" y1="361.00" x2="474.90" y2="361.00" stroke="#a20826" stroke-width="0.9" />
<line x1="471.30" y1="366.50" x2="474.90" y2="366.50" stroke="#a20826" stroke-width="0.9" />
<line x1="498.40" y1="354.20" x2="498.40" y2="362.50" stroke="#a20826" stroke-width="0.9" />
<line x1="496.60" y1="354.20" x2="500.20" y2="354.20" stroke="#a20826" stroke-width="0.9" />
<line x1="496.60" y1="362.50" x2="500.20" y2="362.50" stroke="#a20826" stroke-width="0.9" />
<circle cx="387.90" cy="387.90" r="2.2" fill="#a20826" />
<circle cx="405.00" cy="346.30" r="2.2" fill="#a20826" />
<circle cx="422.20" cy="351.80" r="2.2" fill="#a20826" />
<circle cx="455.80" cy="359.80" r="2.2" fill="#a20826" />
<circle cx="473.10" cy="363.70" r="2.2" fill="#a20826" />
<circle cx="498.40" cy="358.20" r="2.2" fill="#a20826" />
<circle cx="402.90" cy="335.60" r="0.75" fill="#a20826" />
<circle cx="405.00" cy="335.60" r="0.75" fill="#a20826" />
<circle cx="407.10" cy="335.60" r="0.75" fill="#a20826" />
<circle cx="420.10" cy="340.30" r="0.75" fill="#a20826" />
<circle cx="422.20" cy="340.30" r="0.75" fill="#a20826" />
<circle cx="424.30" cy="340.30" r="0.75" fill="#a20826" />
<circle cx="453.70" cy="353.00" r="0.75" fill="#a20826" />
<circle cx="455.80" cy="353.00" r="0.75" fill="#a20826" />
<circle cx="457.90" cy="353.00" r="0.75" fill="#a20826" />
<circle cx="472.05" cy="356.30" r="0.75" fill="#a20826" />
<circle cx="474.15" cy="356.30" r="0.75" fill="#a20826" />
<circle cx="497.35" cy="349.90" r="0.75" fill="#a20826" />
<circle cx="499.45" cy="349.90" r="0.75" fill="#a20826" />
<text x="10.00" y="474.60" font-size="11.8" fill="#000" stroke="#000" stroke-width="0.35" font-weight="bold" >I</text>
<text x="38.7" y="488.8" font-size="6.4" fill="#6ca844" textLength="39" lengthAdjust="spacingAndGlyphs" stroke="#6ca844" stroke-width="0.12">Stk4<tspan font-size="3.8" dy="-2.7">+/+</tspan><tspan dy="2.7">Stk3</tspan><tspan font-size="3.8" dy="-2.7">+/+</tspan></text>
<text x="138.8" y="488.9" font-size="6.4" fill="#a20826" textLength="39.2" lengthAdjust="spacingAndGlyphs" stroke="#a20826" stroke-width="0.12">Stk4<tspan font-size="3.8" dy="-2.7">Δ/Δ</tspan><tspan dy="2.7">Stk3</tspan><tspan font-size="3.8" dy="-2.7">Δ/Δ</tspan></text>
<defs>
<radialGradient id="rbc" cx="0.5" cy="0.5" r="0.5"><stop offset="0" stop-color="#b4a4c5"/><stop offset="0.7" stop-color="#b09ec3"/><stop offset="0.9" stop-color="#a790bf"/><stop offset="1" stop-color="#ab98c2"/></radialGradient>
<radialGradient id="rbc2" cx="0.5" cy="0.5" r="0.5"><stop offset="0" stop-color="#b49cc4"/><stop offset="0.7" stop-color="#b098c3"/><stop offset="1" stop-color="#a68cbe"/></radialGradient>
<filter id="blurS" x="-5%" y="-5%" width="110%" height="110%"><feGaussianBlur stdDeviation="0.35"/></filter>
<clipPath id="clipI1"><rect x="9.9" y="491.4" width="96.6" height="79.8"/></clipPath>
<clipPath id="clipI2"><rect x="109.7" y="491.5" width="97.0" height="79.7"/></clipPath>
</defs>
<g clip-path="url(#clipI1)">
<rect x="9.90" y="491.40" width="96.60" height="79.80" fill="#b6b3ca" />
<g filter="url(#blurS)">
<circle cx="32.00" cy="500.50" r="5.8" fill="url(#rbc)" stroke="#a68cbe" stroke-width="0.6" stroke-opacity="0.6"/>
<circle cx="28.20" cy="514.00" r="6.7" fill="url(#rbc)" stroke="#a68cbe" stroke-width="0.6" stroke-opacity="0.6"/>
<circle cx="43.20" cy="512.00" r="5.4" fill="url(#rbc)" stroke="#a68cbe" stroke-width="0.6" stroke-opacity="0.6"/>
<circle cx="59.00" cy="508.20" r="5.8" fill="url(#rbc)" stroke="#a68cbe" stroke-width="0.6" stroke-opacity="0.6"/>
<circle cx="14.70" cy="518.80" r="5.8" fill="url(#rbc)" stroke="#a68cbe" stroke-width="0.6" stroke-opacity="0.6"/>
<circle cx="60.90" cy="522.60" r="6.3" fill="url(#rbc)" stroke="#a68cbe" stroke-width="0.6" stroke-opacity="0.6"/>
<circle cx="73.40" cy="519.70" r="5.4" fill="url(#rbc)" stroke="#a68cbe" stroke-width="0.6" stroke-opacity="0.6"/>
<circle cx="84.00" cy="520.70" r="5.4" fill="url(#rbc)" stroke="#a68cbe" stroke-width="0.6" stroke-opacity="0.6"/>
<circle cx="100.30" cy="515.90" r="5.8" fill="url(#rbc)" stroke="#a68cbe" stroke-width="0.6" stroke-opacity="0.6"/>
<circle cx="26.30" cy="528.40" r="5.8" fill="url(#rbc)" stroke="#a68cbe" stroke-width="0.6" stroke-opacity="0.6"/>
<circle cx="44.50" cy="532.20" r="5.8" fill="url(#rbc)" stroke="#a68cbe" stroke-width="0.6" stroke-opacity="0.6"/>
<circle cx="59.00" cy="537.00" r="6.2" fill="url(#rbc)" stroke="#a68cbe" stroke-width="0.6" stroke-opacity="0.6"/>
<circle cx="76.30" cy="535.10" r="6.3" fill="url(#rbc)" stroke="#a68cbe" stroke-width="0.6" stroke-opacity="0.6"/>
<circle cx="13.80" cy="534.20" r="5.8" fill="url(#rbc)" stroke="#a68cbe" stroke-width="0.6" stroke-opacity="0.6"/>
<circle cx="31.00" cy="540.00" r="6.3" fill="url(#rbc)" stroke="#a68cbe" stroke-width="0.6" stroke-opacity="0.6"/>
<circle cx="27.20" cy="552.40" r="5.8" fill="url(#rbc)" stroke="#a68cbe" stroke-width="0.6" stroke-opacity="0.6"/>
<circle cx="40.70" cy="553.40" r="6.3" fill="url(#rbc)" stroke="#a68cbe" stroke-width="0.6" stroke-opacity="0.6"/>
<circle cx="52.20" cy="545.70" r="5.8" fill="url(#rbc)" stroke="#a68cbe" stroke-width="0.6" stroke-opacity="0.6"/>
<circle cx="58.00" cy="558.20" r="5.8" fill="url(#rbc)" stroke="#a68cbe" stroke-width="0.6" stroke-opacity="0.6"/>
<circle cx="74.30" cy="559.20" r="6.7" fill="url(#rbc)" stroke="#a68cbe" stroke-width="0.6" stroke-opacity="0.6"/>
<circle cx="94.50" cy="551.50" r="5.8" fill="url(#rbc)" stroke="#a68cbe" stroke-width="0.6" stroke-opacity="0.6"/>
<circle cx="102.20" cy="543.80" r="5.5" fill="url(#rbc)" stroke="#a68cbe" stroke-width="0.6" stroke-opacity="0.6"/>
<circle cx="98.40" cy="561.00" r="5.8" fill="url(#rbc)" stroke="#a68cbe" stroke-width="0.6" stroke-opacity="0.6"/>
<circle cx="90.70" cy="495.70" r="5.6" fill="url(#rbc)" stroke="#a68cbe" stroke-width="0.6" stroke-opacity="0.6"/>
<circle cx="104.00" cy="492.80" r="5" fill="url(#rbc)" stroke="#a68cbe" stroke-width="0.6" stroke-opacity="0.6"/>
<circle cx="27.20" cy="491.80" r="5.5" fill="url(#rbc)" stroke="#a68cbe" stroke-width="0.6" stroke-opacity="0.6"/>
<circle cx="19.50" cy="568.80" r="5.5" fill="url(#rbc)" stroke="#a68cbe" stroke-width="0.6" stroke-opacity="0.6"/>
<circle cx="35.00" cy="568.80" r="5.5" fill="url(#rbc)" stroke="#a68cbe" stroke-width="0.6" stroke-opacity="0.6"/>
<circle cx="48.40" cy="566.00" r="5.5" fill="url(#rbc)" stroke="#a68cbe" stroke-width="0.6" stroke-opacity="0.6"/>
<circle cx="100.30" cy="532.20" r="5.5" fill="url(#rbc)" stroke="#a68cbe" stroke-width="0.6" stroke-opacity="0.6"/>
<circle cx="66.00" cy="568.00" r="5.5" fill="url(#rbc)" stroke="#a68cbe" stroke-width="0.6" stroke-opacity="0.6"/>
<circle cx="80.00" cy="566.00" r="5.2" fill="url(#rbc)" stroke="#a68cbe" stroke-width="0.6" stroke-opacity="0.6"/>
</g>
<circle cx="15.70" cy="548.60" r="6.7" fill="#a884c0" />
<circle cx="60.00" cy="498.00" r="1.2" fill="#7a3090" />
<circle cx="65.00" cy="499.00" r="1.0" fill="#7a3090" />
<circle cx="54.20" cy="544.70" r="1.3" fill="#7a3090" />
<circle cx="52.50" cy="546.50" r="0.9" fill="#7a3090" />
<circle cx="36.80" cy="552.40" r="0.9" fill="#7a3090" />
<circle cx="73.40" cy="555.30" r="1.0" fill="#7a3090" />
<circle cx="91.70" cy="560.00" r="0.8" fill="#7a3090" />
<circle cx="30.10" cy="564.00" r="1.0" fill="#7a3090" />
<circle cx="15.30" cy="512.00" r="0.9" fill="#7a3090" />
<circle cx="87.80" cy="520.70" r="0.6" fill="#7a3090" />
<circle cx="40.00" cy="567.00" r="0.6" fill="#7a3090" />
<circle cx="48.00" cy="503.00" r="0.5" fill="#7a3090" />
</g>
<g clip-path="url(#clipI2)">
<rect x="109.70" y="491.50" width="97.00" height="79.70" fill="#bdb8d0" />
<g filter="url(#blurS)">
<circle cx="119.50" cy="495.70" r="5.8" fill="url(#rbc2)" stroke="#a88ac0" stroke-width="0.8" stroke-dasharray="1.2 0.9" stroke-opacity="0.8"/>
<circle cx="134.00" cy="495.70" r="5.8" fill="url(#rbc2)" stroke="#a88ac0" stroke-width="0.8" stroke-dasharray="1.2 0.9" stroke-opacity="0.8"/>
<circle cx="160.00" cy="500.50" r="6.2" fill="url(#rbc2)" stroke="#a88ac0" stroke-width="0.8" stroke-dasharray="1.2 0.9" stroke-opacity="0.8"/>
<circle cx="178.20" cy="503.40" r="6" fill="url(#rbc2)" stroke="#a88ac0" stroke-width="0.8" stroke-dasharray="1.2 0.9" stroke-opacity="0.8"/>
<circle cx="198.40" cy="505.30" r="6.2" fill="url(#rbc2)" stroke="#a88ac0" stroke-width="0.8" stroke-dasharray="1.2 0.9" stroke-opacity="0.8"/>
<circle cx="112.80" cy="510.00" r="5.8" fill="url(#rbc2)" stroke="#a88ac0" stroke-width="0.8" stroke-dasharray="1.2 0.9" stroke-opacity="0.8"/>
<circle cx="122.40" cy="508.20" r="5.8" fill="url(#rbc2)" stroke="#a88ac0" stroke-width="0.8" stroke-dasharray="1.2 0.9" stroke-opacity="0.8"/>
<circle cx="132.00" cy="508.20" r="5.8" fill="url(#rbc2)" stroke="#a88ac0" stroke-width="0.8" stroke-dasharray="1.2 0.9" stroke-opacity="0.8"/>
<circle cx="145.50" cy="510.00" r="5.8" fill="url(#rbc2)" stroke="#a88ac0" stroke-width="0.8" stroke-dasharray="1.2 0.9" stroke-opacity="0.8"/>
<circle cx="153.20" cy="511.00" r="5.8" fill="url(#rbc2)" stroke="#a88ac0" stroke-width="0.8" stroke-dasharray="1.2 0.9" stroke-opacity="0.8"/>
<circle cx="168.60" cy="513.00" r="5.8" fill="url(#rbc2)" stroke="#a88ac0" stroke-width="0.8" stroke-dasharray="1.2 0.9" stroke-opacity="0.8"/>
<circle cx="186.80" cy="514.90" r="6" fill="url(#rbc2)" stroke="#a88ac0" stroke-width="0.8" stroke-dasharray="1.2 0.9" stroke-opacity="0.8"/>
<circle cx="134.90" cy="519.70" r="6" fill="url(#rbc2)" stroke="#a88ac0" stroke-width="0.8" stroke-dasharray="1.2 0.9" stroke-opacity="0.8"/>
<circle cx="180.10" cy="524.50" r="6" fill="url(#rbc2)" stroke="#a88ac0" stroke-width="0.8" stroke-dasharray="1.2 0.9" stroke-opacity="0.8"/>
<circle cx="194.50" cy="527.40" r="6" fill="url(#rbc2)" stroke="#a88ac0" stroke-width="0.8" stroke-dasharray="1.2 0.9" stroke-opacity="0.8"/>
<circle cx="116.70" cy="529.30" r="5.8" fill="url(#rbc2)" stroke="#a88ac0" stroke-width="0.8" stroke-dasharray="1.2 0.9" stroke-opacity="0.8"/>
<circle cx="128.20" cy="529.30" r="5.8" fill="url(#rbc2)" stroke="#a88ac0" stroke-width="0.8" stroke-dasharray="1.2 0.9" stroke-opacity="0.8"/>
<circle cx="159.00" cy="534.20" r="5.8" fill="url(#rbc2)" stroke="#a88ac0" stroke-width="0.8" stroke-dasharray="1.2 0.9" stroke-opacity="0.8"/>
<circle cx="185.90" cy="537.00" r="6" fill="url(#rbc2)" stroke="#a88ac0" stroke-width="0.8" stroke-dasharray="1.2 0.9" stroke-opacity="0.8"/>
<circle cx="202.20" cy="538.00" r="5.8" fill="url(#rbc2)" stroke="#a88ac0" stroke-width="0.8" stroke-dasharray="1.2 0.9" stroke-opacity="0.8"/>
<circle cx="121.50" cy="540.90" r="6" fill="url(#rbc2)" stroke="#a88ac0" stroke-width="0.8" stroke-dasharray="1.2 0.9" stroke-opacity="0.8"/>
<circle cx="134.00" cy="544.70" r="6" fill="url(#rbc2)" stroke="#a88ac0" stroke-width="0.8" stroke-dasharray="1.2 0.9" stroke-opacity="0.8"/>
<circle cx="148.40" cy="546.70" r="5.8" fill="url(#rbc2)" stroke="#a88ac0" stroke-width="0.8" stroke-dasharray="1.2 0.9" stroke-opacity="0.8"/>
<circle cx="115.70" cy="551.50" r="5.8" fill="url(#rbc2)" stroke="#a88ac0" stroke-width="0.8" stroke-dasharray="1.2 0.9" stroke-opacity="0.8"/>
<circle cx="183.00" cy="550.50" r="6" fill="url(#rbc2)" stroke="#a88ac0" stroke-width="0.8" stroke-dasharray="1.2 0.9" stroke-opacity="0.8"/>
<circle cx="196.50" cy="549.50" r="6" fill="url(#rbc2)" stroke="#a88ac0" stroke-width="0.8" stroke-dasharray="1.2 0.9" stroke-opacity="0.8"/>
<circle cx="139.70" cy="560.10" r="6" fill="url(#rbc2)" stroke="#a88ac0" stroke-width="0.8" stroke-dasharray="1.2 0.9" stroke-opacity="0.8"/>
<circle cx="161.80" cy="560.10" r="6" fill="url(#rbc2)" stroke="#a88ac0" stroke-width="0.8" stroke-dasharray="1.2 0.9" stroke-opacity="0.8"/>
<circle cx="172.40" cy="558.20" r="6" fill="url(#rbc2)" stroke="#a88ac0" stroke-width="0.8" stroke-dasharray="1.2 0.9" stroke-opacity="0.8"/>
<circle cx="126.30" cy="563.00" r="6" fill="url(#rbc2)" stroke="#a88ac0" stroke-width="0.8" stroke-dasharray="1.2 0.9" stroke-opacity="0.8"/>
<circle cx="115.70" cy="564.00" r="5.5" fill="url(#rbc2)" stroke="#a88ac0" stroke-width="0.8" stroke-dasharray="1.2 0.9" stroke-opacity="0.8"/>
<circle cx="198.40" cy="559.20" r="6" fill="url(#rbc2)" stroke="#a88ac0" stroke-width="0.8" stroke-dasharray="1.2 0.9" stroke-opacity="0.8"/>
<circle cx="200.30" cy="513.00" r="5.5" fill="url(#rbc2)" stroke="#a88ac0" stroke-width="0.8" stroke-dasharray="1.2 0.9" stroke-opacity="0.8"/>
<circle cx="168.00" cy="527.00" r="5.5" fill="url(#rbc2)" stroke="#a88ac0" stroke-width="0.8" stroke-dasharray="1.2 0.9" stroke-opacity="0.8"/>
<circle cx="146.00" cy="568.00" r="5.5" fill="url(#rbc2)" stroke="#a88ac0" stroke-width="0.8" stroke-dasharray="1.2 0.9" stroke-opacity="0.8"/>
<circle cx="185.00" cy="566.00" r="5.5" fill="url(#rbc2)" stroke="#a88ac0" stroke-width="0.8" stroke-dasharray="1.2 0.9" stroke-opacity="0.8"/>
</g>
<circle cx="112.80" cy="510.00" r="5.8" fill="#a886c0" />
<circle cx="149.00" cy="537.60" r="3.6" fill="#7a2088" />
<circle cx="189.70" cy="496.70" r="1.8" fill="#7c2490" />
<circle cx="142.20" cy="518.40" r="1.3" fill="#7c2490" />
<circle cx="149.30" cy="518.80" r="1.1" fill="#7c2490" />
<circle cx="148.80" cy="523.00" r="1.0" fill="#7c2490" />
<circle cx="134.90" cy="526.50" r="1.0" fill="#7c2490" />
<circle cx="131.00" cy="528.40" r="1.1" fill="#7c2490" />
<circle cx="143.20" cy="539.00" r="1.1" fill="#7c2490" />
<circle cx="141.70" cy="543.80" r="1.0" fill="#7c2490" />
<circle cx="155.10" cy="543.80" r="1.3" fill="#7c2490" />
<circle cx="147.40" cy="530.00" r="0.8" fill="#7c2490" />
<circle cx="130.00" cy="500.00" r="0.6" fill="#7c2490" />
<circle cx="175.00" cy="505.00" r="0.6" fill="#7c2490" />
</g>
<path d="M153.8,532.2 L157.4,520.6 L164.0,525.2 Z" fill="#000" stroke="#e6e2ee" stroke-width="0.8" paint-order="stroke"/>
<path d="M193.4,492.6 L195.6,482.4 L203.0,487.6 Z" fill="#000"/>
<rect x="52.00" y="566.90" width="51.40" height="2.80" fill="#000" />
<rect x="152.00" y="566.90" width="51.50" height="2.80" fill="#000" />
<line x1="55.40" y1="574.40" x2="161.20" y2="574.40" stroke="#222" stroke-width="0.8" />
<text x="108.25" y="584.80" font-size="8.3" fill="#222" stroke="#222" stroke-width="0.05" text-anchor="middle" textLength="71.6" lengthAdjust="spacingAndGlyphs" >6 weeks post-pIpC</text>
<text x="225.20" y="474.20" font-size="11.8" fill="#000" stroke="#000" stroke-width="0.35" font-weight="bold" >J</text>
<rect x="254.40" y="565.10" width="13.00" height="3.80" fill="#c3c1c6" />
<line x1="253.10" y1="481.30" x2="253.10" y2="557.70" stroke="#222" stroke-width="1.3" />
<line x1="250.50" y1="557.70" x2="255.70" y2="557.70" stroke="#222" stroke-width="1.1" />
<line x1="253.10" y1="564.60" x2="253.10" y2="569.30" stroke="#222" stroke-width="1.3" />
<line x1="250.50" y1="564.60" x2="255.70" y2="564.60" stroke="#222" stroke-width="1.1" />
<line x1="251.10" y1="569.30" x2="380.20" y2="569.30" stroke="#222" stroke-width="1.3" />
<line x1="250.90" y1="483.00" x2="253.10" y2="483.00" stroke="#222" stroke-width="0.9" />
<text x="247.40" y="485.35" font-size="6.5" fill="#333" stroke="#333" stroke-width="0.12" text-anchor="end" >11</text>
<line x1="250.90" y1="497.90" x2="253.10" y2="497.90" stroke="#222" stroke-width="0.9" />
<text x="247.40" y="500.25" font-size="6.5" fill="#333" stroke="#333" stroke-width="0.12" text-anchor="end" >10</text>
<line x1="250.90" y1="513.00" x2="253.10" y2="513.00" stroke="#222" stroke-width="0.9" />
<text x="247.40" y="515.35" font-size="6.5" fill="#333" stroke="#333" stroke-width="0.12" text-anchor="end" >9</text>
<line x1="250.90" y1="527.70" x2="253.10" y2="527.70" stroke="#222" stroke-width="0.9" />
<text x="247.40" y="530.05" font-size="6.5" fill="#333" stroke="#333" stroke-width="0.12" text-anchor="end" >8</text>
<line x1="250.90" y1="542.70" x2="253.10" y2="542.70" stroke="#222" stroke-width="0.9" />
<text x="247.40" y="545.05" font-size="6.5" fill="#333" stroke="#333" stroke-width="0.12" text-anchor="end" >7</text>
<line x1="250.90" y1="557.70" x2="253.10" y2="557.70" stroke="#222" stroke-width="0.9" />
<text x="247.40" y="560.05" font-size="6.5" fill="#333" stroke="#333" stroke-width="0.12" text-anchor="end" >6</text>
<line x1="250.90" y1="569.30" x2="253.10" y2="569.30" stroke="#222" stroke-width="0.9" />
<text x="247.40" y="571.65" font-size="6.5" fill="#333" stroke="#333" stroke-width="0.12" text-anchor="end" >0</text>
<line x1="252.90" y1="569.30" x2="252.90" y2="571.30" stroke="#222" stroke-width="0.9" />
<text x="252.90" y="582.20" font-size="6.5" fill="#333" stroke="#333" stroke-width="0.12" text-anchor="middle" >0</text>
<line x1="270.82" y1="569.30" x2="270.82" y2="571.30" stroke="#222" stroke-width="0.9" />
<text x="270.82" y="582.20" font-size="6.5" fill="#333" stroke="#333" stroke-width="0.12" text-anchor="middle" >4</text>
<line x1="288.74" y1="569.30" x2="288.74" y2="571.30" stroke="#222" stroke-width="0.9" />
<text x="288.74" y="582.20" font-size="6.5" fill="#333" stroke="#333" stroke-width="0.12" text-anchor="middle" >8</text>
<line x1="306.66" y1="569.30" x2="306.66" y2="571.30" stroke="#222" stroke-width="0.9" />
<text x="306.66" y="582.20" font-size="6.5" fill="#333" stroke="#333" stroke-width="0.12" text-anchor="middle" >12</text>
<line x1="324.58" y1="569.30" x2="324.58" y2="571.30" stroke="#222" stroke-width="0.9" />
<text x="324.58" y="582.20" font-size="6.5" fill="#333" stroke="#333" stroke-width="0.12" text-anchor="middle" >16</text>
<line x1="342.50" y1="569.30" x2="342.50" y2="571.30" stroke="#222" stroke-width="0.9" />
<text x="342.50" y="582.20" font-size="6.5" fill="#333" stroke="#333" stroke-width="0.12" text-anchor="middle" >20</text>
<line x1="360.42" y1="569.30" x2="360.42" y2="571.30" stroke="#222" stroke-width="0.9" />
<text x="360.42" y="582.20" font-size="6.5" fill="#333" stroke="#333" stroke-width="0.12" text-anchor="middle" >24</text>
<line x1="378.34" y1="569.30" x2="378.34" y2="571.30" stroke="#222" stroke-width="0.9" />
<text x="378.34" y="582.20" font-size="6.5" fill="#333" stroke="#333" stroke-width="0.12" text-anchor="middle" >28</text>
<text x="232.20" y="525.10" font-size="8.0" fill="#333" stroke="#333" stroke-width="0.12" text-anchor="middle" textLength="49" lengthAdjust="spacingAndGlyphs" transform="rotate(-90 232.20 525.10)" >RBC (x10<tspan font-size="4.3" dy="-2.6">6</tspan><tspan dy="2.6">/mm</tspan><tspan font-size="4.3" dy="-2.6">3</tspan><tspan dy="2.6">)</tspan></text>
<line x1="260.80" y1="577.60" x2="260.80" y2="585.00" stroke="#111" stroke-width="0.9" />
<path d="M258.70,579.20 L260.80,574.60 L262.90,579.20 L260.80,578.00 Z" fill="#111"/>
<text x="260.60" y="593.40" font-size="6.6" fill="#333" stroke="#333" stroke-width="0.12" text-anchor="middle" textLength="14.0" lengthAdjust="spacingAndGlyphs" >pIpC</text>
<text x="317.10" y="592.30" font-size="8.0" fill="#333" stroke="#333" stroke-width="0.12" text-anchor="middle" textLength="38.7" lengthAdjust="spacingAndGlyphs" >Time (weeks)</text>
<path d="M253.10,510.40 L270.70,514.70 L288.60,523.90 L324.20,512.90 L342.20,515.90 L369.10,514.30" fill="none" stroke="#2d4b7a" stroke-width="1.0" stroke-linejoin="round"/>
<line x1="253.10" y1="508.00" x2="253.10" y2="513.50" stroke="#2d4b7a" stroke-width="0.9" />
<line x1="251.30" y1="508.00" x2="254.90" y2="508.00" stroke="#2d4b7a" stroke-width="0.9" />
<line x1="251.30" y1="513.50" x2="254.90" y2="513.50" stroke="#2d4b7a" stroke-width="0.9" />
<line x1="342.20" y1="513.00" x2="342.20" y2="519.00" stroke="#2d4b7a" stroke-width="0.9" />
<line x1="340.40" y1="513.00" x2="344.00" y2="513.00" stroke="#2d4b7a" stroke-width="0.9" />
<line x1="340.40" y1="519.00" x2="344.00" y2="519.00" stroke="#2d4b7a" stroke-width="0.9" />
<line x1="369.10" y1="511.50" x2="369.10" y2="517.00" stroke="#2d4b7a" stroke-width="0.9" />
<line x1="367.30" y1="511.50" x2="370.90" y2="511.50" stroke="#2d4b7a" stroke-width="0.9" />
<line x1="367.30" y1="517.00" x2="370.90" y2="517.00" stroke="#2d4b7a" stroke-width="0.9" />
<circle cx="253.10" cy="510.40" r="2.2" fill="#2d4b7a" />
<circle cx="270.70" cy="514.70" r="2.2" fill="#2d4b7a" />
<circle cx="288.60" cy="523.90" r="2.2" fill="#2d4b7a" />
<circle cx="324.20" cy="512.90" r="2.2" fill="#2d4b7a" />
<circle cx="342.20" cy="515.90" r="2.2" fill="#2d4b7a" />
<circle cx="369.10" cy="514.30" r="2.2" fill="#2d4b7a" />
<path d="M253.10,506.60 L270.70,510.00 L288.60,520.40 L324.20,515.90 L342.20,513.50 L369.10,517.50" fill="none" stroke="#6ca844" stroke-width="1.0" stroke-linejoin="round"/>
<line x1="270.70" y1="503.00" x2="270.70" y2="517.00" stroke="#6ca844" stroke-width="0.9" />
<line x1="268.90" y1="503.00" x2="272.50" y2="503.00" stroke="#6ca844" stroke-width="0.9" />
<line x1="268.90" y1="517.00" x2="272.50" y2="517.00" stroke="#6ca844" stroke-width="0.9" />
<line x1="288.60" y1="518.00" x2="288.60" y2="523.00" stroke="#6ca844" stroke-width="0.9" />
<line x1="286.80" y1="518.00" x2="290.40" y2="518.00" stroke="#6ca844" stroke-width="0.9" />
<line x1="286.80" y1="523.00" x2="290.40" y2="523.00" stroke="#6ca844" stroke-width="0.9" />
<line x1="342.20" y1="510.00" x2="342.20" y2="517.00" stroke="#6ca844" stroke-width="0.9" />
<line x1="340.40" y1="510.00" x2="344.00" y2="510.00" stroke="#6ca844" stroke-width="0.9" />
<line x1="340.40" y1="517.00" x2="344.00" y2="517.00" stroke="#6ca844" stroke-width="0.9" />
<circle cx="253.10" cy="506.60" r="2.2" fill="#6ca844" />
<circle cx="270.70" cy="510.00" r="2.2" fill="#6ca844" />
<circle cx="288.60" cy="520.40" r="2.2" fill="#6ca844" />
<circle cx="324.20" cy="515.90" r="2.2" fill="#6ca844" />
<circle cx="342.20" cy="513.50" r="2.2" fill="#6ca844" />
<circle cx="369.10" cy="517.50" r="2.2" fill="#6ca844" />
<path d="M253.10,500.50 L270.70,523.30 L288.60,523.90 L324.20,518.20 L342.20,517.30 L369.10,522.20" fill="none" stroke="#a20826" stroke-width="1.0" stroke-linejoin="round"/>
<line x1="270.70" y1="520.00" x2="270.70" y2="527.00" stroke="#a20826" stroke-width="0.9" />
<line x1="268.90" y1="520.00" x2="272.50" y2="520.00" stroke="#a20826" stroke-width="0.9" />
<line x1="268.90" y1="527.00" x2="272.50" y2="527.00" stroke="#a20826" stroke-width="0.9" />
<line x1="369.10" y1="519.50" x2="369.10" y2="525.00" stroke="#a20826" stroke-width="0.9" />
<line x1="367.30" y1="519.50" x2="370.90" y2="519.50" stroke="#a20826" stroke-width="0.9" />
<line x1="367.30" y1="525.00" x2="370.90" y2="525.00" stroke="#a20826" stroke-width="0.9" />
<circle cx="253.10" cy="500.50" r="2.2" fill="#a20826" />
<circle cx="270.70" cy="523.30" r="2.2" fill="#a20826" />
<circle cx="288.60" cy="523.90" r="2.2" fill="#a20826" />
<circle cx="324.20" cy="518.20" r="2.2" fill="#a20826" />
<circle cx="342.20" cy="517.30" r="2.2" fill="#a20826" />
<circle cx="369.10" cy="522.20" r="2.2" fill="#a20826" />
<line x1="380.80" y1="515.60" x2="390.20" y2="515.60" stroke="#6ca844" stroke-width="1.0" />
<circle cx="385.40" cy="515.60" r="1.9" fill="#6ca844" />
<text x="393.5" y="518.6" font-size="6.8" fill="#6ca844" textLength="39.2" lengthAdjust="spacingAndGlyphs" stroke="#6ca844" stroke-width="0.12">Stk4<tspan font-size="4" dy="-2.9">+/+</tspan><tspan dy="2.9">Stk3</tspan><tspan font-size="4" dy="-2.9">+/+</tspan></text>
<line x1="380.80" y1="526.00" x2="390.20" y2="526.00" stroke="#2d4b7a" stroke-width="1.0" />
<circle cx="385.40" cy="526.00" r="1.9" fill="#2d4b7a" />
<text x="393.5" y="529.0" font-size="6.8" fill="#2d4b7a" textLength="39.2" lengthAdjust="spacingAndGlyphs" stroke="#2d4b7a" stroke-width="0.12">Stk4<tspan font-size="4" dy="-2.9">Δ/+</tspan><tspan dy="2.9">Stk3</tspan><tspan font-size="4" dy="-2.9">Δ/+</tspan></text>
<line x1="380.80" y1="535.60" x2="390.20" y2="535.60" stroke="#a20826" stroke-width="1.0" />
<circle cx="385.40" cy="535.60" r="1.9" fill="#a20826" />
<text x="393.5" y="538.6" font-size="6.8" fill="#a20826" textLength="39.2" lengthAdjust="spacingAndGlyphs" stroke="#a20826" stroke-width="0.12">Stk4<tspan font-size="4" dy="-2.9">Δ/Δ</tspan><tspan dy="2.9">Stk3</tspan><tspan font-size="4" dy="-2.9">Δ/Δ</tspan></text>
<rect x="0.6" y="0.5" width="518.8" height="600.9" fill="none" stroke="#000" stroke-width="1.25"/>
</svg>
</body></html>
